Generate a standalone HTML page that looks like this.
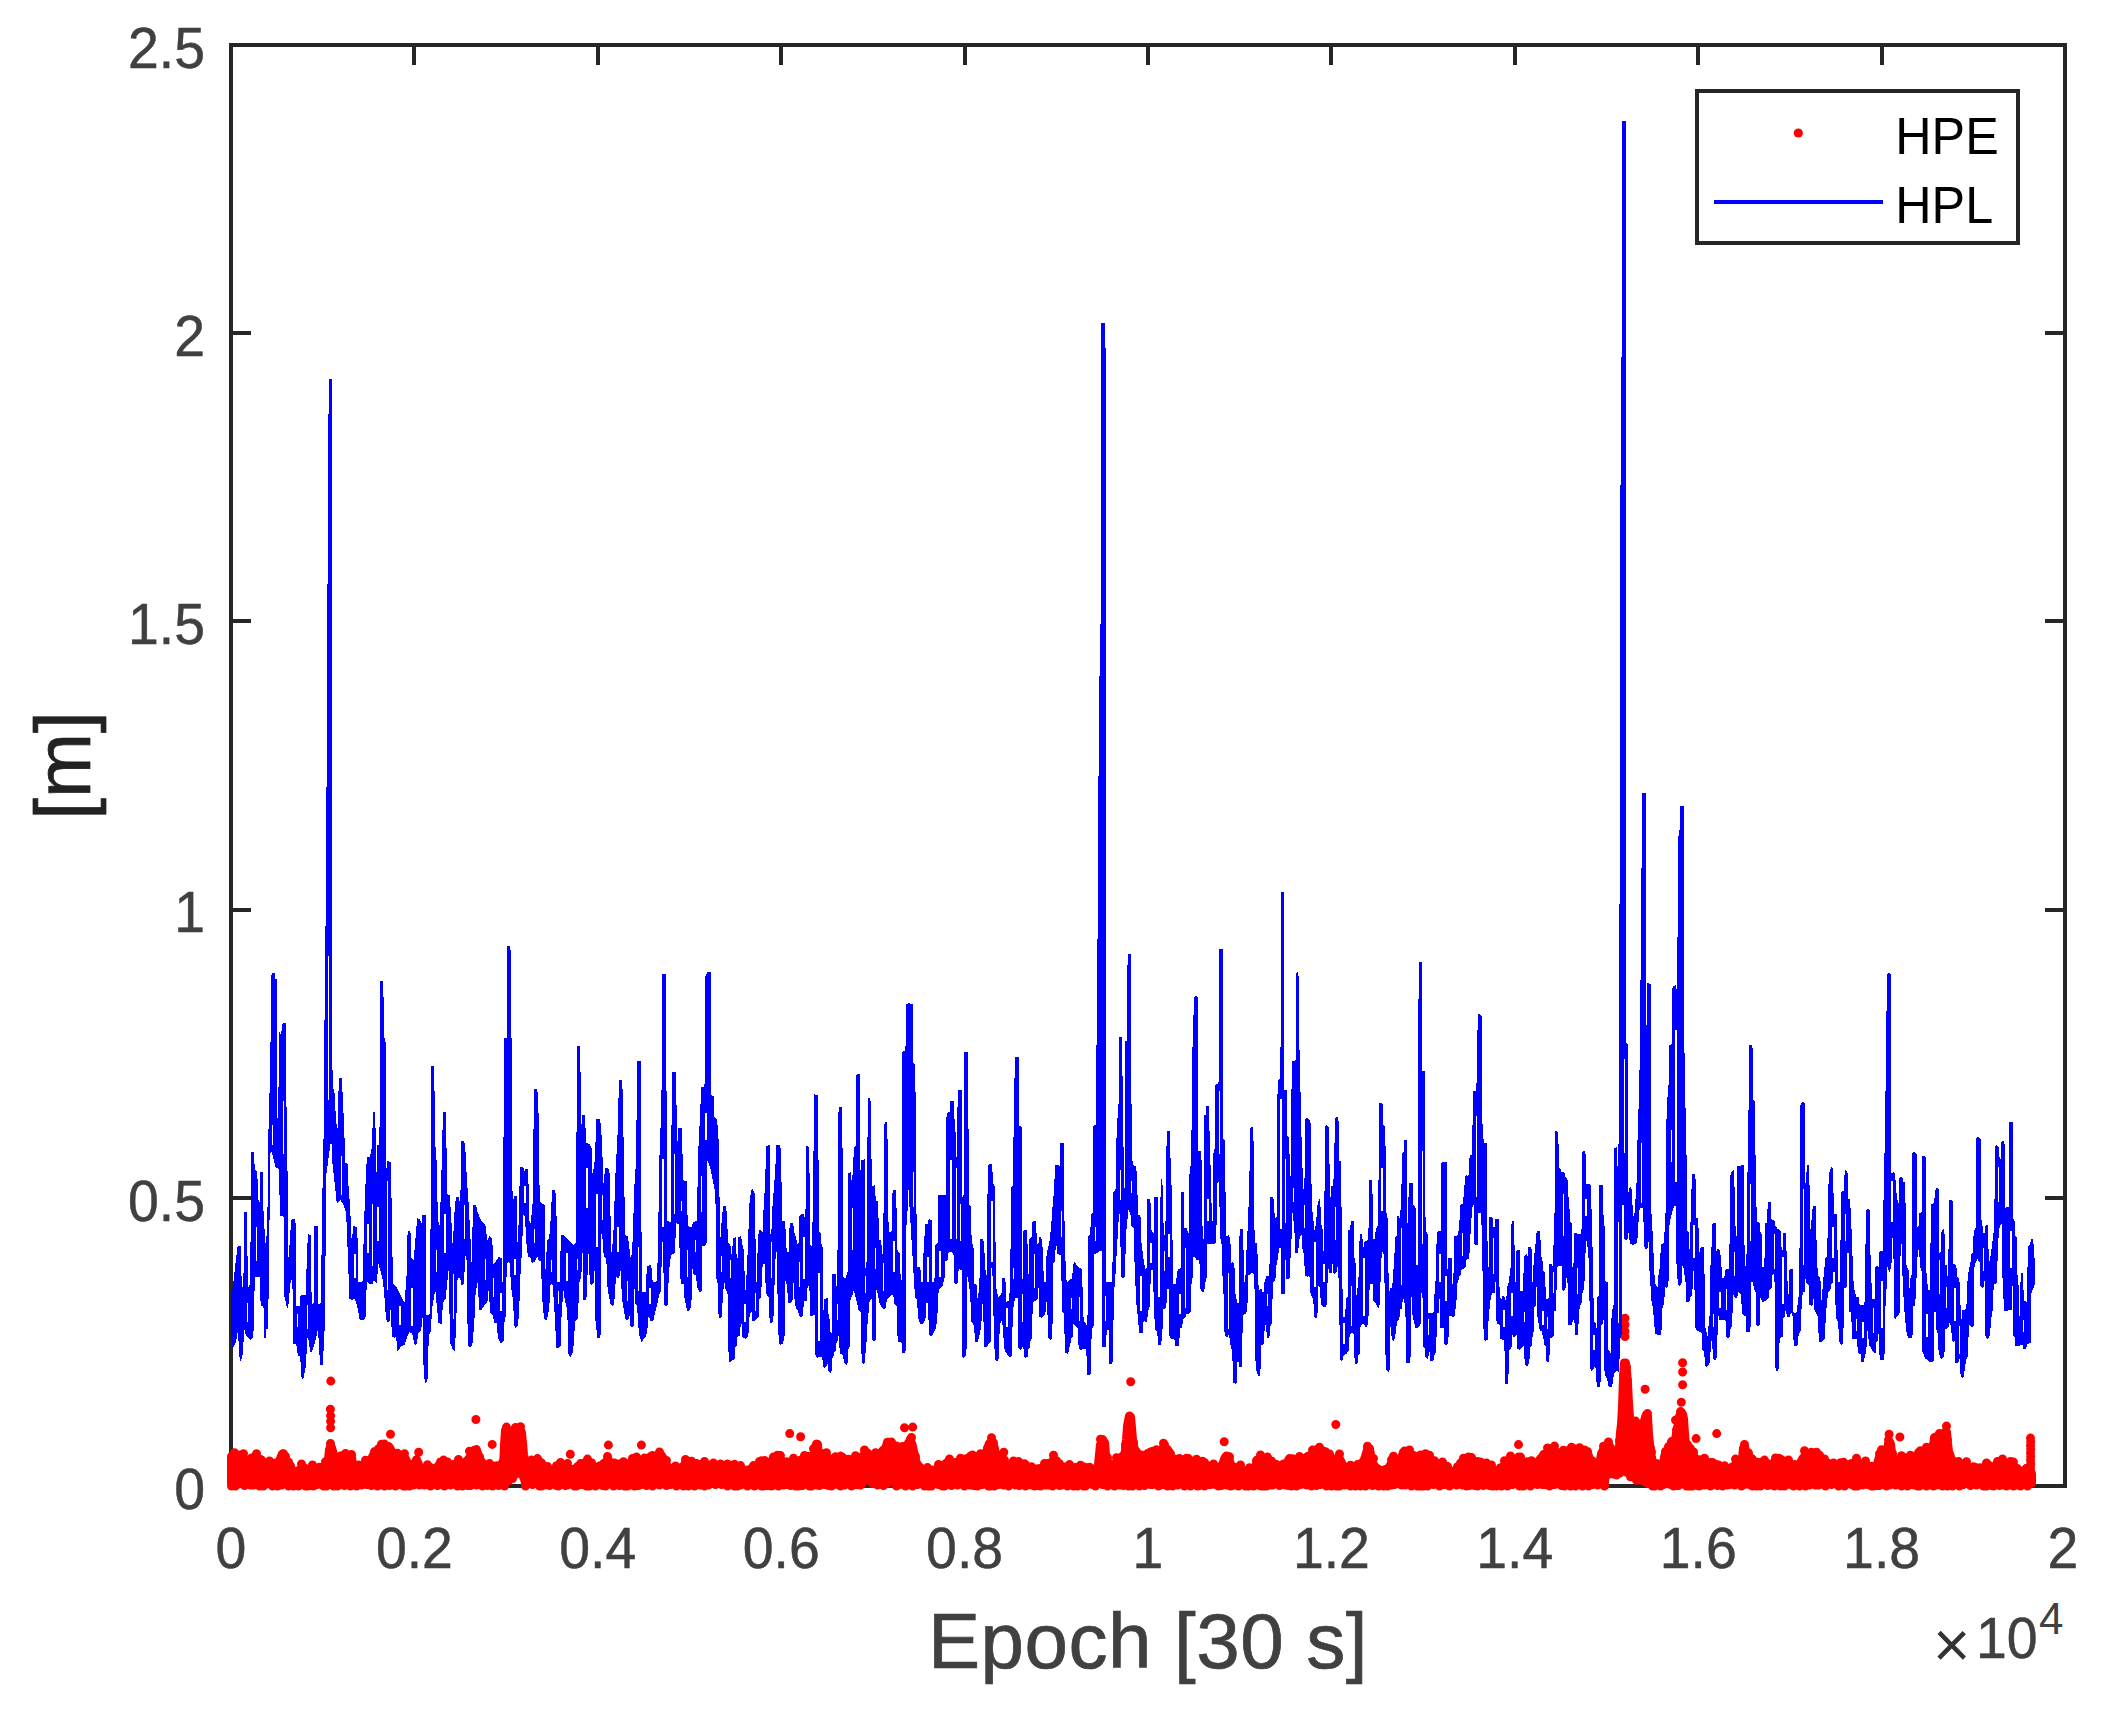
<!DOCTYPE html>
<html lang="en"><head><meta charset="utf-8"><title>HPE / HPL</title>
<style>html,body{margin:0;padding:0;background:#fff}body{width:2121px;height:1716px;overflow:hidden}svg{display:block}text{font-family:"Liberation Sans",sans-serif}.t{font-size:56.7px;fill:#404040;stroke:#404040;stroke-width:.5px}.l{font-size:78.2px;fill:#404040;stroke:#404040;stroke-width:.7px}</style></head><body>
<svg width="2121" height="1716" viewBox="0 0 2121 1716">
<rect width="2121" height="1716" fill="#fff"/>
<g stroke="#262626" stroke-width="4" fill="none" shape-rendering="crispEdges">
<path d="M231.0 1486.0v-20M231.0 45.0v20M414.4 1486.0v-20M414.4 45.0v20M597.8 1486.0v-20M597.8 45.0v20M781.2 1486.0v-20M781.2 45.0v20M964.6 1486.0v-20M964.6 45.0v20M1148.0 1486.0v-20M1148.0 45.0v20M1331.4 1486.0v-20M1331.4 45.0v20M1514.8 1486.0v-20M1514.8 45.0v20M1698.2 1486.0v-20M1698.2 45.0v20M1881.6 1486.0v-20M1881.6 45.0v20M2065.0 1486.0v-20M2065.0 45.0v20M231.0 1486.0h20M2065.0 1486.0h-20M231.0 1197.8h20M2065.0 1197.8h-20M231.0 909.6h20M2065.0 909.6h-20M231.0 621.4h20M2065.0 621.4h-20M231.0 333.2h20M2065.0 333.2h-20M231.0 45.0h20M2065.0 45.0h-20"/>
</g>
<rect x="231.0" y="45.0" width="1834.0" height="1441.0" fill="none" stroke="#262626" stroke-width="4" shape-rendering="crispEdges"/>
<g id="hpe"><polygon points="231.5,1458.9 232.5,1458.2 233.5,1457.5 234.5,1458.9 235.5,1458.2 236.5,1457.5 237.5,1456.4 238.5,1456.6 239.5,1456.9 240.5,1457.1 241.5,1457.4 242.5,1458.1 243.5,1458.9 244.5,1459.6 245.5,1460.4 246.5,1460.5 247.5,1460.5 248.5,1460.5 249.5,1460.5 250.5,1460.5 251.5,1460.5 252.5,1460.5 253.5,1460.2 254.5,1460.0 255.5,1459.7 256.5,1459.5 257.5,1459.2 258.5,1459.0 259.5,1458.9 260.5,1461.2 261.5,1463.5 262.5,1465.1 263.5,1465.3 264.5,1465.5 265.5,1465.7 266.5,1465.9 267.5,1466.1 268.5,1466.1 269.5,1466.1 270.5,1466.1 271.5,1466.1 272.5,1466.1 273.5,1466.1 274.5,1465.5 275.5,1464.9 276.5,1464.3 277.5,1463.7 278.5,1463.1 279.5,1461.4 280.5,1458.7 281.5,1456.1 282.5,1453.9 283.5,1457.3 284.5,1461.3 285.5,1463.3 286.5,1464.0 287.5,1464.8 288.5,1465.5 289.5,1466.4 290.5,1467.7 291.5,1468.9 292.5,1470.2 293.5,1471.4 294.5,1471.4 295.5,1471.4 296.5,1471.4 297.5,1471.4 298.5,1471.4 299.5,1471.4 300.5,1470.9 301.5,1470.2 302.5,1470.1 303.5,1470.8 304.5,1471.5 305.5,1471.5 306.5,1471.5 307.5,1471.5 308.5,1471.5 309.5,1471.5 310.5,1471.5 311.5,1471.0 312.5,1470.5 313.5,1470.0 314.5,1469.5 315.5,1469.3 316.5,1469.3 317.5,1469.3 318.5,1469.3 319.5,1469.3 320.5,1469.3 321.5,1469.3 322.5,1469.0 323.5,1468.8 324.5,1468.5 325.5,1468.3 326.5,1466.4 327.5,1464.3 328.5,1459.8 329.5,1449.8 330.5,1446.9 331.5,1447.6 332.5,1451.2 333.5,1454.9 334.5,1458.6 335.5,1459.4 336.5,1459.4 337.5,1459.4 338.5,1459.4 339.5,1459.4 340.5,1459.4 341.5,1459.4 342.5,1459.2 343.5,1459.0 344.5,1458.8 345.5,1458.6 346.5,1458.4 347.5,1458.2 348.5,1457.9 349.5,1457.7 350.5,1457.4 351.5,1457.4 352.5,1464.4 353.5,1469.3 354.5,1469.3 355.5,1469.3 356.5,1469.3 357.5,1469.3 358.5,1469.3 359.5,1469.3 360.5,1469.0 361.5,1468.8 362.5,1468.5 363.5,1468.3 364.5,1467.6 365.5,1466.9 366.5,1466.3 367.5,1465.4 368.5,1464.4 369.5,1463.4 370.5,1461.8 371.5,1459.4 372.5,1457.1 373.5,1455.1 374.5,1454.6 375.5,1454.1 376.5,1453.6 377.5,1453.1 378.5,1452.2 379.5,1451.2 380.5,1450.2 381.5,1449.2 382.5,1448.4 383.5,1447.7 384.5,1447.6 385.5,1447.6 386.5,1447.6 387.5,1447.6 388.5,1447.6 389.5,1447.6 390.5,1449.5 391.5,1454.0 392.5,1457.5 393.5,1457.8 394.5,1458.2 395.5,1458.5 396.5,1458.5 397.5,1458.5 398.5,1458.5 399.5,1458.5 400.5,1458.5 401.5,1458.5 402.5,1458.3 403.5,1458.2 404.5,1458.6 405.5,1459.1 406.5,1461.0 407.5,1469.2 408.5,1469.2 409.5,1469.2 410.5,1469.2 411.5,1469.2 412.5,1469.2 413.5,1469.2 414.5,1467.2 415.5,1465.2 416.5,1463.2 417.5,1462.1 418.5,1464.6 419.5,1469.4 420.5,1469.9 421.5,1470.4 422.5,1470.9 423.5,1471.4 424.5,1471.4 425.5,1471.4 426.5,1471.4 427.5,1471.4 428.5,1471.4 429.5,1471.4 430.5,1471.1 431.5,1470.6 432.5,1470.1 433.5,1469.6 434.5,1469.0 435.5,1468.4 436.5,1467.8 437.5,1467.2 438.5,1466.6 439.5,1466.0 440.5,1465.4 441.5,1464.8 442.5,1464.2 443.5,1463.6 444.5,1463.0 445.5,1462.0 446.5,1464.5 447.5,1467.0 448.5,1467.0 449.5,1467.0 450.5,1467.0 451.5,1467.0 452.5,1467.0 453.5,1467.0 454.5,1466.9 455.5,1466.7 456.5,1466.4 457.5,1466.2 458.5,1465.8 459.5,1465.3 460.5,1464.8 461.5,1464.3 462.5,1463.8 463.5,1463.3 464.5,1462.8 465.5,1462.3 466.5,1461.8 467.5,1460.5 468.5,1459.2 469.5,1457.8 470.5,1456.9 471.5,1456.1 472.5,1455.4 473.5,1454.6 474.5,1453.7 475.5,1452.7 476.5,1454.3 477.5,1456.0 478.5,1457.7 479.5,1459.2 480.5,1460.5 481.5,1461.8 482.5,1463.2 483.5,1464.9 484.5,1466.6 485.5,1468.2 486.5,1468.2 487.5,1468.2 488.5,1468.2 489.5,1468.2 490.5,1468.2 491.5,1468.6 492.5,1469.3 493.5,1469.3 494.5,1469.3 495.5,1469.3 496.5,1469.3 497.5,1469.3 498.5,1469.3 499.5,1469.3 500.5,1469.3 501.5,1469.3 502.5,1469.3 503.5,1467.7 504.5,1445.2 505.5,1430.1 506.5,1430.6 507.5,1431.3 508.5,1432.1 509.5,1432.8 510.5,1433.5 511.5,1433.5 512.5,1433.5 513.5,1433.5 514.5,1433.5 515.5,1433.5 516.5,1433.5 517.5,1432.5 518.5,1431.5 519.5,1430.5 520.5,1430.3 521.5,1432.8 522.5,1442.7 523.5,1454.4 524.5,1460.4 525.5,1466.4 526.5,1466.7 527.5,1466.7 528.5,1466.7 529.5,1466.7 530.5,1466.7 531.5,1466.7 532.5,1466.7 533.5,1466.2 534.5,1465.7 535.5,1465.2 536.5,1463.6 537.5,1461.1 538.5,1460.5 539.5,1462.4 540.5,1464.4 541.5,1466.4 542.5,1468.0 543.5,1469.3 544.5,1470.6 545.5,1471.3 546.5,1471.3 547.5,1471.3 548.5,1471.3 549.5,1471.3 550.5,1471.3 551.5,1471.3 552.5,1470.8 553.5,1470.3 554.5,1469.8 555.5,1469.3 556.5,1468.8 557.5,1468.3 558.5,1468.4 559.5,1468.8 560.5,1469.2 561.5,1469.6 562.5,1470.0 563.5,1470.4 564.5,1470.4 565.5,1470.4 566.5,1470.4 567.5,1470.4 568.5,1470.4 569.5,1470.4 570.5,1470.4 571.5,1470.4 572.5,1470.4 573.5,1470.4 574.5,1470.4 575.5,1470.4 576.5,1470.4 577.5,1470.1 578.5,1469.1 579.5,1468.1 580.5,1467.1 581.5,1466.1 582.5,1465.1 583.5,1465.2 584.5,1466.0 585.5,1466.0 586.5,1466.0 587.5,1466.0 588.5,1466.0 589.5,1466.0 590.5,1466.0 591.5,1465.7 592.5,1465.5 593.5,1466.8 594.5,1468.5 595.5,1468.9 596.5,1468.9 597.5,1468.9 598.5,1468.9 599.5,1468.9 600.5,1468.9 601.5,1468.9 602.5,1468.1 603.5,1467.3 604.5,1466.5 605.5,1465.7 606.5,1464.8 607.5,1461.5 608.5,1462.3 609.5,1463.2 610.5,1464.2 611.5,1465.2 612.5,1466.1 613.5,1466.3 614.5,1466.4 615.5,1466.6 616.5,1466.8 617.5,1466.9 618.5,1467.1 619.5,1467.1 620.5,1467.1 621.5,1467.1 622.5,1467.1 623.5,1467.1 624.5,1467.1 625.5,1466.8 626.5,1466.3 627.5,1465.8 628.5,1465.3 629.5,1464.8 630.5,1464.3 631.5,1463.8 632.5,1463.1 633.5,1462.3 634.5,1461.6 635.5,1460.8 636.5,1460.5 637.5,1460.2 638.5,1460.1 639.5,1460.3 640.5,1460.4 641.5,1460.5 642.5,1460.6 643.5,1460.6 644.5,1460.6 645.5,1460.6 646.5,1460.6 647.5,1460.6 648.5,1460.6 649.5,1460.2 650.5,1459.6 651.5,1459.9 652.5,1460.6 653.5,1460.6 654.5,1460.6 655.5,1460.6 656.5,1460.6 657.5,1460.6 658.5,1460.6 659.5,1458.6 660.5,1456.6 661.5,1455.5 662.5,1458.0 663.5,1460.5 664.5,1462.9 665.5,1464.4 666.5,1465.9 667.5,1467.4 668.5,1468.9 669.5,1469.5 670.5,1469.6 671.5,1469.8 672.5,1470.0 673.5,1470.1 674.5,1470.3 675.5,1470.3 676.5,1470.3 677.5,1470.3 678.5,1470.3 679.5,1470.3 680.5,1470.3 681.5,1470.0 682.5,1468.3 683.5,1466.5 684.5,1464.8 685.5,1463.0 686.5,1463.0 687.5,1464.0 688.5,1465.0 689.5,1466.0 690.5,1467.0 691.5,1467.0 692.5,1467.0 693.5,1467.0 694.5,1467.0 695.5,1467.0 696.5,1467.0 697.5,1466.7 698.5,1466.2 699.5,1465.7 700.5,1465.2 701.5,1464.7 702.5,1464.8 703.5,1465.0 704.5,1465.5 705.5,1466.2 706.5,1466.9 707.5,1467.5 708.5,1468.2 709.5,1468.9 710.5,1469.3 711.5,1469.3 712.5,1469.3 713.5,1469.3 714.5,1469.3 715.5,1469.3 716.5,1469.3 717.5,1469.1 718.5,1468.9 719.5,1468.8 720.5,1469.0 721.5,1469.2 722.5,1469.2 723.5,1469.2 724.5,1469.2 725.5,1469.2 726.5,1469.2 727.5,1469.2 728.5,1469.0 729.5,1468.2 730.5,1467.4 731.5,1466.6 732.5,1465.8 733.5,1465.0 734.5,1464.4 735.5,1465.4 736.5,1466.5 737.5,1467.9 738.5,1469.3 739.5,1470.7 740.5,1472.1 741.5,1473.5 742.5,1473.5 743.5,1473.5 744.5,1473.5 745.5,1473.5 746.5,1473.5 747.5,1473.5 748.5,1473.2 749.5,1472.6 750.5,1472.0 751.5,1471.4 752.5,1470.8 753.5,1470.0 754.5,1469.2 755.5,1468.4 756.5,1467.5 757.5,1466.7 758.5,1465.9 759.5,1465.0 760.5,1464.6 761.5,1464.2 762.5,1463.8 763.5,1463.4 764.5,1463.4 765.5,1463.7 766.5,1463.9 767.5,1463.9 768.5,1463.9 769.5,1463.9 770.5,1463.9 771.5,1463.9 772.5,1463.9 773.5,1462.8 774.5,1461.5 775.5,1460.3 776.5,1459.0 777.5,1457.7 778.5,1458.5 779.5,1459.5 780.5,1460.5 781.5,1461.5 782.5,1462.5 783.5,1462.7 784.5,1462.7 785.5,1462.7 786.5,1462.7 787.5,1462.7 788.5,1462.7 789.5,1462.7 790.5,1463.4 791.5,1464.2 792.5,1464.9 793.5,1464.9 794.5,1464.9 795.5,1464.9 796.5,1464.9 797.5,1464.9 798.5,1464.9 799.5,1464.1 800.5,1463.1 801.5,1462.1 802.5,1461.1 803.5,1460.6 804.5,1460.4 805.5,1460.2 806.5,1460.1 807.5,1459.9 808.5,1459.7 809.5,1459.5 810.5,1458.5 811.5,1457.5 812.5,1456.5 813.5,1455.5 814.5,1454.5 815.5,1449.2 816.5,1444.1 817.5,1445.4 818.5,1455.0 819.5,1456.5 820.5,1456.7 821.5,1456.9 822.5,1457.1 823.5,1457.3 824.5,1457.8 825.5,1458.6 826.5,1459.4 827.5,1460.2 828.5,1461.0 829.5,1461.7 830.5,1461.7 831.5,1461.7 832.5,1461.7 833.5,1461.7 834.5,1461.7 835.5,1461.7 836.5,1461.2 837.5,1460.7 838.5,1460.2 839.5,1459.7 840.5,1456.1 841.5,1456.8 842.5,1458.5 843.5,1459.5 844.5,1460.5 845.5,1461.5 846.5,1462.5 847.5,1462.7 848.5,1462.7 849.5,1462.7 850.5,1462.7 851.5,1462.7 852.5,1462.7 853.5,1462.7 854.5,1462.5 855.5,1462.4 856.5,1462.2 857.5,1462.0 858.5,1461.9 859.5,1461.5 860.5,1460.0 861.5,1458.5 862.5,1457.0 863.5,1455.5 864.5,1454.8 865.5,1454.3 866.5,1453.8 867.5,1453.3 868.5,1455.4 869.5,1458.2 870.5,1458.8 871.5,1459.1 872.5,1459.5 873.5,1459.5 874.5,1459.5 875.5,1459.5 876.5,1459.5 877.5,1459.5 878.5,1459.5 879.5,1458.9 880.5,1457.9 881.5,1456.9 882.5,1455.5 883.5,1453.5 884.5,1451.5 885.5,1449.3 886.5,1445.8 887.5,1442.3 888.5,1442.3 889.5,1443.1 890.5,1443.8 891.5,1444.6 892.5,1445.3 893.5,1446.1 894.5,1446.8 895.5,1447.6 896.5,1449.4 897.5,1451.4 898.5,1453.4 899.5,1453.4 900.5,1453.4 901.5,1453.4 902.5,1453.4 903.5,1453.4 904.5,1453.4 905.5,1453.1 906.5,1451.4 907.5,1449.6 908.5,1443.0 909.5,1441.9 910.5,1442.5 911.5,1443.1 912.5,1446.4 913.5,1451.4 914.5,1455.9 915.5,1459.9 916.5,1463.9 917.5,1467.9 918.5,1471.5 919.5,1471.9 920.5,1472.2 921.5,1472.5 922.5,1472.9 923.5,1473.2 924.5,1473.5 925.5,1473.5 926.5,1473.5 927.5,1473.5 928.5,1473.5 929.5,1473.5 930.5,1473.5 931.5,1473.5 932.5,1473.1 933.5,1472.8 934.5,1472.5 935.5,1472.1 936.5,1471.8 937.5,1471.4 938.5,1470.6 939.5,1469.8 940.5,1468.9 941.5,1468.1 942.5,1467.3 943.5,1466.4 944.5,1465.9 945.5,1465.7 946.5,1465.5 947.5,1465.3 948.5,1465.5 949.5,1465.7 950.5,1466.0 951.5,1466.0 952.5,1466.0 953.5,1466.0 954.5,1466.0 955.5,1466.0 956.5,1466.0 957.5,1465.9 958.5,1465.6 959.5,1465.2 960.5,1464.9 961.5,1464.6 962.5,1464.2 963.5,1463.9 964.5,1463.1 965.5,1462.4 966.5,1461.6 967.5,1460.9 968.5,1460.1 969.5,1459.4 970.5,1458.6 971.5,1457.9 972.5,1458.4 973.5,1459.4 974.5,1460.4 975.5,1460.4 976.5,1460.4 977.5,1460.4 978.5,1460.4 979.5,1460.4 980.5,1460.4 981.5,1459.8 982.5,1458.5 983.5,1457.3 984.5,1456.0 985.5,1454.3 986.5,1451.8 987.5,1449.2 988.5,1446.2 989.5,1443.3 990.5,1443.1 991.5,1443.8 992.5,1444.8 993.5,1445.8 994.5,1448.6 995.5,1457.4 996.5,1457.8 997.5,1458.1 998.5,1458.4 999.5,1459.5 1000.5,1460.7 1001.5,1461.8 1002.5,1463.0 1003.5,1464.2 1004.5,1465.3 1005.5,1466.0 1006.5,1466.0 1007.5,1466.0 1008.5,1466.0 1009.5,1466.0 1010.5,1466.0 1011.5,1466.0 1012.5,1465.8 1013.5,1465.7 1014.5,1465.5 1015.5,1465.3 1016.5,1465.2 1017.5,1465.0 1018.5,1464.5 1019.5,1464.8 1020.5,1466.0 1021.5,1467.2 1022.5,1467.5 1023.5,1467.8 1024.5,1468.0 1025.5,1468.3 1026.5,1468.6 1027.5,1468.9 1028.5,1469.2 1029.5,1469.3 1030.5,1469.3 1031.5,1469.3 1032.5,1469.3 1033.5,1469.3 1034.5,1469.3 1035.5,1469.3 1036.5,1469.1 1037.5,1469.0 1038.5,1468.9 1039.5,1468.8 1040.5,1468.6 1041.5,1468.5 1042.5,1468.4 1043.5,1468.3 1044.5,1468.0 1045.5,1467.6 1046.5,1467.3 1047.5,1467.0 1048.5,1466.6 1049.5,1466.3 1050.5,1465.5 1051.5,1463.9 1052.5,1462.2 1053.5,1461.5 1054.5,1462.4 1055.5,1463.3 1056.5,1464.3 1057.5,1465.3 1058.5,1466.3 1059.5,1467.3 1060.5,1468.3 1061.5,1469.3 1062.5,1469.5 1063.5,1469.7 1064.5,1469.8 1065.5,1470.0 1066.5,1470.2 1067.5,1470.3 1068.5,1470.4 1069.5,1470.4 1070.5,1470.4 1071.5,1470.4 1072.5,1470.4 1073.5,1470.4 1074.5,1470.4 1075.5,1470.4 1076.5,1470.4 1077.5,1470.4 1078.5,1470.4 1079.5,1470.4 1080.5,1470.4 1081.5,1470.4 1082.5,1470.4 1083.5,1470.3 1084.5,1470.2 1085.5,1470.1 1086.5,1469.9 1087.5,1469.8 1088.5,1470.0 1089.5,1470.2 1090.5,1470.4 1091.5,1470.4 1092.5,1470.4 1093.5,1470.4 1094.5,1470.4 1095.5,1470.4 1096.5,1470.4 1097.5,1468.0 1098.5,1464.5 1099.5,1454.4 1100.5,1444.7 1101.5,1443.1 1102.5,1441.4 1103.5,1441.2 1104.5,1442.7 1105.5,1454.1 1106.5,1463.1 1107.5,1463.6 1108.5,1464.1 1109.5,1464.6 1110.5,1464.7 1111.5,1464.7 1112.5,1464.7 1113.5,1464.7 1114.5,1464.7 1115.5,1464.7 1116.5,1464.7 1117.5,1463.0 1118.5,1461.4 1119.5,1459.7 1120.5,1459.3 1121.5,1459.1 1122.5,1458.8 1123.5,1458.6 1124.5,1455.6 1125.5,1450.6 1126.5,1440.1 1127.5,1426.3 1128.5,1420.8 1129.5,1416.0 1130.5,1416.9 1131.5,1427.6 1132.5,1439.7 1133.5,1445.7 1134.5,1450.7 1135.5,1453.3 1136.5,1456.0 1137.5,1458.4 1138.5,1458.4 1139.5,1458.4 1140.5,1458.4 1141.5,1458.4 1142.5,1458.4 1143.5,1458.4 1144.5,1457.5 1145.5,1456.5 1146.5,1455.6 1147.5,1454.6 1148.5,1453.6 1149.5,1453.0 1150.5,1454.0 1151.5,1454.0 1152.5,1454.0 1153.5,1454.0 1154.5,1454.0 1155.5,1454.0 1156.5,1454.0 1157.5,1453.3 1158.5,1452.3 1159.5,1451.3 1160.5,1450.3 1161.5,1449.6 1162.5,1449.1 1163.5,1448.6 1164.5,1448.1 1165.5,1448.5 1166.5,1449.0 1167.5,1449.5 1168.5,1451.2 1169.5,1454.2 1170.5,1457.2 1171.5,1459.7 1172.5,1460.3 1173.5,1460.9 1174.5,1461.5 1175.5,1462.1 1176.5,1462.7 1177.5,1462.7 1178.5,1462.7 1179.5,1462.7 1180.5,1462.7 1181.5,1462.7 1182.5,1462.7 1183.5,1462.7 1184.5,1462.6 1185.5,1462.5 1186.5,1462.3 1187.5,1462.2 1188.5,1462.1 1189.5,1462.0 1190.5,1461.8 1191.5,1461.7 1192.5,1461.6 1193.5,1461.5 1194.5,1461.3 1195.5,1461.9 1196.5,1462.7 1197.5,1463.5 1198.5,1464.4 1199.5,1465.2 1200.5,1466.0 1201.5,1466.0 1202.5,1466.0 1203.5,1466.0 1204.5,1466.0 1205.5,1466.0 1206.5,1466.0 1207.5,1466.3 1208.5,1468.1 1209.5,1469.3 1210.5,1469.3 1211.5,1469.3 1212.5,1469.3 1213.5,1469.3 1214.5,1469.3 1215.5,1469.3 1216.5,1469.1 1217.5,1469.0 1218.5,1468.8 1219.5,1468.6 1220.5,1468.5 1221.5,1468.3 1222.5,1465.7 1223.5,1462.4 1224.5,1459.0 1225.5,1457.1 1226.5,1457.1 1227.5,1457.7 1228.5,1458.3 1229.5,1461.0 1230.5,1464.3 1231.5,1467.7 1232.5,1469.5 1233.5,1469.9 1234.5,1470.3 1235.5,1470.7 1236.5,1471.1 1237.5,1471.5 1238.5,1471.7 1239.5,1471.8 1240.5,1472.0 1241.5,1472.2 1242.5,1472.3 1243.5,1472.5 1244.5,1472.5 1245.5,1472.5 1246.5,1472.5 1247.5,1472.5 1248.5,1472.5 1249.5,1472.5 1250.5,1472.2 1251.5,1471.6 1252.5,1471.0 1253.5,1470.4 1254.5,1469.8 1255.5,1468.7 1256.5,1464.2 1257.5,1459.7 1258.5,1459.5 1259.5,1460.3 1260.5,1461.1 1261.5,1461.7 1262.5,1461.7 1263.5,1461.7 1264.5,1461.7 1265.5,1461.7 1266.5,1461.7 1267.5,1461.7 1268.5,1462.1 1269.5,1462.9 1270.5,1463.7 1271.5,1464.5 1272.5,1465.7 1273.5,1467.7 1274.5,1469.7 1275.5,1471.4 1276.5,1471.4 1277.5,1471.4 1278.5,1471.4 1279.5,1471.4 1280.5,1471.4 1281.5,1471.4 1282.5,1470.6 1283.5,1469.8 1284.5,1469.0 1285.5,1468.2 1286.5,1467.4 1287.5,1464.4 1288.5,1460.4 1289.5,1458.5 1290.5,1459.3 1291.5,1460.0 1292.5,1460.8 1293.5,1461.5 1294.5,1461.5 1295.5,1461.5 1296.5,1461.5 1297.5,1461.5 1298.5,1461.5 1299.5,1461.5 1300.5,1461.3 1301.5,1460.6 1302.5,1459.9 1303.5,1459.3 1304.5,1458.6 1305.5,1457.9 1306.5,1457.3 1307.5,1456.8 1308.5,1456.3 1309.5,1455.8 1310.5,1455.3 1311.5,1454.8 1312.5,1454.3 1313.5,1454.0 1314.5,1453.7 1315.5,1453.4 1316.5,1453.2 1317.5,1452.9 1318.5,1452.8 1319.5,1452.9 1320.5,1453.0 1321.5,1453.0 1322.5,1453.2 1323.5,1453.6 1324.5,1453.9 1325.5,1454.2 1326.5,1454.6 1327.5,1454.9 1328.5,1455.2 1329.5,1457.5 1330.5,1459.9 1331.5,1462.2 1332.5,1462.2 1333.5,1462.2 1334.5,1462.2 1335.5,1462.2 1336.5,1462.2 1337.5,1462.2 1338.5,1461.9 1339.5,1460.7 1340.5,1460.8 1341.5,1462.8 1342.5,1464.8 1343.5,1466.8 1344.5,1468.8 1345.5,1469.6 1346.5,1470.0 1347.5,1470.4 1348.5,1470.8 1349.5,1471.2 1350.5,1471.2 1351.5,1471.2 1352.5,1471.2 1353.5,1471.2 1354.5,1471.2 1355.5,1471.2 1356.5,1471.2 1357.5,1470.2 1358.5,1469.2 1359.5,1468.2 1360.5,1467.2 1361.5,1466.2 1362.5,1464.0 1363.5,1461.7 1364.5,1459.4 1365.5,1456.4 1366.5,1453.1 1367.5,1449.7 1368.5,1448.2 1369.5,1449.5 1370.5,1454.5 1371.5,1460.5 1372.5,1463.6 1373.5,1464.8 1374.5,1466.1 1375.5,1467.3 1376.5,1468.4 1377.5,1468.9 1378.5,1469.4 1379.5,1469.9 1380.5,1470.4 1381.5,1470.4 1382.5,1470.4 1383.5,1470.4 1384.5,1470.4 1385.5,1470.4 1386.5,1470.4 1387.5,1469.2 1388.5,1468.0 1389.5,1466.7 1390.5,1465.5 1391.5,1463.2 1392.5,1461.0 1393.5,1462.4 1394.5,1463.7 1395.5,1463.7 1396.5,1463.7 1397.5,1463.7 1398.5,1463.7 1399.5,1463.7 1400.5,1463.7 1401.5,1460.1 1402.5,1455.6 1403.5,1452.1 1404.5,1451.1 1405.5,1454.1 1406.5,1454.6 1407.5,1455.1 1408.5,1455.6 1409.5,1456.1 1410.5,1456.1 1411.5,1456.1 1412.5,1456.1 1413.5,1456.1 1414.5,1456.1 1415.5,1456.1 1416.5,1456.5 1417.5,1457.5 1418.5,1458.5 1419.5,1458.5 1420.5,1458.5 1421.5,1458.5 1422.5,1458.5 1423.5,1458.5 1424.5,1458.5 1425.5,1458.3 1426.5,1458.1 1427.5,1458.0 1428.5,1458.2 1429.5,1458.3 1430.5,1458.6 1431.5,1460.6 1432.5,1462.6 1433.5,1464.6 1434.5,1465.0 1435.5,1465.0 1436.5,1465.0 1437.5,1465.0 1438.5,1465.0 1439.5,1465.0 1440.5,1465.0 1441.5,1465.0 1442.5,1465.0 1443.5,1465.1 1444.5,1466.6 1445.5,1468.1 1446.5,1469.6 1447.5,1471.1 1448.5,1471.3 1449.5,1471.3 1450.5,1471.3 1451.5,1471.3 1452.5,1471.3 1453.5,1471.3 1454.5,1471.3 1455.5,1470.9 1456.5,1470.6 1457.5,1470.3 1458.5,1469.9 1459.5,1469.6 1460.5,1468.7 1461.5,1465.7 1462.5,1462.8 1463.5,1461.8 1464.5,1460.8 1465.5,1459.8 1466.5,1458.8 1467.5,1458.7 1468.5,1460.0 1469.5,1461.2 1470.5,1462.5 1471.5,1463.7 1472.5,1463.9 1473.5,1463.9 1474.5,1463.9 1475.5,1463.9 1476.5,1463.9 1477.5,1463.9 1478.5,1463.9 1479.5,1463.9 1480.5,1463.9 1481.5,1464.1 1482.5,1464.3 1483.5,1464.4 1484.5,1464.6 1485.5,1464.8 1486.5,1464.9 1487.5,1465.7 1488.5,1466.7 1489.5,1467.7 1490.5,1468.7 1491.5,1469.7 1492.5,1470.7 1493.5,1471.3 1494.5,1471.3 1495.5,1471.3 1496.5,1471.3 1497.5,1471.3 1498.5,1471.3 1499.5,1471.3 1500.5,1470.3 1501.5,1469.3 1502.5,1468.3 1503.5,1467.3 1504.5,1466.3 1505.5,1465.3 1506.5,1464.0 1507.5,1462.5 1508.5,1461.0 1509.5,1459.5 1510.5,1459.5 1511.5,1459.5 1512.5,1459.5 1513.5,1459.5 1514.5,1459.5 1515.5,1459.5 1516.5,1459.5 1517.5,1459.4 1518.5,1460.6 1519.5,1461.7 1520.5,1462.8 1521.5,1463.1 1522.5,1463.4 1523.5,1463.7 1524.5,1464.0 1525.5,1464.3 1526.5,1464.6 1527.5,1464.8 1528.5,1464.8 1529.5,1464.8 1530.5,1464.8 1531.5,1464.8 1532.5,1464.8 1533.5,1464.8 1534.5,1464.6 1535.5,1463.8 1536.5,1462.9 1537.5,1462.1 1538.5,1461.3 1539.5,1460.4 1540.5,1459.6 1541.5,1458.6 1542.5,1457.6 1543.5,1456.6 1544.5,1455.6 1545.5,1455.1 1546.5,1455.0 1547.5,1454.8 1548.5,1454.6 1549.5,1454.5 1550.5,1454.3 1551.5,1454.1 1552.5,1453.3 1553.5,1452.6 1554.5,1451.8 1555.5,1451.6 1556.5,1452.9 1557.5,1454.1 1558.5,1455.2 1559.5,1455.2 1560.5,1455.2 1561.5,1455.2 1562.5,1455.2 1563.5,1455.2 1564.5,1455.2 1565.5,1454.5 1566.5,1453.8 1567.5,1453.2 1568.5,1452.5 1569.5,1451.8 1570.5,1451.2 1571.5,1450.3 1572.5,1449.3 1573.5,1448.6 1574.5,1449.6 1575.5,1450.1 1576.5,1450.5 1577.5,1450.9 1578.5,1451.3 1579.5,1451.7 1580.5,1451.9 1581.5,1451.9 1582.5,1451.9 1583.5,1451.9 1584.5,1451.9 1585.5,1451.9 1586.5,1451.9 1587.5,1453.4 1588.5,1456.1 1589.5,1458.9 1590.5,1461.6 1591.5,1464.5 1592.5,1467.5 1593.5,1467.5 1594.5,1467.5 1595.5,1467.5 1596.5,1467.5 1597.5,1467.5 1598.5,1467.5 1599.5,1466.5 1600.5,1459.5 1601.5,1453.7 1602.5,1451.7 1603.5,1449.8 1604.5,1449.3 1605.5,1448.8 1606.5,1448.4 1607.5,1447.9 1608.5,1447.3 1609.5,1446.8 1610.5,1447.5 1611.5,1453.4 1612.5,1460.4 1613.5,1460.4 1614.5,1460.4 1615.5,1460.4 1616.5,1460.4 1617.5,1460.4 1618.5,1460.4 1619.5,1447.1 1620.5,1432.2 1621.5,1424.2 1622.5,1406.6 1623.5,1378.4 1624.5,1363.1 1625.5,1363.1 1626.5,1371.1 1627.5,1383.6 1628.5,1402.9 1629.5,1417.1 1630.5,1422.1 1631.5,1426.0 1632.5,1426.2 1633.5,1426.4 1634.5,1426.6 1635.5,1426.8 1636.5,1427.0 1637.5,1427.0 1638.5,1427.0 1639.5,1427.0 1640.5,1427.0 1641.5,1427.0 1642.5,1427.0 1643.5,1424.2 1644.5,1420.7 1645.5,1417.1 1646.5,1414.5 1647.5,1416.1 1648.5,1434.4 1649.5,1443.8 1650.5,1451.8 1651.5,1457.7 1652.5,1462.7 1653.5,1465.3 1654.5,1465.8 1655.5,1466.3 1656.5,1466.8 1657.5,1466.8 1658.5,1466.8 1659.5,1466.8 1660.5,1466.8 1661.5,1466.8 1662.5,1466.8 1663.5,1465.5 1664.5,1456.9 1665.5,1453.4 1666.5,1452.3 1667.5,1451.2 1668.5,1450.1 1669.5,1449.1 1670.5,1447.8 1671.5,1446.4 1672.5,1445.0 1673.5,1443.6 1674.5,1442.2 1675.5,1439.5 1676.5,1433.5 1677.5,1427.7 1678.5,1423.7 1679.5,1419.7 1680.5,1415.7 1681.5,1412.6 1682.5,1414.3 1683.5,1418.8 1684.5,1433.5 1685.5,1445.5 1686.5,1446.8 1687.5,1448.1 1688.5,1449.5 1689.5,1450.8 1690.5,1452.1 1691.5,1453.5 1692.5,1454.8 1693.5,1456.1 1694.5,1457.5 1695.5,1458.7 1696.5,1459.7 1697.5,1460.7 1698.5,1461.7 1699.5,1462.7 1700.5,1463.7 1701.5,1464.1 1702.5,1464.3 1703.5,1464.5 1704.5,1464.7 1705.5,1464.9 1706.5,1464.9 1707.5,1464.9 1708.5,1464.9 1709.5,1464.9 1710.5,1464.9 1711.5,1464.9 1712.5,1464.9 1713.5,1464.5 1714.5,1464.2 1715.5,1464.3 1716.5,1464.8 1717.5,1465.7 1718.5,1466.9 1719.5,1468.1 1720.5,1469.3 1721.5,1470.5 1722.5,1471.4 1723.5,1471.4 1724.5,1471.4 1725.5,1471.4 1726.5,1471.4 1727.5,1471.4 1728.5,1471.4 1729.5,1470.4 1730.5,1469.4 1731.5,1468.4 1732.5,1467.4 1733.5,1466.4 1734.5,1465.8 1735.5,1465.4 1736.5,1465.0 1737.5,1464.6 1738.5,1464.2 1739.5,1463.4 1740.5,1461.8 1741.5,1460.1 1742.5,1458.1 1743.5,1448.1 1744.5,1447.0 1745.5,1450.6 1746.5,1456.4 1747.5,1456.8 1748.5,1457.2 1749.5,1457.6 1750.5,1458.0 1751.5,1458.4 1752.5,1461.5 1753.5,1465.0 1754.5,1465.8 1755.5,1465.8 1756.5,1465.8 1757.5,1465.8 1758.5,1465.8 1759.5,1465.8 1760.5,1465.8 1761.5,1465.5 1762.5,1465.2 1763.5,1464.8 1764.5,1464.6 1765.5,1464.8 1766.5,1464.9 1767.5,1464.9 1768.5,1464.9 1769.5,1464.9 1770.5,1464.9 1771.5,1464.9 1772.5,1464.9 1773.5,1464.4 1774.5,1463.6 1775.5,1462.8 1776.5,1461.9 1777.5,1461.1 1778.5,1460.3 1779.5,1459.4 1780.5,1459.0 1781.5,1460.1 1782.5,1461.1 1783.5,1462.1 1784.5,1463.1 1785.5,1464.1 1786.5,1465.1 1787.5,1465.6 1788.5,1466.1 1789.5,1466.6 1790.5,1467.1 1791.5,1467.6 1792.5,1468.1 1793.5,1468.1 1794.5,1468.1 1795.5,1468.1 1796.5,1468.1 1797.5,1468.1 1798.5,1468.1 1799.5,1466.5 1800.5,1463.8 1801.5,1461.2 1802.5,1459.0 1803.5,1457.7 1804.5,1457.2 1805.5,1457.2 1806.5,1457.2 1807.5,1457.2 1808.5,1457.2 1809.5,1457.2 1810.5,1457.2 1811.5,1457.1 1812.5,1456.7 1813.5,1456.3 1814.5,1455.9 1815.5,1455.5 1816.5,1455.2 1817.5,1455.5 1818.5,1457.1 1819.5,1458.8 1820.5,1460.1 1821.5,1461.1 1822.5,1462.1 1823.5,1463.1 1824.5,1464.1 1825.5,1465.1 1826.5,1465.7 1827.5,1466.4 1828.5,1467.1 1829.5,1467.7 1830.5,1468.4 1831.5,1469.1 1832.5,1469.1 1833.5,1469.1 1834.5,1469.1 1835.5,1469.1 1836.5,1469.1 1837.5,1469.1 1838.5,1468.8 1839.5,1468.0 1840.5,1467.2 1841.5,1466.3 1842.5,1465.5 1843.5,1464.7 1844.5,1463.9 1845.5,1464.2 1846.5,1464.7 1847.5,1465.2 1848.5,1465.7 1849.5,1465.9 1850.5,1465.9 1851.5,1465.9 1852.5,1465.9 1853.5,1465.9 1854.5,1465.9 1855.5,1465.9 1856.5,1465.1 1857.5,1464.4 1858.5,1463.6 1859.5,1463.8 1860.5,1465.8 1861.5,1467.2 1862.5,1467.2 1863.5,1467.2 1864.5,1467.2 1865.5,1467.2 1866.5,1467.2 1867.5,1467.2 1868.5,1467.2 1869.5,1467.2 1870.5,1467.2 1871.5,1467.2 1872.5,1467.2 1873.5,1467.2 1874.5,1467.2 1875.5,1467.2 1876.5,1467.2 1877.5,1464.6 1878.5,1460.1 1879.5,1457.2 1880.5,1456.6 1881.5,1456.0 1882.5,1455.4 1883.5,1454.8 1884.5,1454.2 1885.5,1452.8 1886.5,1451.5 1887.5,1450.2 1888.5,1443.9 1889.5,1442.3 1890.5,1443.9 1891.5,1453.9 1892.5,1456.7 1893.5,1459.4 1894.5,1462.1 1895.5,1462.5 1896.5,1462.5 1897.5,1462.5 1898.5,1462.5 1899.5,1462.5 1900.5,1462.5 1901.5,1462.5 1902.5,1462.0 1903.5,1461.5 1904.5,1461.0 1905.5,1460.5 1906.5,1460.0 1907.5,1459.6 1908.5,1459.6 1909.5,1459.6 1910.5,1459.6 1911.5,1459.6 1912.5,1459.6 1913.5,1459.6 1914.5,1458.9 1915.5,1457.9 1916.5,1456.9 1917.5,1455.9 1918.5,1455.1 1919.5,1454.7 1920.5,1454.3 1921.5,1454.0 1922.5,1453.6 1923.5,1453.2 1924.5,1452.8 1925.5,1452.5 1926.5,1452.1 1927.5,1451.5 1928.5,1450.8 1929.5,1450.2 1930.5,1449.5 1931.5,1448.8 1932.5,1448.2 1933.5,1445.7 1934.5,1437.5 1935.5,1438.9 1936.5,1440.3 1937.5,1440.3 1938.5,1440.3 1939.5,1440.3 1940.5,1440.3 1941.5,1440.3 1942.5,1440.3 1943.5,1439.4 1944.5,1435.4 1945.5,1432.1 1946.5,1432.2 1947.5,1443.2 1948.5,1451.4 1949.5,1454.0 1950.5,1456.7 1951.5,1459.5 1952.5,1462.5 1953.5,1465.0 1954.5,1465.0 1955.5,1465.0 1956.5,1465.0 1957.5,1465.0 1958.5,1465.0 1959.5,1465.0 1960.5,1465.0 1961.5,1465.0 1962.5,1465.3 1963.5,1466.0 1964.5,1466.7 1965.5,1467.3 1966.5,1468.0 1967.5,1468.7 1968.5,1469.3 1969.5,1469.5 1970.5,1469.7 1971.5,1469.8 1972.5,1470.0 1973.5,1470.2 1974.5,1470.3 1975.5,1470.3 1976.5,1470.3 1977.5,1470.3 1978.5,1470.3 1979.5,1470.3 1980.5,1470.3 1981.5,1470.3 1982.5,1469.9 1983.5,1469.6 1984.5,1469.3 1985.5,1468.9 1986.5,1468.9 1987.5,1469.0 1988.5,1469.1 1989.5,1469.2 1990.5,1469.2 1991.5,1469.2 1992.5,1469.2 1993.5,1469.2 1994.5,1469.2 1995.5,1469.2 1996.5,1468.6 1997.5,1466.3 1998.5,1464.0 1999.5,1461.7 2000.5,1461.7 2001.5,1462.1 2002.5,1462.5 2003.5,1462.9 2004.5,1463.0 2005.5,1463.2 2006.5,1463.4 2007.5,1463.5 2008.5,1463.7 2009.5,1463.9 2010.5,1464.9 2011.5,1466.1 2012.5,1467.4 2013.5,1468.6 2014.5,1469.6 2015.5,1470.3 2016.5,1471.0 2017.5,1471.6 2018.5,1472.3 2019.5,1473.0 2020.5,1473.6 2021.5,1473.7 2022.5,1473.7 2023.5,1473.7 2024.5,1473.7 2025.5,1473.7 2026.5,1473.7 2027.5,1473.7 2028.5,1473.7 2029.5,1473.7 2030.5,1473.7 2031.5,1473.7 2031.5,1483.0 2030.5,1483.0 2029.5,1483.0 2028.5,1483.0 2027.5,1483.0 2026.5,1483.0 2025.5,1483.0 2024.5,1483.0 2023.5,1483.0 2022.5,1483.0 2021.5,1483.0 2020.5,1483.0 2019.5,1483.0 2018.5,1483.0 2017.5,1483.0 2016.5,1483.0 2015.5,1483.0 2014.5,1483.0 2013.5,1483.0 2012.5,1483.0 2011.5,1483.0 2010.5,1483.0 2009.5,1483.0 2008.5,1483.0 2007.5,1483.0 2006.5,1483.0 2005.5,1483.0 2004.5,1483.0 2003.5,1483.0 2002.5,1483.0 2001.5,1483.0 2000.5,1483.0 1999.5,1483.0 1998.5,1483.0 1997.5,1483.0 1996.5,1483.0 1995.5,1483.0 1994.5,1483.0 1993.5,1483.0 1992.5,1483.0 1991.5,1483.0 1990.5,1483.0 1989.5,1483.0 1988.5,1483.0 1987.5,1483.0 1986.5,1483.0 1985.5,1483.0 1984.5,1483.0 1983.5,1483.0 1982.5,1483.0 1981.5,1483.0 1980.5,1483.0 1979.5,1483.0 1978.5,1483.0 1977.5,1483.0 1976.5,1483.0 1975.5,1483.0 1974.5,1483.0 1973.5,1483.0 1972.5,1483.0 1971.5,1483.0 1970.5,1483.0 1969.5,1483.0 1968.5,1483.0 1967.5,1483.0 1966.5,1483.0 1965.5,1483.0 1964.5,1483.0 1963.5,1483.0 1962.5,1483.0 1961.5,1483.0 1960.5,1483.0 1959.5,1483.0 1958.5,1483.0 1957.5,1483.0 1956.5,1483.0 1955.5,1483.0 1954.5,1483.0 1953.5,1483.0 1952.5,1483.0 1951.5,1483.0 1950.5,1483.0 1949.5,1483.0 1948.5,1483.0 1947.5,1483.0 1946.5,1483.0 1945.5,1483.0 1944.5,1483.0 1943.5,1483.0 1942.5,1483.0 1941.5,1483.0 1940.5,1483.0 1939.5,1483.0 1938.5,1483.0 1937.5,1483.0 1936.5,1483.0 1935.5,1483.0 1934.5,1483.0 1933.5,1483.0 1932.5,1483.0 1931.5,1483.0 1930.5,1483.0 1929.5,1483.0 1928.5,1483.0 1927.5,1483.0 1926.5,1483.0 1925.5,1483.0 1924.5,1483.0 1923.5,1483.0 1922.5,1483.0 1921.5,1483.0 1920.5,1483.0 1919.5,1483.0 1918.5,1483.0 1917.5,1483.0 1916.5,1483.0 1915.5,1483.0 1914.5,1483.0 1913.5,1483.0 1912.5,1483.0 1911.5,1483.0 1910.5,1483.0 1909.5,1483.0 1908.5,1483.0 1907.5,1483.0 1906.5,1483.0 1905.5,1483.0 1904.5,1483.0 1903.5,1483.0 1902.5,1483.0 1901.5,1483.0 1900.5,1483.0 1899.5,1483.0 1898.5,1483.0 1897.5,1483.0 1896.5,1483.0 1895.5,1483.0 1894.5,1483.0 1893.5,1483.0 1892.5,1483.0 1891.5,1483.0 1890.5,1483.0 1889.5,1483.0 1888.5,1483.0 1887.5,1483.0 1886.5,1483.0 1885.5,1483.0 1884.5,1483.0 1883.5,1483.0 1882.5,1483.0 1881.5,1483.0 1880.5,1483.0 1879.5,1483.0 1878.5,1483.0 1877.5,1483.0 1876.5,1483.0 1875.5,1483.0 1874.5,1483.0 1873.5,1483.0 1872.5,1483.0 1871.5,1483.0 1870.5,1483.0 1869.5,1483.0 1868.5,1483.0 1867.5,1483.0 1866.5,1483.0 1865.5,1483.0 1864.5,1483.0 1863.5,1483.0 1862.5,1483.0 1861.5,1483.0 1860.5,1483.0 1859.5,1483.0 1858.5,1483.0 1857.5,1483.0 1856.5,1483.0 1855.5,1483.0 1854.5,1483.0 1853.5,1483.0 1852.5,1483.0 1851.5,1483.0 1850.5,1483.0 1849.5,1483.0 1848.5,1483.0 1847.5,1483.0 1846.5,1483.0 1845.5,1483.0 1844.5,1483.0 1843.5,1483.0 1842.5,1483.0 1841.5,1483.0 1840.5,1483.0 1839.5,1483.0 1838.5,1483.0 1837.5,1483.0 1836.5,1483.0 1835.5,1483.0 1834.5,1483.0 1833.5,1483.0 1832.5,1483.0 1831.5,1483.0 1830.5,1483.0 1829.5,1483.0 1828.5,1483.0 1827.5,1483.0 1826.5,1483.0 1825.5,1483.0 1824.5,1483.0 1823.5,1483.0 1822.5,1483.0 1821.5,1483.0 1820.5,1483.0 1819.5,1483.0 1818.5,1483.0 1817.5,1483.0 1816.5,1483.0 1815.5,1483.0 1814.5,1483.0 1813.5,1483.0 1812.5,1483.0 1811.5,1483.0 1810.5,1483.0 1809.5,1483.0 1808.5,1483.0 1807.5,1483.0 1806.5,1483.0 1805.5,1483.0 1804.5,1483.0 1803.5,1483.0 1802.5,1483.0 1801.5,1483.0 1800.5,1483.0 1799.5,1483.0 1798.5,1483.0 1797.5,1483.0 1796.5,1483.0 1795.5,1483.0 1794.5,1483.0 1793.5,1483.0 1792.5,1483.0 1791.5,1483.0 1790.5,1483.0 1789.5,1483.0 1788.5,1483.0 1787.5,1483.0 1786.5,1483.0 1785.5,1483.0 1784.5,1483.0 1783.5,1483.0 1782.5,1483.0 1781.5,1483.0 1780.5,1483.0 1779.5,1483.0 1778.5,1483.0 1777.5,1483.0 1776.5,1483.0 1775.5,1483.0 1774.5,1483.0 1773.5,1483.0 1772.5,1483.0 1771.5,1483.0 1770.5,1483.0 1769.5,1483.0 1768.5,1483.0 1767.5,1483.0 1766.5,1483.0 1765.5,1483.0 1764.5,1483.0 1763.5,1483.0 1762.5,1483.0 1761.5,1483.0 1760.5,1483.0 1759.5,1483.0 1758.5,1483.0 1757.5,1483.0 1756.5,1483.0 1755.5,1483.0 1754.5,1483.0 1753.5,1483.0 1752.5,1483.0 1751.5,1483.0 1750.5,1483.0 1749.5,1483.0 1748.5,1483.0 1747.5,1483.0 1746.5,1483.0 1745.5,1483.0 1744.5,1483.0 1743.5,1483.0 1742.5,1483.0 1741.5,1483.0 1740.5,1483.0 1739.5,1483.0 1738.5,1483.0 1737.5,1483.0 1736.5,1483.0 1735.5,1483.0 1734.5,1483.0 1733.5,1483.0 1732.5,1483.0 1731.5,1483.0 1730.5,1483.0 1729.5,1483.0 1728.5,1483.0 1727.5,1483.0 1726.5,1483.0 1725.5,1483.0 1724.5,1483.0 1723.5,1483.0 1722.5,1483.0 1721.5,1483.0 1720.5,1483.0 1719.5,1483.0 1718.5,1483.0 1717.5,1483.0 1716.5,1483.0 1715.5,1483.0 1714.5,1483.0 1713.5,1483.0 1712.5,1483.0 1711.5,1483.0 1710.5,1483.0 1709.5,1483.0 1708.5,1483.0 1707.5,1483.0 1706.5,1483.0 1705.5,1483.0 1704.5,1483.0 1703.5,1483.0 1702.5,1483.0 1701.5,1483.0 1700.5,1483.0 1699.5,1483.0 1698.5,1483.0 1697.5,1483.0 1696.5,1483.0 1695.5,1483.0 1694.5,1483.0 1693.5,1483.0 1692.5,1483.0 1691.5,1483.0 1690.5,1483.0 1689.5,1483.0 1688.5,1483.0 1687.5,1483.0 1686.5,1483.0 1685.5,1483.0 1684.5,1483.0 1683.5,1483.0 1682.5,1483.0 1681.5,1483.0 1680.5,1483.0 1679.5,1483.0 1678.5,1483.0 1677.5,1483.0 1676.5,1483.0 1675.5,1483.0 1674.5,1483.0 1673.5,1483.0 1672.5,1483.0 1671.5,1483.0 1670.5,1483.0 1669.5,1483.0 1668.5,1483.0 1667.5,1483.0 1666.5,1483.0 1665.5,1483.0 1664.5,1483.0 1663.5,1483.0 1662.5,1483.0 1661.5,1483.0 1660.5,1483.0 1659.5,1483.0 1658.5,1483.0 1657.5,1483.0 1656.5,1483.0 1655.5,1483.0 1654.5,1483.0 1653.5,1483.0 1652.5,1483.0 1651.5,1483.0 1650.5,1483.0 1649.5,1483.0 1648.5,1483.0 1647.5,1480.9 1646.5,1480.6 1645.5,1480.3 1644.5,1480.0 1643.5,1479.8 1642.5,1479.5 1641.5,1479.2 1640.5,1478.9 1639.5,1478.6 1638.5,1478.3 1637.5,1478.0 1636.5,1477.8 1635.5,1477.5 1634.5,1477.2 1633.5,1476.9 1632.5,1476.0 1631.5,1474.9 1630.5,1473.8 1629.5,1472.6 1628.5,1471.5 1627.5,1470.4 1626.5,1469.3 1625.5,1468.5 1624.5,1467.7 1623.5,1466.9 1622.5,1467.7 1621.5,1468.5 1620.5,1469.4 1619.5,1470.3 1618.5,1471.2 1617.5,1471.8 1616.5,1472.1 1615.5,1472.5 1614.5,1472.8 1613.5,1473.1 1612.5,1473.5 1611.5,1473.8 1610.5,1473.1 1609.5,1472.4 1608.5,1471.8 1607.5,1471.1 1606.5,1470.4 1605.5,1469.8 1604.5,1483.0 1603.5,1483.0 1602.5,1483.0 1601.5,1483.0 1600.5,1483.0 1599.5,1483.0 1598.5,1483.0 1597.5,1483.0 1596.5,1483.0 1595.5,1483.0 1594.5,1483.0 1593.5,1483.0 1592.5,1483.0 1591.5,1483.0 1590.5,1483.0 1589.5,1483.0 1588.5,1483.0 1587.5,1483.0 1586.5,1483.0 1585.5,1483.0 1584.5,1483.0 1583.5,1483.0 1582.5,1483.0 1581.5,1483.0 1580.5,1483.0 1579.5,1483.0 1578.5,1483.0 1577.5,1483.0 1576.5,1483.0 1575.5,1483.0 1574.5,1483.0 1573.5,1483.0 1572.5,1483.0 1571.5,1483.0 1570.5,1483.0 1569.5,1483.0 1568.5,1483.0 1567.5,1483.0 1566.5,1483.0 1565.5,1483.0 1564.5,1483.0 1563.5,1483.0 1562.5,1483.0 1561.5,1483.0 1560.5,1483.0 1559.5,1483.0 1558.5,1483.0 1557.5,1483.0 1556.5,1483.0 1555.5,1483.0 1554.5,1483.0 1553.5,1483.0 1552.5,1483.0 1551.5,1483.0 1550.5,1483.0 1549.5,1483.0 1548.5,1483.0 1547.5,1483.0 1546.5,1483.0 1545.5,1483.0 1544.5,1483.0 1543.5,1483.0 1542.5,1483.0 1541.5,1483.0 1540.5,1483.0 1539.5,1483.0 1538.5,1483.0 1537.5,1483.0 1536.5,1483.0 1535.5,1483.0 1534.5,1483.0 1533.5,1483.0 1532.5,1483.0 1531.5,1483.0 1530.5,1483.0 1529.5,1483.0 1528.5,1483.0 1527.5,1483.0 1526.5,1483.0 1525.5,1483.0 1524.5,1483.0 1523.5,1483.0 1522.5,1483.0 1521.5,1483.0 1520.5,1483.0 1519.5,1483.0 1518.5,1483.0 1517.5,1483.0 1516.5,1483.0 1515.5,1483.0 1514.5,1483.0 1513.5,1483.0 1512.5,1483.0 1511.5,1483.0 1510.5,1483.0 1509.5,1483.0 1508.5,1483.0 1507.5,1483.0 1506.5,1483.0 1505.5,1483.0 1504.5,1483.0 1503.5,1483.0 1502.5,1483.0 1501.5,1483.0 1500.5,1483.0 1499.5,1483.0 1498.5,1483.0 1497.5,1483.0 1496.5,1483.0 1495.5,1483.0 1494.5,1483.0 1493.5,1483.0 1492.5,1483.0 1491.5,1483.0 1490.5,1483.0 1489.5,1483.0 1488.5,1483.0 1487.5,1483.0 1486.5,1483.0 1485.5,1483.0 1484.5,1483.0 1483.5,1483.0 1482.5,1483.0 1481.5,1483.0 1480.5,1483.0 1479.5,1483.0 1478.5,1483.0 1477.5,1483.0 1476.5,1483.0 1475.5,1483.0 1474.5,1483.0 1473.5,1483.0 1472.5,1483.0 1471.5,1483.0 1470.5,1483.0 1469.5,1483.0 1468.5,1483.0 1467.5,1483.0 1466.5,1483.0 1465.5,1483.0 1464.5,1483.0 1463.5,1483.0 1462.5,1483.0 1461.5,1483.0 1460.5,1483.0 1459.5,1483.0 1458.5,1483.0 1457.5,1483.0 1456.5,1483.0 1455.5,1483.0 1454.5,1483.0 1453.5,1483.0 1452.5,1483.0 1451.5,1483.0 1450.5,1483.0 1449.5,1483.0 1448.5,1483.0 1447.5,1483.0 1446.5,1483.0 1445.5,1483.0 1444.5,1483.0 1443.5,1483.0 1442.5,1483.0 1441.5,1483.0 1440.5,1483.0 1439.5,1483.0 1438.5,1483.0 1437.5,1483.0 1436.5,1483.0 1435.5,1483.0 1434.5,1483.0 1433.5,1483.0 1432.5,1483.0 1431.5,1483.0 1430.5,1483.0 1429.5,1483.0 1428.5,1483.0 1427.5,1483.0 1426.5,1483.0 1425.5,1483.0 1424.5,1483.0 1423.5,1483.0 1422.5,1483.0 1421.5,1483.0 1420.5,1483.0 1419.5,1483.0 1418.5,1483.0 1417.5,1483.0 1416.5,1483.0 1415.5,1483.0 1414.5,1483.0 1413.5,1483.0 1412.5,1483.0 1411.5,1483.0 1410.5,1483.0 1409.5,1483.0 1408.5,1483.0 1407.5,1483.0 1406.5,1483.0 1405.5,1483.0 1404.5,1483.0 1403.5,1483.0 1402.5,1483.0 1401.5,1483.0 1400.5,1483.0 1399.5,1483.0 1398.5,1483.0 1397.5,1483.0 1396.5,1483.0 1395.5,1483.0 1394.5,1483.0 1393.5,1483.0 1392.5,1483.0 1391.5,1483.0 1390.5,1483.0 1389.5,1483.0 1388.5,1483.0 1387.5,1483.0 1386.5,1483.0 1385.5,1483.0 1384.5,1483.0 1383.5,1483.0 1382.5,1483.0 1381.5,1483.0 1380.5,1483.0 1379.5,1483.0 1378.5,1483.0 1377.5,1483.0 1376.5,1483.0 1375.5,1483.0 1374.5,1483.0 1373.5,1483.0 1372.5,1483.0 1371.5,1483.0 1370.5,1483.0 1369.5,1483.0 1368.5,1483.0 1367.5,1483.0 1366.5,1483.0 1365.5,1483.0 1364.5,1483.0 1363.5,1483.0 1362.5,1483.0 1361.5,1483.0 1360.5,1483.0 1359.5,1483.0 1358.5,1483.0 1357.5,1483.0 1356.5,1483.0 1355.5,1483.0 1354.5,1483.0 1353.5,1483.0 1352.5,1483.0 1351.5,1483.0 1350.5,1483.0 1349.5,1483.0 1348.5,1483.0 1347.5,1483.0 1346.5,1483.0 1345.5,1483.0 1344.5,1483.0 1343.5,1483.0 1342.5,1483.0 1341.5,1483.0 1340.5,1483.0 1339.5,1483.0 1338.5,1483.0 1337.5,1483.0 1336.5,1483.0 1335.5,1483.0 1334.5,1483.0 1333.5,1483.0 1332.5,1483.0 1331.5,1483.0 1330.5,1483.0 1329.5,1483.0 1328.5,1483.0 1327.5,1483.0 1326.5,1483.0 1325.5,1483.0 1324.5,1483.0 1323.5,1483.0 1322.5,1483.0 1321.5,1483.0 1320.5,1483.0 1319.5,1483.0 1318.5,1483.0 1317.5,1483.0 1316.5,1483.0 1315.5,1483.0 1314.5,1483.0 1313.5,1483.0 1312.5,1483.0 1311.5,1483.0 1310.5,1483.0 1309.5,1483.0 1308.5,1483.0 1307.5,1483.0 1306.5,1483.0 1305.5,1483.0 1304.5,1483.0 1303.5,1483.0 1302.5,1483.0 1301.5,1483.0 1300.5,1483.0 1299.5,1483.0 1298.5,1483.0 1297.5,1483.0 1296.5,1483.0 1295.5,1483.0 1294.5,1483.0 1293.5,1483.0 1292.5,1483.0 1291.5,1483.0 1290.5,1483.0 1289.5,1483.0 1288.5,1483.0 1287.5,1483.0 1286.5,1483.0 1285.5,1483.0 1284.5,1483.0 1283.5,1483.0 1282.5,1483.0 1281.5,1483.0 1280.5,1483.0 1279.5,1483.0 1278.5,1483.0 1277.5,1483.0 1276.5,1483.0 1275.5,1483.0 1274.5,1483.0 1273.5,1483.0 1272.5,1483.0 1271.5,1483.0 1270.5,1483.0 1269.5,1483.0 1268.5,1483.0 1267.5,1483.0 1266.5,1483.0 1265.5,1483.0 1264.5,1483.0 1263.5,1483.0 1262.5,1483.0 1261.5,1483.0 1260.5,1483.0 1259.5,1483.0 1258.5,1483.0 1257.5,1483.0 1256.5,1483.0 1255.5,1483.0 1254.5,1483.0 1253.5,1483.0 1252.5,1483.0 1251.5,1483.0 1250.5,1483.0 1249.5,1483.0 1248.5,1483.0 1247.5,1483.0 1246.5,1483.0 1245.5,1483.0 1244.5,1483.0 1243.5,1483.0 1242.5,1483.0 1241.5,1483.0 1240.5,1483.0 1239.5,1483.0 1238.5,1483.0 1237.5,1483.0 1236.5,1483.0 1235.5,1483.0 1234.5,1483.0 1233.5,1483.0 1232.5,1483.0 1231.5,1483.0 1230.5,1483.0 1229.5,1483.0 1228.5,1483.0 1227.5,1483.0 1226.5,1483.0 1225.5,1483.0 1224.5,1483.0 1223.5,1483.0 1222.5,1483.0 1221.5,1483.0 1220.5,1483.0 1219.5,1483.0 1218.5,1483.0 1217.5,1483.0 1216.5,1483.0 1215.5,1483.0 1214.5,1483.0 1213.5,1483.0 1212.5,1483.0 1211.5,1483.0 1210.5,1483.0 1209.5,1483.0 1208.5,1483.0 1207.5,1483.0 1206.5,1483.0 1205.5,1483.0 1204.5,1483.0 1203.5,1483.0 1202.5,1483.0 1201.5,1483.0 1200.5,1483.0 1199.5,1483.0 1198.5,1483.0 1197.5,1483.0 1196.5,1483.0 1195.5,1483.0 1194.5,1483.0 1193.5,1483.0 1192.5,1483.0 1191.5,1483.0 1190.5,1483.0 1189.5,1483.0 1188.5,1483.0 1187.5,1483.0 1186.5,1483.0 1185.5,1483.0 1184.5,1483.0 1183.5,1483.0 1182.5,1483.0 1181.5,1483.0 1180.5,1483.0 1179.5,1483.0 1178.5,1483.0 1177.5,1483.0 1176.5,1483.0 1175.5,1483.0 1174.5,1483.0 1173.5,1483.0 1172.5,1483.0 1171.5,1483.0 1170.5,1483.0 1169.5,1483.0 1168.5,1483.0 1167.5,1483.0 1166.5,1483.0 1165.5,1483.0 1164.5,1483.0 1163.5,1483.0 1162.5,1483.0 1161.5,1483.0 1160.5,1483.0 1159.5,1483.0 1158.5,1483.0 1157.5,1483.0 1156.5,1483.0 1155.5,1483.0 1154.5,1483.0 1153.5,1483.0 1152.5,1483.0 1151.5,1483.0 1150.5,1483.0 1149.5,1483.0 1148.5,1483.0 1147.5,1483.0 1146.5,1483.0 1145.5,1483.0 1144.5,1483.0 1143.5,1483.0 1142.5,1483.0 1141.5,1483.0 1140.5,1483.0 1139.5,1483.0 1138.5,1483.0 1137.5,1483.0 1136.5,1483.0 1135.5,1483.0 1134.5,1483.0 1133.5,1483.0 1132.5,1483.0 1131.5,1483.0 1130.5,1483.0 1129.5,1483.0 1128.5,1483.0 1127.5,1483.0 1126.5,1483.0 1125.5,1483.0 1124.5,1483.0 1123.5,1483.0 1122.5,1483.0 1121.5,1483.0 1120.5,1483.0 1119.5,1483.0 1118.5,1483.0 1117.5,1483.0 1116.5,1483.0 1115.5,1483.0 1114.5,1483.0 1113.5,1483.0 1112.5,1483.0 1111.5,1483.0 1110.5,1483.0 1109.5,1483.0 1108.5,1483.0 1107.5,1483.0 1106.5,1483.0 1105.5,1483.0 1104.5,1483.0 1103.5,1483.0 1102.5,1483.0 1101.5,1483.0 1100.5,1483.0 1099.5,1483.0 1098.5,1483.0 1097.5,1483.0 1096.5,1483.0 1095.5,1483.0 1094.5,1483.0 1093.5,1483.0 1092.5,1483.0 1091.5,1483.0 1090.5,1483.0 1089.5,1483.0 1088.5,1483.0 1087.5,1483.0 1086.5,1483.0 1085.5,1483.0 1084.5,1483.0 1083.5,1483.0 1082.5,1483.0 1081.5,1483.0 1080.5,1483.0 1079.5,1483.0 1078.5,1483.0 1077.5,1483.0 1076.5,1483.0 1075.5,1483.0 1074.5,1483.0 1073.5,1483.0 1072.5,1483.0 1071.5,1483.0 1070.5,1483.0 1069.5,1483.0 1068.5,1483.0 1067.5,1483.0 1066.5,1483.0 1065.5,1483.0 1064.5,1483.0 1063.5,1483.0 1062.5,1483.0 1061.5,1483.0 1060.5,1483.0 1059.5,1483.0 1058.5,1483.0 1057.5,1483.0 1056.5,1483.0 1055.5,1483.0 1054.5,1483.0 1053.5,1483.0 1052.5,1483.0 1051.5,1483.0 1050.5,1483.0 1049.5,1483.0 1048.5,1483.0 1047.5,1483.0 1046.5,1483.0 1045.5,1483.0 1044.5,1483.0 1043.5,1483.0 1042.5,1483.0 1041.5,1483.0 1040.5,1483.0 1039.5,1483.0 1038.5,1483.0 1037.5,1483.0 1036.5,1483.0 1035.5,1483.0 1034.5,1483.0 1033.5,1483.0 1032.5,1483.0 1031.5,1483.0 1030.5,1483.0 1029.5,1483.0 1028.5,1483.0 1027.5,1483.0 1026.5,1483.0 1025.5,1483.0 1024.5,1483.0 1023.5,1483.0 1022.5,1483.0 1021.5,1483.0 1020.5,1483.0 1019.5,1483.0 1018.5,1483.0 1017.5,1483.0 1016.5,1483.0 1015.5,1483.0 1014.5,1483.0 1013.5,1483.0 1012.5,1483.0 1011.5,1483.0 1010.5,1483.0 1009.5,1483.0 1008.5,1483.0 1007.5,1483.0 1006.5,1483.0 1005.5,1483.0 1004.5,1483.0 1003.5,1483.0 1002.5,1483.0 1001.5,1483.0 1000.5,1483.0 999.5,1483.0 998.5,1483.0 997.5,1483.0 996.5,1483.0 995.5,1483.0 994.5,1483.0 993.5,1483.0 992.5,1483.0 991.5,1483.0 990.5,1483.0 989.5,1483.0 988.5,1483.0 987.5,1483.0 986.5,1483.0 985.5,1483.0 984.5,1483.0 983.5,1483.0 982.5,1483.0 981.5,1483.0 980.5,1483.0 979.5,1483.0 978.5,1483.0 977.5,1483.0 976.5,1483.0 975.5,1483.0 974.5,1483.0 973.5,1483.0 972.5,1483.0 971.5,1483.0 970.5,1483.0 969.5,1483.0 968.5,1483.0 967.5,1483.0 966.5,1483.0 965.5,1483.0 964.5,1483.0 963.5,1483.0 962.5,1483.0 961.5,1483.0 960.5,1483.0 959.5,1483.0 958.5,1483.0 957.5,1483.0 956.5,1483.0 955.5,1483.0 954.5,1483.0 953.5,1483.0 952.5,1483.0 951.5,1483.0 950.5,1483.0 949.5,1483.0 948.5,1483.0 947.5,1483.0 946.5,1483.0 945.5,1483.0 944.5,1483.0 943.5,1483.0 942.5,1483.0 941.5,1483.0 940.5,1483.0 939.5,1483.0 938.5,1483.0 937.5,1483.0 936.5,1483.0 935.5,1483.0 934.5,1483.0 933.5,1483.0 932.5,1483.0 931.5,1483.0 930.5,1483.0 929.5,1483.0 928.5,1483.0 927.5,1483.0 926.5,1483.0 925.5,1483.0 924.5,1483.0 923.5,1483.0 922.5,1483.0 921.5,1483.0 920.5,1483.0 919.5,1483.0 918.5,1483.0 917.5,1483.0 916.5,1483.0 915.5,1483.0 914.5,1483.0 913.5,1483.0 912.5,1483.0 911.5,1483.0 910.5,1483.0 909.5,1483.0 908.5,1483.0 907.5,1483.0 906.5,1483.0 905.5,1483.0 904.5,1483.0 903.5,1483.0 902.5,1483.0 901.5,1483.0 900.5,1483.0 899.5,1483.0 898.5,1483.0 897.5,1483.0 896.5,1483.0 895.5,1479.3 894.5,1477.3 893.5,1476.5 892.5,1476.1 891.5,1475.7 890.5,1476.4 889.5,1478.2 888.5,1479.9 887.5,1483.0 886.5,1483.0 885.5,1483.0 884.5,1483.0 883.5,1483.0 882.5,1483.0 881.5,1483.0 880.5,1483.0 879.5,1483.0 878.5,1483.0 877.5,1483.0 876.5,1483.0 875.5,1483.0 874.5,1483.0 873.5,1481.1 872.5,1480.5 871.5,1480.0 870.5,1479.4 869.5,1478.9 868.5,1478.3 867.5,1477.7 866.5,1477.1 865.5,1477.4 864.5,1478.4 863.5,1479.4 862.5,1480.4 861.5,1483.0 860.5,1483.0 859.5,1483.0 858.5,1483.0 857.5,1483.0 856.5,1483.0 855.5,1483.0 854.5,1483.0 853.5,1483.0 852.5,1483.0 851.5,1483.0 850.5,1483.0 849.5,1483.0 848.5,1483.0 847.5,1483.0 846.5,1483.0 845.5,1483.0 844.5,1483.0 843.5,1483.0 842.5,1483.0 841.5,1483.0 840.5,1483.0 839.5,1483.0 838.5,1483.0 837.5,1483.0 836.5,1483.0 835.5,1483.0 834.5,1483.0 833.5,1483.0 832.5,1483.0 831.5,1483.0 830.5,1483.0 829.5,1483.0 828.5,1483.0 827.5,1483.0 826.5,1483.0 825.5,1483.0 824.5,1483.0 823.5,1483.0 822.5,1483.0 821.5,1483.0 820.5,1483.0 819.5,1483.0 818.5,1483.0 817.5,1483.0 816.5,1483.0 815.5,1483.0 814.5,1483.0 813.5,1483.0 812.5,1483.0 811.5,1483.0 810.5,1483.0 809.5,1483.0 808.5,1483.0 807.5,1483.0 806.5,1483.0 805.5,1483.0 804.5,1483.0 803.5,1483.0 802.5,1483.0 801.5,1483.0 800.5,1483.0 799.5,1483.0 798.5,1483.0 797.5,1483.0 796.5,1483.0 795.5,1483.0 794.5,1483.0 793.5,1483.0 792.5,1483.0 791.5,1483.0 790.5,1483.0 789.5,1483.0 788.5,1483.0 787.5,1483.0 786.5,1483.0 785.5,1483.0 784.5,1483.0 783.5,1483.0 782.5,1483.0 781.5,1483.0 780.5,1483.0 779.5,1483.0 778.5,1483.0 777.5,1483.0 776.5,1483.0 775.5,1483.0 774.5,1483.0 773.5,1483.0 772.5,1483.0 771.5,1483.0 770.5,1483.0 769.5,1483.0 768.5,1483.0 767.5,1483.0 766.5,1483.0 765.5,1483.0 764.5,1483.0 763.5,1483.0 762.5,1483.0 761.5,1483.0 760.5,1483.0 759.5,1483.0 758.5,1483.0 757.5,1483.0 756.5,1483.0 755.5,1483.0 754.5,1483.0 753.5,1483.0 752.5,1483.0 751.5,1483.0 750.5,1483.0 749.5,1483.0 748.5,1483.0 747.5,1483.0 746.5,1483.0 745.5,1483.0 744.5,1483.0 743.5,1483.0 742.5,1483.0 741.5,1483.0 740.5,1483.0 739.5,1483.0 738.5,1483.0 737.5,1483.0 736.5,1483.0 735.5,1483.0 734.5,1483.0 733.5,1483.0 732.5,1483.0 731.5,1483.0 730.5,1483.0 729.5,1483.0 728.5,1483.0 727.5,1483.0 726.5,1483.0 725.5,1483.0 724.5,1483.0 723.5,1483.0 722.5,1483.0 721.5,1483.0 720.5,1483.0 719.5,1483.0 718.5,1483.0 717.5,1483.0 716.5,1483.0 715.5,1483.0 714.5,1483.0 713.5,1483.0 712.5,1483.0 711.5,1483.0 710.5,1483.0 709.5,1483.0 708.5,1483.0 707.5,1483.0 706.5,1483.0 705.5,1483.0 704.5,1483.0 703.5,1483.0 702.5,1483.0 701.5,1483.0 700.5,1483.0 699.5,1483.0 698.5,1483.0 697.5,1483.0 696.5,1483.0 695.5,1483.0 694.5,1483.0 693.5,1483.0 692.5,1483.0 691.5,1483.0 690.5,1483.0 689.5,1483.0 688.5,1483.0 687.5,1483.0 686.5,1483.0 685.5,1483.0 684.5,1483.0 683.5,1483.0 682.5,1483.0 681.5,1483.0 680.5,1483.0 679.5,1483.0 678.5,1483.0 677.5,1483.0 676.5,1483.0 675.5,1483.0 674.5,1483.0 673.5,1483.0 672.5,1483.0 671.5,1483.0 670.5,1483.0 669.5,1483.0 668.5,1483.0 667.5,1483.0 666.5,1483.0 665.5,1483.0 664.5,1483.0 663.5,1483.0 662.5,1483.0 661.5,1483.0 660.5,1483.0 659.5,1483.0 658.5,1483.0 657.5,1483.0 656.5,1483.0 655.5,1483.0 654.5,1483.0 653.5,1483.0 652.5,1483.0 651.5,1483.0 650.5,1483.0 649.5,1483.0 648.5,1483.0 647.5,1483.0 646.5,1483.0 645.5,1483.0 644.5,1483.0 643.5,1483.0 642.5,1483.0 641.5,1483.0 640.5,1483.0 639.5,1483.0 638.5,1483.0 637.5,1483.0 636.5,1483.0 635.5,1483.0 634.5,1483.0 633.5,1483.0 632.5,1483.0 631.5,1483.0 630.5,1483.0 629.5,1483.0 628.5,1483.0 627.5,1483.0 626.5,1483.0 625.5,1483.0 624.5,1483.0 623.5,1483.0 622.5,1483.0 621.5,1483.0 620.5,1483.0 619.5,1483.0 618.5,1483.0 617.5,1483.0 616.5,1483.0 615.5,1483.0 614.5,1483.0 613.5,1483.0 612.5,1483.0 611.5,1483.0 610.5,1483.0 609.5,1483.0 608.5,1483.0 607.5,1483.0 606.5,1483.0 605.5,1483.0 604.5,1483.0 603.5,1483.0 602.5,1483.0 601.5,1483.0 600.5,1483.0 599.5,1483.0 598.5,1483.0 597.5,1483.0 596.5,1483.0 595.5,1483.0 594.5,1483.0 593.5,1483.0 592.5,1483.0 591.5,1483.0 590.5,1483.0 589.5,1483.0 588.5,1483.0 587.5,1483.0 586.5,1483.0 585.5,1483.0 584.5,1483.0 583.5,1483.0 582.5,1483.0 581.5,1483.0 580.5,1483.0 579.5,1483.0 578.5,1483.0 577.5,1483.0 576.5,1483.0 575.5,1483.0 574.5,1483.0 573.5,1483.0 572.5,1483.0 571.5,1483.0 570.5,1483.0 569.5,1483.0 568.5,1483.0 567.5,1483.0 566.5,1483.0 565.5,1483.0 564.5,1483.0 563.5,1483.0 562.5,1483.0 561.5,1483.0 560.5,1483.0 559.5,1483.0 558.5,1483.0 557.5,1483.0 556.5,1483.0 555.5,1483.0 554.5,1483.0 553.5,1483.0 552.5,1483.0 551.5,1483.0 550.5,1483.0 549.5,1483.0 548.5,1483.0 547.5,1483.0 546.5,1483.0 545.5,1483.0 544.5,1483.0 543.5,1483.0 542.5,1483.0 541.5,1483.0 540.5,1483.0 539.5,1483.0 538.5,1483.0 537.5,1483.0 536.5,1483.0 535.5,1483.0 534.5,1483.0 533.5,1483.0 532.5,1483.0 531.5,1483.0 530.5,1483.0 529.5,1483.0 528.5,1483.0 527.5,1483.0 526.5,1483.0 525.5,1483.0 524.5,1479.2 523.5,1477.0 522.5,1474.8 521.5,1472.6 520.5,1469.6 519.5,1465.9 518.5,1465.2 517.5,1469.7 516.5,1473.5 515.5,1474.1 514.5,1474.8 513.5,1475.4 512.5,1476.0 511.5,1476.7 510.5,1477.3 509.5,1478.0 508.5,1478.7 507.5,1479.3 506.5,1480.0 505.5,1480.7 504.5,1483.0 503.5,1483.0 502.5,1483.0 501.5,1483.0 500.5,1483.0 499.5,1483.0 498.5,1483.0 497.5,1483.0 496.5,1483.0 495.5,1483.0 494.5,1483.0 493.5,1483.0 492.5,1483.0 491.5,1483.0 490.5,1483.0 489.5,1483.0 488.5,1483.0 487.5,1483.0 486.5,1483.0 485.5,1483.0 484.5,1483.0 483.5,1483.0 482.5,1483.0 481.5,1483.0 480.5,1483.0 479.5,1483.0 478.5,1483.0 477.5,1483.0 476.5,1483.0 475.5,1483.0 474.5,1483.0 473.5,1483.0 472.5,1483.0 471.5,1483.0 470.5,1483.0 469.5,1483.0 468.5,1483.0 467.5,1483.0 466.5,1483.0 465.5,1483.0 464.5,1483.0 463.5,1483.0 462.5,1483.0 461.5,1483.0 460.5,1483.0 459.5,1483.0 458.5,1483.0 457.5,1483.0 456.5,1483.0 455.5,1483.0 454.5,1483.0 453.5,1483.0 452.5,1483.0 451.5,1483.0 450.5,1483.0 449.5,1483.0 448.5,1483.0 447.5,1483.0 446.5,1483.0 445.5,1483.0 444.5,1483.0 443.5,1483.0 442.5,1483.0 441.5,1483.0 440.5,1483.0 439.5,1483.0 438.5,1483.0 437.5,1483.0 436.5,1483.0 435.5,1483.0 434.5,1483.0 433.5,1483.0 432.5,1483.0 431.5,1483.0 430.5,1483.0 429.5,1483.0 428.5,1483.0 427.5,1483.0 426.5,1483.0 425.5,1483.0 424.5,1483.0 423.5,1483.0 422.5,1483.0 421.5,1483.0 420.5,1483.0 419.5,1483.0 418.5,1483.0 417.5,1483.0 416.5,1483.0 415.5,1483.0 414.5,1483.0 413.5,1483.0 412.5,1483.0 411.5,1483.0 410.5,1483.0 409.5,1483.0 408.5,1483.0 407.5,1483.0 406.5,1483.0 405.5,1483.0 404.5,1483.0 403.5,1483.0 402.5,1483.0 401.5,1483.0 400.5,1483.0 399.5,1483.0 398.5,1483.0 397.5,1483.0 396.5,1483.0 395.5,1483.0 394.5,1483.0 393.5,1483.0 392.5,1483.0 391.5,1483.0 390.5,1483.0 389.5,1483.0 388.5,1483.0 387.5,1483.0 386.5,1483.0 385.5,1483.0 384.5,1483.0 383.5,1483.0 382.5,1483.0 381.5,1483.0 380.5,1483.0 379.5,1483.0 378.5,1483.0 377.5,1483.0 376.5,1483.0 375.5,1483.0 374.5,1483.0 373.5,1483.0 372.5,1483.0 371.5,1483.0 370.5,1483.0 369.5,1483.0 368.5,1483.0 367.5,1483.0 366.5,1483.0 365.5,1483.0 364.5,1483.0 363.5,1483.0 362.5,1483.0 361.5,1483.0 360.5,1483.0 359.5,1483.0 358.5,1483.0 357.5,1483.0 356.5,1483.0 355.5,1483.0 354.5,1483.0 353.5,1483.0 352.5,1483.0 351.5,1483.0 350.5,1483.0 349.5,1483.0 348.5,1483.0 347.5,1483.0 346.5,1483.0 345.5,1483.0 344.5,1483.0 343.5,1483.0 342.5,1483.0 341.5,1483.0 340.5,1483.0 339.5,1483.0 338.5,1483.0 337.5,1483.0 336.5,1483.0 335.5,1483.0 334.5,1483.0 333.5,1483.0 332.5,1483.0 331.5,1483.0 330.5,1483.0 329.5,1483.0 328.5,1483.0 327.5,1483.0 326.5,1483.0 325.5,1483.0 324.5,1483.0 323.5,1483.0 322.5,1483.0 321.5,1483.0 320.5,1483.0 319.5,1483.0 318.5,1483.0 317.5,1483.0 316.5,1483.0 315.5,1483.0 314.5,1483.0 313.5,1483.0 312.5,1483.0 311.5,1483.0 310.5,1483.0 309.5,1483.0 308.5,1483.0 307.5,1483.0 306.5,1483.0 305.5,1483.0 304.5,1483.0 303.5,1483.0 302.5,1483.0 301.5,1483.0 300.5,1483.0 299.5,1483.0 298.5,1483.0 297.5,1483.0 296.5,1483.0 295.5,1483.0 294.5,1483.0 293.5,1483.0 292.5,1483.0 291.5,1483.0 290.5,1483.0 289.5,1483.0 288.5,1483.0 287.5,1483.0 286.5,1483.0 285.5,1483.0 284.5,1483.0 283.5,1483.0 282.5,1483.0 281.5,1483.0 280.5,1483.0 279.5,1483.0 278.5,1483.0 277.5,1483.0 276.5,1483.0 275.5,1483.0 274.5,1483.0 273.5,1483.0 272.5,1483.0 271.5,1483.0 270.5,1483.0 269.5,1483.0 268.5,1483.0 267.5,1483.0 266.5,1483.0 265.5,1483.0 264.5,1483.0 263.5,1483.0 262.5,1483.0 261.5,1483.0 260.5,1483.0 259.5,1483.0 258.5,1483.0 257.5,1483.0 256.5,1483.0 255.5,1483.0 254.5,1483.0 253.5,1483.0 252.5,1483.0 251.5,1483.0 250.5,1483.0 249.5,1483.0 248.5,1483.0 247.5,1483.0 246.5,1483.0 245.5,1483.0 244.5,1483.0 243.5,1483.0 242.5,1483.0 241.5,1483.0 240.5,1483.0 239.5,1483.0 238.5,1483.0 237.5,1483.0 236.5,1483.0 235.5,1483.0 234.5,1483.0 233.5,1483.0 232.5,1483.0 231.5,1483.0" fill="#f00" stroke="#f00" stroke-width="9" stroke-linejoin="round"/><path d="M231.5 1456.4h0M239.5 1454.9h0M247.5 1460.5h0M251.5 1458.0h0M256.5 1459.5h0M261.5 1460.0h0M264.5 1465.5h0M269.5 1463.6h0M275.5 1462.9h0M283.5 1453.8h0M285.5 1460.8h0M288.5 1462.0h0M290.5 1465.7h0M298.5 1470.4h0M304.5 1468.0h0M309.5 1469.0h0M313.5 1469.0h0M319.5 1467.3h0M325.5 1464.8h0M330.5 1443.4h0M338.5 1457.4h0M340.5 1455.9h0M342.5 1455.7h0M345.5 1456.6h0M347.5 1458.2h0M351.5 1454.4h0M355.5 1467.3h0M363.5 1464.8h0M368.5 1460.9h0M374.5 1451.6h0M378.5 1448.7h0M384.5 1444.1h0M388.5 1446.6h0M391.5 1451.5h0M396.5 1458.5h0M398.5 1457.5h0M401.5 1455.5h0M409.5 1465.7h0M414.5 1464.2h0M416.5 1459.7h0M421.5 1470.4h0M423.5 1468.9h0M425.5 1471.4h0M428.5 1468.9h0M430.5 1467.6h0M438.5 1465.6h0M440.5 1461.9h0M443.5 1460.1h0M447.5 1464.5h0M453.5 1464.5h0M457.5 1462.7h0M462.5 1462.8h0M465.5 1462.3h0M471.5 1453.1h0M474.5 1450.2h0M477.5 1453.0h0M479.5 1456.7h0M487.5 1464.7h0M490.5 1464.7h0M496.5 1465.8h0M498.5 1465.8h0M502.5 1469.3h0M506.5 1427.1h0M512.5 1431.5h0M515.5 1431.0h0M520.5 1426.8h0M526.5 1466.7h0M529.5 1464.2h0M535.5 1462.7h0M537.5 1458.6h0M541.5 1462.9h0M543.5 1466.3h0M551.5 1471.3h0M556.5 1465.8h0M558.5 1464.9h0M561.5 1467.1h0M569.5 1468.4h0M575.5 1468.4h0M577.5 1466.6h0M580.5 1463.6h0M584.5 1463.0h0M586.5 1466.0h0M591.5 1462.7h0M599.5 1465.9h0M603.5 1463.8h0M605.5 1462.2h0M608.5 1460.3h0M614.5 1462.9h0M616.5 1464.8h0M619.5 1464.1h0M624.5 1464.6h0M627.5 1463.8h0M631.5 1463.8h0M636.5 1457.0h0M644.5 1458.1h0M647.5 1459.6h0M650.5 1456.6h0M653.5 1460.6h0M658.5 1457.1h0M664.5 1459.4h0M667.5 1466.4h0M673.5 1468.1h0M676.5 1469.3h0M680.5 1467.8h0M685.5 1459.5h0M689.5 1462.5h0M691.5 1463.5h0M693.5 1465.0h0M696.5 1463.5h0M702.5 1463.8h0M706.5 1463.9h0M710.5 1469.3h0M715.5 1466.8h0M718.5 1466.9h0M721.5 1468.2h0M723.5 1465.7h0M726.5 1466.7h0M731.5 1465.6h0M739.5 1468.7h0M744.5 1470.0h0M747.5 1470.0h0M750.5 1471.0h0M752.5 1467.3h0M755.5 1465.9h0M759.5 1461.5h0M761.5 1460.7h0M764.5 1460.4h0M767.5 1461.9h0M772.5 1460.4h0M774.5 1458.5h0M777.5 1455.2h0M780.5 1459.5h0M786.5 1461.7h0M791.5 1462.2h0M794.5 1462.9h0M796.5 1461.4h0M800.5 1460.1h0M806.5 1457.1h0M808.5 1456.2h0M813.5 1454.5h0M815.5 1446.7h0M817.5 1444.4h0M820.5 1453.7h0M823.5 1453.8h0M825.5 1456.1h0M830.5 1458.7h0M836.5 1457.7h0M842.5 1457.5h0M848.5 1459.2h0M856.5 1459.2h0M859.5 1458.0h0M865.5 1451.8h0M867.5 1453.3h0M875.5 1457.0h0M883.5 1450.0h0M891.5 1442.1h0M896.5 1445.9h0M901.5 1452.4h0M905.5 1450.6h0M910.5 1439.0h0M915.5 1456.4h0M917.5 1464.4h0M923.5 1469.7h0M926.5 1471.0h0M932.5 1470.1h0M936.5 1470.8h0M942.5 1465.3h0M946.5 1463.0h0M950.5 1466.0h0M955.5 1462.5h0M960.5 1464.9h0M965.5 1458.9h0M968.5 1458.1h0M970.5 1456.1h0M972.5 1454.9h0M978.5 1456.9h0M982.5 1458.5h0M987.5 1448.2h0M991.5 1440.8h0M993.5 1442.8h0M996.5 1454.3h0M1002.5 1461.0h0M1005.5 1464.0h0M1008.5 1466.0h0M1011.5 1465.0h0M1015.5 1462.8h0M1018.5 1461.5h0M1022.5 1466.5h0M1025.5 1464.8h0M1031.5 1466.8h0M1039.5 1468.8h0M1047.5 1463.5h0M1050.5 1463.0h0M1053.5 1459.5h0M1056.5 1460.8h0M1059.5 1463.8h0M1063.5 1466.7h0M1071.5 1470.4h0M1073.5 1469.4h0M1075.5 1467.4h0M1083.5 1466.8h0M1085.5 1467.6h0M1089.5 1467.2h0M1092.5 1470.4h0M1096.5 1467.9h0M1102.5 1439.4h0M1106.5 1462.1h0M1109.5 1463.6h0M1117.5 1463.0h0M1122.5 1456.3h0M1125.5 1447.1h0M1133.5 1442.2h0M1136.5 1456.0h0M1141.5 1454.9h0M1147.5 1453.6h0M1150.5 1452.0h0M1153.5 1451.0h0M1159.5 1451.3h0M1164.5 1444.6h0M1170.5 1453.7h0M1174.5 1459.0h0M1177.5 1459.2h0M1185.5 1462.5h0M1188.5 1458.6h0M1196.5 1459.2h0M1204.5 1462.5h0M1210.5 1465.8h0M1214.5 1465.8h0M1220.5 1466.5h0M1226.5 1456.1h0M1234.5 1467.3h0M1236.5 1470.1h0M1239.5 1468.3h0M1247.5 1470.0h0M1250.5 1468.7h0M1256.5 1460.7h0M1264.5 1459.2h0M1269.5 1461.9h0M1271.5 1461.0h0M1274.5 1466.7h0M1282.5 1467.6h0M1287.5 1463.4h0M1292.5 1458.8h0M1297.5 1461.5h0M1300.5 1458.8h0M1308.5 1456.3h0M1314.5 1450.2h0M1316.5 1450.7h0M1322.5 1450.7h0M1325.5 1451.7h0M1329.5 1454.0h0M1335.5 1458.7h0M1339.5 1458.7h0M1344.5 1467.8h0M1349.5 1471.2h0M1357.5 1467.2h0M1361.5 1463.2h0M1367.5 1446.2h0M1369.5 1448.5h0M1377.5 1468.9h0M1385.5 1469.4h0M1391.5 1459.7h0M1394.5 1460.2h0M1398.5 1460.2h0M1401.5 1458.1h0M1409.5 1453.1h0M1412.5 1455.1h0M1420.5 1455.0h0M1423.5 1456.5h0M1425.5 1454.8h0M1429.5 1455.3h0M1434.5 1462.5h0M1442.5 1462.0h0M1446.5 1466.1h0M1449.5 1471.3h0M1457.5 1466.8h0M1461.5 1465.7h0M1463.5 1458.3h0M1468.5 1457.0h0M1474.5 1463.9h0M1477.5 1461.4h0M1480.5 1461.9h0M1486.5 1462.9h0M1494.5 1470.3h0M1500.5 1467.8h0M1504.5 1464.3h0M1510.5 1456.0h0M1518.5 1457.1h0M1522.5 1461.4h0M1527.5 1461.8h0M1535.5 1462.8h0M1540.5 1458.6h0M1543.5 1454.6h0M1548.5 1454.6h0M1553.5 1449.6h0M1556.5 1451.9h0M1560.5 1455.2h0M1568.5 1450.5h0M1571.5 1447.3h0M1579.5 1448.2h0M1584.5 1449.9h0M1587.5 1451.4h0M1591.5 1461.0h0M1595.5 1465.5h0M1597.5 1465.5h0M1599.5 1464.5h0M1603.5 1446.3h0M1608.5 1443.8h0M1613.5 1457.9h0M1618.5 1460.4h0M1623.5 1374.9h0M1627.5 1380.1h0M1633.5 1422.9h0M1635.5 1424.8h0M1639.5 1424.5h0M1647.5 1413.6h0M1650.5 1448.3h0M1654.5 1463.3h0M1657.5 1463.8h0M1661.5 1466.8h0M1665.5 1451.4h0M1668.5 1446.6h0M1671.5 1443.9h0M1676.5 1430.0h0M1679.5 1416.2h0M1685.5 1445.5h0M1687.5 1444.6h0M1690.5 1448.6h0M1693.5 1452.6h0M1699.5 1459.7h0M1702.5 1463.3h0M1705.5 1461.4h0M1710.5 1462.4h0M1712.5 1462.4h0M1718.5 1464.9h0M1720.5 1469.3h0M1725.5 1469.4h0M1728.5 1470.4h0M1731.5 1467.4h0M1736.5 1462.5h0M1738.5 1461.7h0M1744.5 1444.5h0M1752.5 1459.5h0M1757.5 1462.3h0M1762.5 1461.7h0M1770.5 1463.9h0M1775.5 1461.8h0M1778.5 1458.3h0M1781.5 1460.1h0M1786.5 1463.1h0M1791.5 1467.6h0M1794.5 1464.6h0M1800.5 1462.8h0M1808.5 1454.2h0M1811.5 1454.1h0M1816.5 1452.2h0M1819.5 1455.3h0M1827.5 1462.9h0M1829.5 1464.2h0M1832.5 1465.6h0M1838.5 1465.3h0M1841.5 1463.8h0M1843.5 1462.2h0M1851.5 1463.4h0M1856.5 1465.1h0M1862.5 1463.7h0M1865.5 1464.7h0M1871.5 1466.2h0M1879.5 1453.7h0M1881.5 1452.5h0M1886.5 1450.5h0M1889.5 1442.3h0M1892.5 1453.2h0M1898.5 1460.5h0M1904.5 1461.0h0M1907.5 1457.6h0M1913.5 1459.6h0M1916.5 1456.9h0M1918.5 1452.6h0M1920.5 1450.8h0M1922.5 1453.6h0M1927.5 1449.5h0M1932.5 1446.2h0M1936.5 1436.8h0M1939.5 1436.8h0M1941.5 1436.8h0M1944.5 1435.4h0M1947.5 1440.2h0M1953.5 1461.5h0M1958.5 1461.5h0M1961.5 1464.0h0M1965.5 1463.8h0M1973.5 1466.7h0M1976.5 1467.8h0M1980.5 1467.8h0M1985.5 1465.9h0M1989.5 1465.7h0M1994.5 1466.2h0M1996.5 1467.6h0M2002.5 1459.0h0M2010.5 1461.4h0M2013.5 1466.1h0M2017.5 1468.6h0M2023.5 1470.7h0M2027.5 1470.2h0M231.5 1486.0h0M233.5 1485.0h0M235.5 1486.0h0M237.5 1484.5h0M244.5 1485.5h0M250.5 1485.0h0M253.5 1485.0h0M259.5 1486.0h0M263.5 1486.0h0M265.5 1484.5h0M272.5 1486.0h0M277.5 1486.0h0M281.5 1485.0h0M288.5 1486.0h0M293.5 1486.0h0M298.5 1486.0h0M305.5 1486.0h0M307.5 1486.0h0M311.5 1485.5h0M313.5 1486.0h0M317.5 1484.5h0M323.5 1486.0h0M326.5 1486.0h0M333.5 1486.0h0M337.5 1486.0h0M344.5 1485.5h0M350.5 1486.0h0M356.5 1486.0h0M361.5 1485.0h0M366.5 1484.5h0M369.5 1484.5h0M371.5 1485.5h0M377.5 1486.0h0M379.5 1485.0h0M381.5 1484.5h0M384.5 1486.0h0M389.5 1485.5h0M395.5 1486.0h0M398.5 1484.5h0M403.5 1486.0h0M405.5 1486.0h0M409.5 1486.0h0M413.5 1485.0h0M419.5 1485.0h0M424.5 1485.0h0M430.5 1486.0h0M437.5 1485.5h0M444.5 1486.0h0M450.5 1485.0h0M457.5 1486.0h0M462.5 1486.0h0M467.5 1485.5h0M470.5 1485.5h0M476.5 1485.0h0M482.5 1486.0h0M487.5 1485.5h0M492.5 1486.0h0M498.5 1485.5h0M504.5 1486.0h0M508.5 1480.7h0M512.5 1478.5h0M519.5 1468.9h0M525.5 1486.0h0M532.5 1484.5h0M539.5 1486.0h0M541.5 1486.0h0M544.5 1485.0h0M546.5 1484.5h0M549.5 1485.5h0M556.5 1485.5h0M558.5 1486.0h0M565.5 1485.5h0M567.5 1485.0h0M574.5 1486.0h0M576.5 1486.0h0M581.5 1484.5h0M586.5 1486.0h0M589.5 1486.0h0M595.5 1486.0h0M602.5 1485.5h0M605.5 1486.0h0M611.5 1484.5h0M613.5 1486.0h0M619.5 1485.5h0M624.5 1486.0h0M627.5 1486.0h0M631.5 1485.0h0M634.5 1486.0h0M638.5 1485.5h0M641.5 1484.5h0M646.5 1485.5h0M652.5 1486.0h0M659.5 1485.0h0M666.5 1485.5h0M670.5 1484.5h0M676.5 1486.0h0M680.5 1484.5h0M683.5 1486.0h0M688.5 1486.0h0M694.5 1486.0h0M700.5 1485.0h0M704.5 1486.0h0M708.5 1485.0h0M715.5 1484.5h0M721.5 1484.5h0M727.5 1486.0h0M734.5 1486.0h0M737.5 1486.0h0M740.5 1485.0h0M747.5 1486.0h0M754.5 1486.0h0M761.5 1486.0h0M763.5 1486.0h0M767.5 1485.5h0M769.5 1485.0h0M771.5 1486.0h0M774.5 1485.0h0M778.5 1486.0h0M780.5 1484.5h0M783.5 1485.0h0M786.5 1484.5h0M790.5 1485.5h0M795.5 1486.0h0M798.5 1486.0h0M802.5 1485.5h0M809.5 1486.0h0M811.5 1486.0h0M816.5 1485.0h0M819.5 1485.5h0M824.5 1484.5h0M828.5 1485.5h0M831.5 1486.0h0M834.5 1484.5h0M840.5 1486.0h0M844.5 1485.0h0M851.5 1486.0h0M856.5 1484.5h0M860.5 1485.0h0M862.5 1482.9h0M866.5 1480.1h0M872.5 1483.5h0M877.5 1485.0h0M883.5 1485.5h0M890.5 1478.9h0M894.5 1480.3h0M896.5 1486.0h0M899.5 1484.5h0M905.5 1486.0h0M912.5 1486.0h0M917.5 1484.5h0M924.5 1486.0h0M928.5 1486.0h0M931.5 1486.0h0M938.5 1484.5h0M942.5 1486.0h0M944.5 1486.0h0M951.5 1485.5h0M957.5 1485.0h0M964.5 1486.0h0M969.5 1485.0h0M973.5 1485.5h0M977.5 1486.0h0M982.5 1484.5h0M988.5 1486.0h0M990.5 1486.0h0M994.5 1486.0h0M998.5 1484.5h0M1003.5 1485.0h0M1008.5 1486.0h0M1015.5 1485.0h0M1019.5 1485.5h0M1025.5 1486.0h0M1031.5 1485.0h0M1034.5 1486.0h0M1036.5 1485.5h0M1040.5 1486.0h0M1043.5 1485.0h0M1045.5 1485.0h0M1048.5 1485.0h0M1052.5 1486.0h0M1059.5 1485.5h0M1061.5 1485.0h0M1067.5 1486.0h0M1073.5 1486.0h0M1077.5 1486.0h0M1081.5 1484.5h0M1083.5 1486.0h0M1085.5 1486.0h0M1092.5 1484.5h0M1095.5 1486.0h0M1102.5 1484.5h0M1107.5 1486.0h0M1114.5 1486.0h0M1119.5 1485.0h0M1123.5 1485.5h0M1128.5 1486.0h0M1132.5 1486.0h0M1139.5 1486.0h0M1144.5 1485.5h0M1150.5 1484.5h0M1152.5 1484.5h0M1158.5 1486.0h0M1163.5 1484.5h0M1167.5 1486.0h0M1172.5 1486.0h0M1177.5 1485.0h0M1184.5 1486.0h0M1190.5 1486.0h0M1197.5 1486.0h0M1199.5 1485.5h0M1204.5 1486.0h0M1207.5 1484.5h0M1210.5 1484.5h0M1215.5 1484.5h0M1218.5 1486.0h0M1221.5 1485.5h0M1226.5 1485.0h0M1230.5 1486.0h0M1232.5 1485.5h0M1236.5 1484.5h0M1238.5 1486.0h0M1245.5 1486.0h0M1248.5 1486.0h0M1253.5 1486.0h0M1259.5 1485.5h0M1261.5 1486.0h0M1263.5 1486.0h0M1266.5 1486.0h0M1269.5 1485.0h0M1272.5 1485.0h0M1279.5 1485.5h0M1285.5 1485.0h0M1288.5 1485.5h0M1291.5 1486.0h0M1296.5 1486.0h0M1300.5 1484.5h0M1306.5 1485.0h0M1311.5 1486.0h0M1316.5 1485.5h0M1320.5 1484.5h0M1326.5 1486.0h0M1331.5 1486.0h0M1336.5 1486.0h0M1339.5 1486.0h0M1344.5 1485.0h0M1350.5 1486.0h0M1352.5 1484.5h0M1355.5 1486.0h0M1360.5 1486.0h0M1365.5 1486.0h0M1372.5 1485.5h0M1378.5 1486.0h0M1383.5 1486.0h0M1387.5 1486.0h0M1391.5 1485.0h0M1394.5 1484.5h0M1401.5 1485.0h0M1405.5 1485.0h0M1411.5 1486.0h0M1414.5 1485.0h0M1417.5 1486.0h0M1420.5 1486.0h0M1423.5 1486.0h0M1427.5 1486.0h0M1433.5 1484.5h0M1439.5 1486.0h0M1444.5 1484.5h0M1449.5 1486.0h0M1456.5 1485.0h0M1462.5 1485.0h0M1466.5 1486.0h0M1469.5 1485.5h0M1472.5 1484.5h0M1474.5 1485.5h0M1477.5 1486.0h0M1483.5 1485.5h0M1489.5 1485.5h0M1492.5 1486.0h0M1496.5 1486.0h0M1501.5 1486.0h0M1507.5 1486.0h0M1512.5 1484.5h0M1519.5 1486.0h0M1523.5 1486.0h0M1530.5 1486.0h0M1532.5 1484.5h0M1537.5 1484.5h0M1542.5 1484.5h0M1544.5 1484.5h0M1549.5 1486.0h0M1554.5 1484.5h0M1561.5 1485.5h0M1564.5 1486.0h0M1570.5 1486.0h0M1575.5 1486.0h0M1582.5 1486.0h0M1588.5 1486.0h0M1592.5 1484.5h0M1597.5 1485.0h0M1604.5 1486.0h0M1608.5 1474.3h0M1614.5 1474.3h0M1616.5 1475.1h0M1619.5 1473.3h0M1624.5 1469.2h0M1626.5 1472.3h0M1630.5 1476.8h0M1636.5 1480.3h0M1643.5 1481.3h0M1647.5 1483.4h0M1652.5 1486.0h0M1654.5 1486.0h0M1660.5 1486.0h0M1663.5 1484.5h0M1670.5 1484.5h0M1673.5 1486.0h0M1676.5 1485.5h0M1678.5 1485.5h0M1684.5 1484.5h0M1686.5 1486.0h0M1689.5 1486.0h0M1692.5 1486.0h0M1697.5 1485.5h0M1699.5 1486.0h0M1704.5 1485.0h0M1707.5 1484.5h0M1710.5 1486.0h0M1717.5 1485.5h0M1722.5 1486.0h0M1727.5 1485.0h0M1729.5 1484.5h0M1734.5 1485.0h0M1741.5 1486.0h0M1744.5 1484.5h0M1750.5 1485.0h0M1752.5 1486.0h0M1756.5 1486.0h0M1760.5 1486.0h0M1767.5 1485.5h0M1769.5 1485.0h0M1774.5 1486.0h0M1780.5 1486.0h0M1784.5 1486.0h0M1790.5 1484.5h0M1793.5 1486.0h0M1799.5 1486.0h0M1805.5 1486.0h0M1809.5 1485.0h0M1815.5 1485.0h0M1818.5 1485.0h0M1825.5 1486.0h0M1831.5 1484.5h0M1838.5 1486.0h0M1844.5 1486.0h0M1851.5 1484.5h0M1854.5 1486.0h0M1857.5 1486.0h0M1862.5 1485.0h0M1867.5 1484.5h0M1871.5 1486.0h0M1873.5 1486.0h0M1877.5 1485.5h0M1879.5 1485.5h0M1886.5 1486.0h0M1889.5 1485.0h0M1895.5 1485.0h0M1901.5 1486.0h0M1907.5 1486.0h0M1910.5 1484.5h0M1914.5 1485.0h0M1917.5 1486.0h0M1919.5 1486.0h0M1926.5 1486.0h0M1929.5 1485.0h0M1933.5 1486.0h0M1936.5 1485.0h0M1942.5 1486.0h0M1947.5 1486.0h0M1952.5 1486.0h0M1959.5 1486.0h0M1963.5 1484.5h0M1970.5 1485.5h0M1976.5 1485.0h0M1983.5 1486.0h0M1986.5 1486.0h0M1991.5 1485.5h0M1993.5 1486.0h0M1999.5 1485.5h0M2001.5 1485.0h0M2006.5 1486.0h0M2010.5 1485.0h0M2013.5 1486.0h0M2016.5 1485.0h0M2020.5 1486.0h0M2027.5 1486.0h0M234.5 1452.8h0M243.5 1453.7h0M256.5 1453.7h0M269.5 1461.0h0M285.5 1456.5h0M301.5 1463.9h0M312.5 1465.0h0M325.5 1461.8h0M345.5 1453.4h0M358.5 1464.9h0M365.5 1460.2h0M381.5 1444.2h0M397.5 1453.2h0M404.5 1453.7h0M411.5 1464.3h0M427.5 1464.7h0M447.5 1461.9h0M458.5 1459.5h0M469.5 1451.2h0M476.5 1449.6h0M489.5 1463.5h0M502.5 1462.4h0M515.5 1427.4h0M531.5 1460.0h0M547.5 1466.4h0M560.5 1462.4h0M567.5 1463.4h0M587.5 1459.1h0M607.5 1456.4h0M623.5 1461.8h0M632.5 1458.4h0M652.5 1455.4h0M659.5 1451.9h0M666.5 1460.4h0M675.5 1465.9h0M691.5 1461.3h0M704.5 1461.5h0M713.5 1463.1h0M720.5 1464.0h0M727.5 1463.9h0M740.5 1465.6h0M753.5 1465.6h0M773.5 1457.0h0M780.5 1455.6h0M793.5 1458.2h0M804.5 1455.4h0M813.5 1448.7h0M826.5 1452.7h0M835.5 1456.8h0M855.5 1455.7h0M864.5 1449.9h0M875.5 1452.8h0M882.5 1451.0h0M902.5 1446.4h0M911.5 1437.5h0M920.5 1467.6h0M927.5 1467.6h0M938.5 1464.4h0M949.5 1458.9h0M960.5 1458.3h0M980.5 1453.7h0M991.5 1437.7h0M1004.5 1460.1h0M1013.5 1461.0h0M1024.5 1463.7h0M1044.5 1463.4h0M1053.5 1455.3h0M1069.5 1464.4h0M1080.5 1465.3h0M1100.5 1439.2h0M1107.5 1457.8h0M1116.5 1457.8h0M1125.5 1444.6h0M1136.5 1451.6h0M1156.5 1449.7h0M1163.5 1443.2h0M1179.5 1458.5h0M1186.5 1458.3h0M1202.5 1461.2h0M1213.5 1464.0h0M1229.5 1456.7h0M1240.5 1465.0h0M1249.5 1467.8h0M1260.5 1454.9h0M1267.5 1457.1h0M1276.5 1464.4h0M1283.5 1463.9h0M1299.5 1456.4h0M1312.5 1450.1h0M1319.5 1447.2h0M1339.5 1453.9h0M1350.5 1465.2h0M1357.5 1464.6h0M1373.5 1458.4h0M1393.5 1456.3h0M1409.5 1449.9h0M1425.5 1453.8h0M1434.5 1460.7h0M1447.5 1466.4h0M1460.5 1463.1h0M1471.5 1457.4h0M1491.5 1465.0h0M1504.5 1460.7h0M1520.5 1457.0h0M1531.5 1460.7h0M1547.5 1447.9h0M1554.5 1446.1h0M1563.5 1450.2h0M1579.5 1447.7h0M1592.5 1461.1h0M1608.5 1441.9h0M1619.5 1440.5h0M1626.5 1366.9h0M1635.5 1421.1h0M1651.5 1451.9h0M1671.5 1441.6h0M1680.5 1411.6h0M1693.5 1452.0h0M1704.5 1458.2h0M1724.5 1465.8h0M1735.5 1459.1h0M1748.5 1453.0h0M1764.5 1460.1h0M1775.5 1458.0h0M1788.5 1460.0h0M1804.5 1450.8h0M1811.5 1452.2h0M1824.5 1459.0h0M1833.5 1463.0h0M1840.5 1462.8h0M1856.5 1458.2h0M1865.5 1460.9h0M1881.5 1449.7h0M1888.5 1439.9h0M1901.5 1455.8h0M1910.5 1455.3h0M1926.5 1447.2h0M1939.5 1433.5h0M1946.5 1426.1h0M1966.5 1461.7h0M1986.5 1463.0h0M1997.5 1461.5h0M2013.5 1462.1h0M2026.5 1468.3h0M330.8 1381.1h0M330.4 1409.3h0M330.6 1415.8h0M330.6 1421.2h0M330.6 1427.7h0M475.9 1419.5h0M390.5 1434.2h0M492.2 1444.4h0M570.3 1454.2h0M608.4 1445.1h0M641.4 1445.1h0M418.7 1452.2h0M789.7 1433.6h0M800.6 1436.8h0M904.5 1427.7h0M912.7 1427.1h0M1130.7 1381.7h0M1003.8 1452.2h0M1224.2 1441.8h0M1335.8 1424.5h0M1518.5 1444.6h0M1625.0 1318.2h0M1625.0 1324.7h0M1625.0 1331.2h0M1625.0 1336.6h0M1645.1 1389.3h0M1682.6 1362.7h0M1682.6 1372.0h0M1682.6 1384.8h0M1681.3 1402.3h0M1675.5 1420.1h0M1716.7 1433.6h0M1696.1 1438.6h0M1899.9 1437.0h0M1889.1 1434.2h0M2030.5 1438.1h0M2030.7 1441.8h0M2030.5 1445.5h0M2030.7 1449.2h0M2030.5 1452.9h0M2030.7 1456.6h0M2030.5 1460.2h0M2030.7 1463.9h0M2030.5 1467.6h0M2030.7 1471.3h0M2030.5 1475.0h0M2030.7 1478.7h0" stroke="#f00" stroke-width="9" stroke-linecap="round" fill="none"/></g>
<g id="hpl" shape-rendering="crispEdges"><polygon fill="#00f" points="231.0,1289.9 231.5,1289.8 232.0,1289.6 232.5,1289.4 233.0,1285.7 233.5,1281.2 234.0,1276.7 234.5,1272.2 235.0,1267.7 235.5,1263.2 236.0,1258.9 236.5,1254.8 237.0,1250.7 237.5,1246.7 238.0,1246.0 238.5,1246.0 239.0,1246.0 239.5,1246.0 240.0,1246.0 240.5,1246.0 241.0,1259.2 241.5,1276.3 242.0,1290.0 242.5,1287.1 243.0,1284.3 243.5,1274.7 244.0,1221.1 244.5,1212.0 245.0,1212.0 245.5,1212.0 246.0,1212.0 246.5,1212.0 247.0,1228.8 247.5,1255.6 248.0,1281.9 248.5,1286.9 249.0,1291.9 249.5,1285.6 250.0,1263.7 250.5,1241.8 251.0,1219.9 251.5,1152.2 252.0,1152.2 252.5,1152.2 253.0,1152.2 253.5,1152.2 254.0,1152.2 254.5,1164.2 255.0,1170.1 255.5,1170.4 256.0,1170.6 256.5,1170.8 257.0,1171.0 257.5,1179.4 258.0,1189.8 258.5,1200.1 259.0,1202.5 259.5,1202.5 260.0,1181.5 260.5,1172.2 261.0,1172.2 261.5,1172.2 262.0,1172.2 262.5,1172.2 263.0,1185.7 263.5,1211.3 264.0,1222.2 264.5,1229.2 265.0,1236.2 265.5,1243.2 266.0,1243.7 266.5,1236.6 267.0,1229.5 267.5,1207.7 268.0,1165.7 268.5,1129.7 269.0,1111.6 269.5,1093.4 270.0,1075.3 270.5,1042.7 271.0,1006.0 271.5,975.5 272.0,973.0 272.5,972.7 273.0,972.7 273.5,972.7 274.0,972.7 274.5,972.7 275.0,974.4 275.5,979.2 276.0,979.2 276.5,979.2 277.0,1032.7 277.5,1118.0 278.0,1118.0 278.5,1088.0 279.0,1031.1 279.5,1032.0 280.0,1032.8 280.5,1033.7 281.0,1034.2 281.5,1030.9 282.0,1027.7 282.5,1024.4 283.0,1023.2 283.5,1023.2 284.0,1023.2 284.5,1023.2 285.0,1023.2 285.5,1023.2 286.0,1052.9 286.5,1106.9 287.0,1141.0 287.5,1170.6 288.0,1204.9 288.5,1256.6 289.0,1253.3 289.5,1244.7 290.0,1236.1 290.5,1230.4 291.0,1225.0 291.5,1219.7 292.0,1218.8 292.5,1218.8 293.0,1218.8 293.5,1218.8 294.0,1218.8 294.5,1219.0 295.0,1220.0 295.5,1222.7 296.0,1276.2 296.5,1306.4 297.0,1306.4 297.5,1306.4 298.0,1306.4 298.5,1306.4 299.0,1306.4 299.5,1306.4 300.0,1302.1 300.5,1296.5 301.0,1294.9 301.5,1294.9 302.0,1294.9 302.5,1294.9 303.0,1294.9 303.5,1294.9 304.0,1294.9 304.5,1294.9 305.0,1294.9 305.5,1294.9 306.0,1282.2 306.5,1269.1 307.0,1256.1 307.5,1243.0 308.0,1234.0 308.5,1234.2 309.0,1234.4 309.5,1234.6 310.0,1234.8 310.5,1235.0 311.0,1258.1 311.5,1292.4 312.0,1303.8 312.5,1303.8 313.0,1303.8 313.5,1303.8 314.0,1269.4 314.5,1226.4 315.0,1226.4 315.5,1226.4 316.0,1226.4 316.5,1226.4 317.0,1226.4 317.5,1226.4 318.0,1268.4 318.5,1303.8 319.0,1303.8 319.5,1303.8 320.0,1303.8 320.5,1303.8 321.0,1288.4 321.5,1255.0 322.0,1221.6 322.5,1188.1 323.0,1163.2 323.5,1140.2 324.0,1088.8 324.5,1021.8 325.0,967.7 325.5,927.7 326.0,874.1 326.5,790.0 327.0,688.0 327.5,586.0 328.0,493.5 328.5,414.4 329.0,379.0 329.5,379.0 330.0,379.0 330.5,379.0 331.0,379.0 331.5,379.0 332.0,379.0 332.5,1069.9 333.0,1087.3 333.5,1089.2 334.0,1091.1 334.5,1092.9 335.0,1101.6 335.5,1110.6 336.0,1117.5 336.5,1123.7 337.0,1130.0 337.5,1128.3 338.0,1109.7 338.5,1091.1 339.0,1077.8 339.5,1077.8 340.0,1077.8 340.5,1077.8 341.0,1077.8 341.5,1077.8 342.0,1083.5 342.5,1092.2 343.0,1102.5 343.5,1112.9 344.0,1124.4 344.5,1138.3 345.0,1152.3 345.5,1162.5 346.0,1162.7 346.5,1163.0 347.0,1163.2 347.5,1163.5 348.0,1174.2 348.5,1185.7 349.0,1193.0 349.5,1199.0 350.0,1206.8 350.5,1215.8 351.0,1226.1 351.5,1238.1 352.0,1244.4 352.5,1234.4 353.0,1225.3 353.5,1225.6 354.0,1225.8 354.5,1226.1 355.0,1226.3 355.5,1226.6 356.0,1226.8 356.5,1227.1 357.0,1227.3 357.5,1237.9 358.0,1262.9 358.5,1281.7 359.0,1281.7 359.5,1281.7 360.0,1281.7 360.5,1281.7 361.0,1281.7 361.5,1281.7 362.0,1281.7 362.5,1281.7 363.0,1268.0 363.5,1244.0 364.0,1224.2 364.5,1210.7 365.0,1197.2 365.5,1183.7 366.0,1170.7 366.5,1164.2 367.0,1157.7 367.5,1157.0 368.0,1157.0 368.5,1157.0 369.0,1157.0 369.5,1157.0 370.0,1156.3 370.5,1153.8 371.0,1151.3 371.5,1148.8 372.0,1142.4 372.5,1128.6 373.0,1114.9 373.5,1111.5 374.0,1111.5 374.5,1111.5 375.0,1111.5 375.5,1128.3 376.0,1168.9 376.5,1172.3 377.0,1158.1 377.5,1145.1 378.0,1145.1 378.5,1145.1 379.0,1145.1 379.5,1128.7 380.0,1033.9 380.5,980.7 381.0,980.7 381.5,980.7 382.0,980.7 382.5,980.7 383.0,980.7 383.5,996.5 384.0,1037.1 384.5,1037.7 385.0,1038.2 385.5,1041.6 386.0,1142.5 386.5,1167.7 387.0,1164.5 387.5,1161.2 388.0,1160.5 388.5,1160.8 389.0,1161.1 389.5,1161.5 390.0,1161.8 390.5,1162.1 391.0,1167.9 391.5,1197.5 392.0,1227.1 392.5,1256.7 393.0,1283.4 393.5,1284.0 394.0,1284.5 394.5,1285.1 395.0,1285.7 395.5,1286.2 396.0,1286.8 396.5,1287.4 397.0,1288.0 397.5,1288.6 398.0,1289.7 398.5,1290.7 399.0,1291.8 399.5,1292.8 400.0,1293.9 400.5,1295.0 401.0,1296.0 401.5,1297.1 402.0,1298.2 402.5,1299.2 403.0,1300.1 403.5,1300.9 404.0,1301.8 404.5,1302.4 405.0,1296.4 405.5,1290.4 406.0,1284.4 406.5,1275.8 407.0,1255.5 407.5,1235.1 408.0,1230.7 408.5,1230.7 409.0,1230.7 409.5,1230.7 410.0,1230.7 410.5,1232.6 411.0,1245.1 411.5,1257.6 412.0,1258.3 412.5,1258.8 413.0,1259.3 413.5,1259.8 414.0,1256.2 414.5,1250.2 415.0,1244.2 415.5,1238.2 416.0,1232.2 416.5,1226.2 417.0,1220.2 417.5,1218.4 418.0,1218.5 418.5,1218.6 419.0,1218.6 419.5,1218.7 420.0,1218.8 420.5,1221.3 421.0,1225.3 421.5,1222.9 422.0,1214.5 422.5,1214.5 423.0,1214.5 423.5,1214.5 424.0,1214.5 424.5,1214.5 425.0,1214.5 425.5,1214.5 426.0,1315.4 426.5,1315.4 427.0,1315.4 427.5,1315.4 428.0,1315.4 428.5,1315.4 429.0,1315.4 429.5,1314.4 430.0,1273.7 430.5,1233.1 431.0,1076.6 431.5,1065.9 432.0,1065.9 432.5,1065.9 433.0,1065.9 433.5,1065.9 434.0,1065.9 434.5,1090.6 435.0,1140.5 435.5,1146.5 436.0,1152.6 436.5,1160.1 437.0,1180.8 437.5,1201.5 438.0,1221.0 438.5,1222.3 439.0,1223.5 439.5,1224.8 440.0,1216.9 440.5,1202.6 441.0,1188.3 441.5,1170.6 442.0,1150.3 442.5,1130.0 443.0,1111.5 443.5,1111.5 444.0,1111.5 444.5,1111.5 445.0,1111.5 445.5,1111.5 446.0,1111.5 446.5,1148.1 447.0,1193.9 447.5,1194.1 448.0,1194.3 448.5,1194.5 449.0,1194.8 449.5,1195.4 450.0,1201.1 450.5,1206.8 451.0,1212.7 451.5,1222.7 452.0,1232.7 452.5,1242.7 453.0,1241.3 453.5,1231.3 454.0,1221.3 454.5,1211.8 455.0,1206.7 455.5,1201.5 456.0,1196.7 456.5,1196.8 457.0,1196.8 457.5,1196.9 458.0,1197.0 458.5,1197.0 459.0,1197.1 459.5,1201.0 460.0,1208.0 460.5,1191.3 461.0,1141.4 461.5,1141.4 462.0,1141.4 462.5,1141.4 463.0,1141.4 463.5,1141.4 464.0,1141.4 464.5,1143.2 465.0,1146.4 465.5,1152.4 466.0,1162.4 466.5,1172.4 467.0,1181.2 467.5,1188.0 468.0,1194.8 468.5,1202.2 469.0,1211.0 469.5,1219.7 470.0,1228.5 470.5,1239.4 471.0,1250.7 471.5,1261.9 472.0,1257.0 472.5,1227.5 473.0,1204.7 473.5,1204.7 474.0,1204.7 474.5,1204.7 475.0,1204.7 475.5,1204.7 476.0,1204.7 476.5,1206.5 477.0,1209.0 477.5,1211.5 478.0,1213.2 478.5,1214.4 479.0,1215.7 479.5,1216.9 480.0,1218.1 480.5,1219.1 481.0,1220.1 481.5,1221.1 482.0,1222.1 482.5,1222.4 483.0,1222.7 483.5,1223.1 484.0,1223.4 484.5,1223.7 485.0,1224.1 485.5,1226.1 486.0,1229.9 486.5,1233.6 487.0,1237.4 487.5,1240.3 488.0,1239.3 488.5,1238.3 489.0,1237.3 489.5,1236.3 490.0,1236.5 490.5,1236.9 491.0,1237.3 491.5,1237.7 492.0,1238.2 492.5,1244.6 493.0,1254.6 493.5,1264.3 494.0,1263.7 494.5,1263.1 495.0,1262.5 495.5,1261.8 496.0,1261.2 496.5,1260.4 497.0,1259.6 497.5,1258.7 498.0,1257.9 498.5,1257.1 499.0,1256.9 499.5,1257.1 500.0,1257.3 500.5,1257.5 501.0,1257.6 501.5,1257.8 502.0,1275.7 502.5,1281.7 503.0,1281.7 503.5,1140.2 504.0,1038.4 504.5,1038.4 505.0,1038.4 505.5,1038.4 506.0,1038.4 506.5,1038.4 507.0,1024.4 507.5,945.5 508.0,945.5 508.5,945.5 509.0,945.5 509.5,945.5 510.0,945.5 510.5,950.1 511.0,973.8 511.5,1038.0 512.0,1150.5 512.5,1190.9 513.0,1203.4 513.5,1198.9 514.0,1195.4 514.5,1195.5 515.0,1195.6 515.5,1195.8 516.0,1195.9 516.5,1196.0 517.0,1213.5 517.5,1242.0 518.0,1248.0 518.5,1225.9 519.0,1203.7 519.5,1186.1 520.0,1175.1 520.5,1166.8 521.0,1166.8 521.5,1166.8 522.0,1166.8 522.5,1166.8 523.0,1166.8 523.5,1168.0 524.0,1170.0 524.5,1170.7 525.0,1169.7 525.5,1168.9 526.0,1168.9 526.5,1168.9 527.0,1168.9 527.5,1168.9 528.0,1168.9 528.5,1183.9 529.0,1207.9 529.5,1221.3 530.0,1222.0 530.5,1222.7 531.0,1220.8 531.5,1215.2 532.0,1209.5 532.5,1203.9 533.0,1167.7 533.5,1129.9 534.0,1092.0 534.5,1088.7 535.0,1088.7 535.5,1088.7 536.0,1088.7 536.5,1088.7 537.0,1088.7 537.5,1091.5 538.0,1098.5 538.5,1112.6 539.0,1149.6 539.5,1184.7 540.0,1193.2 540.5,1201.7 541.0,1202.8 541.5,1203.0 542.0,1203.3 542.5,1203.5 543.0,1203.8 543.5,1204.0 544.0,1204.3 544.5,1204.5 545.0,1216.5 545.5,1269.0 546.0,1263.1 546.5,1252.4 547.0,1241.7 547.5,1240.0 548.0,1239.5 548.5,1239.0 549.0,1238.5 549.5,1234.5 550.0,1227.7 550.5,1220.8 551.0,1213.5 551.5,1202.0 552.0,1190.5 552.5,1189.5 553.0,1189.5 553.5,1189.5 554.0,1189.5 554.5,1189.5 555.0,1189.5 555.5,1192.6 556.0,1200.1 556.5,1216.1 557.0,1259.9 557.5,1281.7 558.0,1281.7 558.5,1281.7 559.0,1281.7 559.5,1281.7 560.0,1281.7 560.5,1250.8 561.0,1235.1 561.5,1235.1 562.0,1235.1 562.5,1235.1 563.0,1235.1 563.5,1235.2 564.0,1235.7 564.5,1236.2 565.0,1236.7 565.5,1237.2 566.0,1237.7 566.5,1238.2 567.0,1238.7 567.5,1239.2 568.0,1239.7 568.5,1240.2 569.0,1240.7 569.5,1241.2 570.0,1241.7 570.5,1242.2 571.0,1242.7 571.5,1243.2 572.0,1243.7 572.5,1244.2 573.0,1244.7 573.5,1244.5 574.0,1244.1 574.5,1243.7 575.0,1243.4 575.5,1243.0 576.0,1224.5 576.5,1133.7 577.0,1045.7 577.5,1045.7 578.0,1045.7 578.5,1045.7 579.0,1045.7 579.5,1045.7 580.0,1045.7 580.5,1071.8 581.0,1121.6 581.5,1124.5 582.0,1115.4 582.5,1115.4 583.0,1115.4 583.5,1115.4 584.0,1115.4 584.5,1115.4 585.0,1115.4 585.5,1127.8 586.0,1140.5 586.5,1143.0 587.0,1143.2 587.5,1143.4 588.0,1143.5 588.5,1143.7 589.0,1143.9 589.5,1144.3 590.0,1145.3 590.5,1146.3 591.0,1147.3 591.5,1148.3 592.0,1160.4 592.5,1172.9 593.0,1172.6 593.5,1169.1 594.0,1165.6 594.5,1162.1 595.0,1154.7 595.5,1142.7 596.0,1130.7 596.5,1118.7 597.0,1118.7 597.5,1118.7 598.0,1118.8 598.5,1118.8 599.0,1118.9 599.5,1119.0 600.0,1119.0 600.5,1122.7 601.0,1128.7 601.5,1134.6 602.0,1141.8 602.5,1156.5 603.0,1171.1 603.5,1183.6 604.0,1178.9 604.5,1174.2 605.0,1169.5 605.5,1167.9 606.0,1168.0 606.5,1168.1 607.0,1168.2 607.5,1168.3 608.0,1168.4 608.5,1168.8 609.0,1170.7 609.5,1172.6 610.0,1178.2 610.5,1215.7 611.0,1253.2 611.5,1251.9 612.0,1247.9 612.5,1243.9 613.0,1239.9 613.5,1229.7 614.0,1215.2 614.5,1200.7 615.0,1186.2 615.5,1173.0 616.0,1163.6 616.5,1154.3 617.0,1144.9 617.5,1135.5 618.0,1125.2 618.5,1098.1 619.0,1079.6 619.5,1079.6 620.0,1079.6 620.5,1079.6 621.0,1079.6 621.5,1079.6 622.0,1079.6 622.5,1088.8 623.0,1113.1 623.5,1137.4 624.0,1166.4 624.5,1196.8 625.0,1227.2 625.5,1235.2 626.0,1235.4 626.5,1235.6 627.0,1235.8 627.5,1236.0 628.0,1236.6 628.5,1240.9 629.0,1245.2 629.5,1249.4 630.0,1253.3 630.5,1257.3 631.0,1260.9 631.5,1254.7 632.0,1248.4 632.5,1242.2 633.0,1230.0 633.5,1213.3 634.0,1196.5 634.5,1184.5 635.0,1177.0 635.5,1169.5 636.0,1160.4 636.5,1121.2 637.0,1082.0 637.5,1060.5 638.0,1060.5 638.5,1060.5 639.0,1060.5 639.5,1060.5 640.0,1060.5 640.5,1060.5 641.0,1150.1 641.5,1231.7 642.0,1262.5 642.5,1292.1 643.0,1292.1 643.5,1292.1 644.0,1292.1 644.5,1292.1 645.0,1292.1 645.5,1292.1 646.0,1285.8 646.5,1274.0 647.0,1266.4 647.5,1266.2 648.0,1265.9 648.5,1265.7 649.0,1265.4 649.5,1265.2 650.0,1264.9 650.5,1264.7 651.0,1264.4 651.5,1268.3 652.0,1274.0 652.5,1279.7 653.0,1281.7 653.5,1281.7 654.0,1281.7 654.5,1281.7 655.0,1281.7 655.5,1281.7 656.0,1281.7 656.5,1281.7 657.0,1273.2 657.5,1263.2 658.0,1241.0 658.5,1213.0 659.0,1184.5 659.5,1155.5 660.0,1134.2 660.5,1127.8 661.0,1121.3 661.5,1091.8 662.0,1009.3 662.5,973.7 663.0,973.7 663.5,973.7 664.0,973.7 664.5,973.7 665.0,973.7 665.5,973.7 666.0,1019.3 666.5,1091.2 667.0,1161.7 667.5,1221.0 668.0,1221.2 668.5,1221.3 669.0,1221.5 669.5,1221.7 670.0,1221.8 670.5,1222.0 671.0,1184.5 671.5,1127.0 672.0,1072.4 672.5,1072.4 673.0,1072.4 673.5,1072.4 674.0,1072.4 674.5,1072.4 675.0,1072.4 675.5,1072.4 676.0,1085.5 676.5,1104.9 677.0,1123.0 677.5,1141.0 678.0,1135.0 678.5,1128.2 679.0,1128.2 679.5,1128.2 680.0,1128.2 680.5,1128.2 681.0,1128.2 681.5,1128.2 682.0,1130.5 682.5,1154.3 683.0,1178.1 683.5,1180.3 684.0,1180.8 684.5,1181.4 685.0,1180.9 685.5,1180.9 686.0,1180.9 686.5,1180.9 687.0,1180.9 687.5,1214.8 688.0,1225.6 688.5,1225.9 689.0,1226.2 689.5,1226.5 690.0,1226.7 690.5,1227.0 691.0,1227.2 691.5,1227.5 692.0,1225.9 692.5,1224.4 693.0,1222.8 693.5,1222.0 694.0,1221.8 694.5,1221.7 695.0,1221.5 695.5,1221.4 696.0,1221.2 696.5,1221.1 697.0,1216.7 697.5,1186.7 698.0,1156.7 698.5,1146.2 699.0,1136.2 699.5,1126.2 700.0,1115.4 700.5,1104.0 701.0,1092.6 701.5,1086.5 702.0,1086.5 702.5,1086.5 703.0,1086.5 703.5,1086.5 704.0,1086.5 704.5,1086.5 705.0,1005.5 705.5,976.2 706.0,974.9 706.5,973.7 707.0,972.4 707.5,971.6 708.0,971.6 708.5,971.6 709.0,971.6 709.5,971.6 710.0,971.6 710.5,971.6 711.0,1088.1 711.5,1095.4 712.0,1095.6 712.5,1095.8 713.0,1096.0 713.5,1096.2 714.0,1108.1 714.5,1117.0 715.0,1117.4 715.5,1117.8 716.0,1118.2 716.5,1118.6 717.0,1119.0 717.5,1125.1 718.0,1132.5 718.5,1139.2 719.0,1145.9 719.5,1197.3 720.0,1238.0 720.5,1237.5 721.0,1232.9 721.5,1222.9 722.0,1214.8 722.5,1212.0 723.0,1209.2 723.5,1206.4 724.0,1205.8 724.5,1205.8 725.0,1205.8 725.5,1205.8 726.0,1205.8 726.5,1211.1 727.0,1220.1 727.5,1228.7 728.0,1236.7 728.5,1242.8 729.0,1243.6 729.5,1244.3 730.0,1245.1 730.5,1245.8 731.0,1250.0 731.5,1254.5 732.0,1251.4 732.5,1245.7 733.0,1240.0 733.5,1238.2 734.0,1238.0 734.5,1237.8 735.0,1237.6 735.5,1237.4 736.0,1238.3 736.5,1254.3 737.0,1270.3 737.5,1257.5 738.0,1241.5 738.5,1237.1 739.0,1236.9 739.5,1236.7 740.0,1236.5 740.5,1236.3 741.0,1236.4 741.5,1239.3 742.0,1242.1 742.5,1244.9 743.0,1247.1 743.5,1249.2 744.0,1251.7 744.5,1270.7 745.0,1289.7 745.5,1289.7 746.0,1285.1 746.5,1275.0 747.0,1265.0 747.5,1254.9 748.0,1243.9 748.5,1229.7 749.0,1215.4 749.5,1203.0 750.0,1199.2 750.5,1195.5 751.0,1191.7 751.5,1190.2 752.0,1189.6 752.5,1189.1 753.0,1189.6 753.5,1190.8 754.0,1191.9 754.5,1193.1 755.0,1205.1 755.5,1238.9 756.0,1272.6 756.5,1281.7 757.0,1281.7 757.5,1253.5 758.0,1240.3 758.5,1233.8 759.0,1230.6 759.5,1230.3 760.0,1230.1 760.5,1229.8 761.0,1229.9 761.5,1231.3 762.0,1232.8 762.5,1232.3 763.0,1221.3 763.5,1210.3 764.0,1201.9 764.5,1193.6 765.0,1183.1 765.5,1169.2 766.0,1155.3 766.5,1146.1 767.0,1145.9 767.5,1145.8 768.0,1145.6 768.5,1145.4 769.0,1145.3 769.5,1145.1 770.0,1202.4 770.5,1234.0 771.0,1234.0 771.5,1228.9 772.0,1215.2 772.5,1206.2 773.0,1199.9 773.5,1193.7 774.0,1187.3 774.5,1180.3 775.0,1173.3 775.5,1164.0 776.0,1154.7 776.5,1145.4 777.0,1145.0 777.5,1144.9 778.0,1144.8 778.5,1144.8 779.0,1144.7 779.5,1145.1 780.0,1146.7 780.5,1148.3 781.0,1156.5 781.5,1181.5 782.0,1211.4 782.5,1221.0 783.0,1221.1 783.5,1221.2 784.0,1221.2 784.5,1221.3 785.0,1221.4 785.5,1228.6 786.0,1240.4 786.5,1248.1 787.0,1250.6 787.5,1252.4 788.0,1252.4 788.5,1252.4 789.0,1242.8 789.5,1228.4 790.0,1225.3 790.5,1223.0 791.0,1222.6 791.5,1222.7 792.0,1222.9 792.5,1223.0 793.0,1223.1 793.5,1226.3 794.0,1229.6 794.5,1232.8 795.0,1234.6 795.5,1236.4 796.0,1238.2 796.5,1240.2 797.0,1242.3 797.5,1243.7 798.0,1243.7 798.5,1243.7 799.0,1234.9 799.5,1216.4 800.0,1215.8 800.5,1215.2 801.0,1214.7 801.5,1214.1 802.0,1213.5 802.5,1213.6 803.0,1213.8 803.5,1214.1 804.0,1214.3 804.5,1217.1 805.0,1223.1 805.5,1210.6 806.0,1148.1 806.5,1146.2 807.0,1146.3 807.5,1146.4 808.0,1146.5 808.5,1146.6 809.0,1146.7 809.5,1173.0 810.0,1229.5 810.5,1245.1 811.0,1245.4 811.5,1245.7 812.0,1241.0 812.5,1221.8 813.0,1187.5 813.5,1151.8 814.0,1113.7 814.5,1094.2 815.0,1094.3 815.5,1094.5 816.0,1094.6 816.5,1094.8 817.0,1095.0 817.5,1095.1 818.0,1115.2 818.5,1159.7 819.0,1228.0 819.5,1232.2 820.0,1232.5 820.5,1232.9 821.0,1238.4 821.5,1244.4 822.0,1246.3 822.5,1246.8 823.0,1271.2 823.5,1309.8 824.0,1304.2 824.5,1298.7 825.0,1298.6 825.5,1298.5 826.0,1298.4 826.5,1298.3 827.0,1298.2 827.5,1298.1 828.0,1305.7 828.5,1314.4 829.0,1317.5 829.5,1319.2 830.0,1322.9 830.5,1332.3 831.0,1338.7 831.5,1333.7 832.0,1312.7 832.5,1274.1 833.0,1274.1 833.5,1274.1 834.0,1274.1 834.5,1274.1 835.0,1274.1 835.5,1274.1 836.0,1282.9 836.5,1286.3 837.0,1278.5 837.5,1251.6 838.0,1188.3 838.5,1111.7 839.0,1109.2 839.5,1107.1 840.0,1107.1 840.5,1107.1 841.0,1107.1 841.5,1107.1 842.0,1107.1 842.5,1148.3 843.0,1225.4 843.5,1277.0 844.0,1277.4 844.5,1277.7 845.0,1278.0 845.5,1277.6 846.0,1276.3 846.5,1275.0 847.0,1273.7 847.5,1272.4 848.0,1271.1 848.5,1173.2 849.0,1173.0 849.5,1172.8 850.0,1172.6 850.5,1172.4 851.0,1173.4 851.5,1179.9 852.0,1186.1 852.5,1175.6 853.0,1165.1 853.5,1157.2 854.0,1149.7 854.5,1147.0 855.0,1146.7 855.5,1146.4 856.0,1129.0 856.5,1074.5 857.0,1074.1 857.5,1073.7 858.0,1073.6 858.5,1073.9 859.0,1074.1 859.5,1074.4 860.0,1120.1 860.5,1170.1 861.0,1164.1 861.5,1160.2 862.0,1160.0 862.5,1159.9 863.0,1159.7 863.5,1159.5 864.0,1159.4 864.5,1159.2 865.0,1213.3 865.5,1268.3 866.0,1265.2 866.5,1262.0 867.0,1258.9 867.5,1137.8 868.0,1098.3 868.5,1098.1 869.0,1097.9 869.5,1097.7 870.0,1097.5 870.5,1101.3 871.0,1127.9 871.5,1158.5 872.0,1186.3 872.5,1186.1 873.0,1185.9 873.5,1185.7 874.0,1185.5 874.5,1185.3 875.0,1188.5 875.5,1195.5 876.0,1200.4 876.5,1200.6 877.0,1200.7 877.5,1200.9 878.0,1201.0 878.5,1218.1 879.0,1235.8 879.5,1239.6 880.0,1239.9 880.5,1240.1 881.0,1240.4 881.5,1244.6 882.0,1253.6 882.5,1254.5 883.0,1235.5 883.5,1213.4 884.0,1168.9 884.5,1124.4 885.0,1122.2 885.5,1122.1 886.0,1122.0 886.5,1121.8 887.0,1121.7 887.5,1139.3 888.0,1195.3 888.5,1222.3 889.0,1228.3 889.5,1231.9 890.0,1232.2 890.5,1232.4 891.0,1232.7 891.5,1231.5 892.0,1212.0 892.5,1192.5 893.0,1190.5 893.5,1190.3 894.0,1190.1 894.5,1190.0 895.0,1189.8 895.5,1189.6 896.0,1194.8 896.5,1207.9 897.0,1227.2 897.5,1249.7 898.0,1251.8 898.5,1252.3 899.0,1252.8 899.5,1253.3 900.0,1261.2 900.5,1274.2 901.0,1281.7 901.5,1281.7 902.0,1214.4 902.5,1051.7 903.0,1051.5 903.5,1051.2 904.0,1051.0 904.5,1050.6 905.0,1048.5 905.5,1046.5 906.0,1024.1 906.5,1004.0 907.0,1003.7 907.5,1003.5 908.0,1003.2 908.5,1003.0 909.0,1003.2 909.5,1003.3 910.0,1003.4 910.5,1003.5 911.0,1003.7 911.5,1003.8 912.0,1003.9 912.5,1004.0 913.0,1042.3 913.5,1062.9 914.0,1063.3 914.5,1063.7 915.0,1064.1 915.5,1091.9 916.0,1166.4 916.5,1213.9 917.0,1261.4 917.5,1266.7 918.0,1266.8 918.5,1267.0 919.0,1267.2 919.5,1267.3 920.0,1267.5 920.5,1270.1 921.0,1276.6 921.5,1281.7 922.0,1281.7 922.5,1281.7 923.0,1281.7 923.5,1253.7 924.0,1242.8 924.5,1235.7 925.0,1228.5 925.5,1224.2 926.0,1224.2 926.5,1224.2 927.0,1224.2 927.5,1224.2 928.0,1223.4 928.5,1219.6 929.0,1219.3 929.5,1219.4 930.0,1219.5 930.5,1219.6 931.0,1219.7 931.5,1219.8 932.0,1248.2 932.5,1281.7 933.0,1281.7 933.5,1281.7 934.0,1281.7 934.5,1278.4 935.0,1261.4 935.5,1244.8 936.0,1244.6 936.5,1244.3 937.0,1244.1 937.5,1243.8 938.0,1218.3 938.5,1195.4 939.0,1195.3 939.5,1195.3 940.0,1195.3 940.5,1195.2 941.0,1195.2 941.5,1195.2 942.0,1195.1 942.5,1195.1 943.0,1195.1 943.5,1195.0 944.0,1195.0 944.5,1195.0 945.0,1195.0 945.5,1195.2 946.0,1177.2 946.5,1117.2 947.0,1115.1 947.5,1113.0 948.0,1111.5 948.5,1111.5 949.0,1111.5 949.5,1111.5 950.0,1111.5 950.5,1100.6 951.0,1100.6 951.5,1100.6 952.0,1100.6 952.5,1100.6 953.0,1100.6 953.5,1100.8 954.0,1110.2 954.5,1118.8 955.0,1125.5 955.5,1132.1 956.0,1143.6 956.5,1157.4 957.0,1131.4 957.5,1106.9 958.0,1095.6 958.5,1089.8 959.0,1089.8 959.5,1089.8 960.0,1089.8 960.5,1089.8 961.0,1089.8 961.5,1089.8 962.0,1170.1 962.5,1197.4 963.0,1197.7 963.5,1198.1 964.0,1091.1 964.5,1052.2 965.0,1052.2 965.5,1052.2 966.0,1052.2 966.5,1052.2 967.0,1052.2 967.5,1052.2 968.0,1079.6 968.5,1128.5 969.0,1191.6 969.5,1205.1 970.0,1205.5 970.5,1205.9 971.0,1213.2 971.5,1234.8 972.0,1243.9 972.5,1244.2 973.0,1244.6 973.5,1247.7 974.0,1272.1 974.5,1283.5 975.0,1283.8 975.5,1284.0 976.0,1284.3 976.5,1284.6 977.0,1291.5 977.5,1297.8 978.0,1295.3 978.5,1292.8 979.0,1290.3 979.5,1278.6 980.0,1258.8 980.5,1239.4 981.0,1239.2 981.5,1239.0 982.0,1238.8 982.5,1238.6 983.0,1238.4 983.5,1241.3 984.0,1246.3 984.5,1253.0 985.0,1262.0 985.5,1270.3 986.0,1276.3 986.5,1276.7 987.0,1222.5 987.5,1194.6 988.0,1173.6 988.5,1165.2 989.0,1164.5 989.5,1164.2 990.0,1164.2 990.5,1164.2 991.0,1164.2 991.5,1164.2 992.0,1165.7 992.5,1171.9 993.0,1178.7 993.5,1184.2 994.0,1184.9 994.5,1185.6 995.0,1207.0 995.5,1241.6 996.0,1268.0 996.5,1288.9 997.0,1291.2 997.5,1293.5 998.0,1295.9 998.5,1297.2 999.0,1296.5 999.5,1295.9 1000.0,1295.2 1000.5,1294.5 1001.0,1293.9 1001.5,1293.2 1002.0,1292.5 1002.5,1278.2 1003.0,1278.2 1003.5,1278.1 1004.0,1278.1 1004.5,1278.0 1005.0,1278.0 1005.5,1282.4 1006.0,1301.6 1006.5,1302.2 1007.0,1301.8 1007.5,1301.4 1008.0,1301.0 1008.5,1300.6 1009.0,1300.2 1009.5,1293.1 1010.0,1280.2 1010.5,1249.0 1011.0,1214.5 1011.5,1187.2 1012.0,1186.5 1012.5,1185.8 1013.0,1178.0 1013.5,1137.2 1014.0,1107.1 1014.5,1078.6 1015.0,1063.2 1015.5,1057.2 1016.0,1057.2 1016.5,1057.2 1017.0,1057.2 1017.5,1057.2 1018.0,1057.2 1018.5,1057.2 1019.0,1059.7 1019.5,1126.0 1020.0,1126.1 1020.5,1126.3 1021.0,1126.4 1021.5,1126.5 1022.0,1173.4 1022.5,1279.0 1023.0,1249.6 1023.5,1230.7 1024.0,1230.5 1024.5,1230.3 1025.0,1230.2 1025.5,1230.0 1026.0,1229.8 1026.5,1229.7 1027.0,1236.4 1027.5,1244.4 1028.0,1257.9 1028.5,1273.9 1029.0,1265.0 1029.5,1239.3 1030.0,1238.8 1030.5,1238.3 1031.0,1237.8 1031.5,1237.3 1032.0,1229.6 1032.5,1222.0 1033.0,1221.4 1033.5,1220.8 1034.0,1220.6 1034.5,1220.7 1035.0,1220.8 1035.5,1220.9 1036.0,1223.0 1036.5,1233.0 1037.0,1240.3 1037.5,1244.4 1038.0,1248.6 1038.5,1243.2 1039.0,1237.2 1039.5,1237.1 1040.0,1236.9 1040.5,1236.8 1041.0,1236.6 1041.5,1239.1 1042.0,1242.3 1042.5,1247.1 1043.0,1259.2 1043.5,1271.4 1044.0,1281.7 1044.5,1281.7 1045.0,1281.7 1045.5,1281.7 1046.0,1281.7 1046.5,1256.3 1047.0,1252.6 1047.5,1250.5 1048.0,1248.4 1048.5,1246.2 1049.0,1244.1 1049.5,1241.2 1050.0,1236.5 1050.5,1231.8 1051.0,1227.2 1051.5,1220.7 1052.0,1213.9 1052.5,1207.1 1053.0,1201.4 1053.5,1195.9 1054.0,1188.2 1054.5,1179.2 1055.0,1171.0 1055.5,1165.0 1056.0,1165.0 1056.5,1165.0 1057.0,1165.0 1057.5,1165.0 1058.0,1165.0 1058.5,1165.4 1059.0,1169.5 1059.5,1166.3 1060.0,1149.7 1060.5,1143.3 1061.0,1143.3 1061.5,1143.3 1062.0,1143.3 1062.5,1143.3 1063.0,1143.3 1063.5,1143.3 1064.0,1188.0 1064.5,1221.2 1065.0,1244.9 1065.5,1261.1 1066.0,1277.4 1066.5,1280.2 1067.0,1282.0 1067.5,1281.6 1068.0,1281.2 1068.5,1280.9 1069.0,1280.5 1069.5,1280.1 1070.0,1279.7 1070.5,1279.4 1071.0,1279.0 1071.5,1278.6 1072.0,1278.2 1072.5,1272.8 1073.0,1266.8 1073.5,1263.8 1074.0,1262.1 1074.5,1261.5 1075.0,1262.5 1075.5,1263.5 1076.0,1264.5 1076.5,1265.5 1077.0,1265.8 1077.5,1266.1 1078.0,1266.5 1078.5,1266.8 1079.0,1267.1 1079.5,1267.5 1080.0,1267.9 1080.5,1268.4 1081.0,1268.9 1081.5,1269.4 1082.0,1271.6 1082.5,1287.2 1083.0,1313.2 1083.5,1316.7 1084.0,1320.2 1084.5,1322.1 1085.0,1322.7 1085.5,1323.3 1086.0,1323.9 1086.5,1324.5 1087.0,1325.1 1087.5,1316.7 1088.0,1246.7 1088.5,1236.0 1089.0,1235.4 1089.5,1234.8 1090.0,1234.1 1090.5,1227.1 1091.0,1218.1 1091.5,1214.4 1092.0,1214.2 1092.5,1214.1 1093.0,1176.1 1093.5,1125.5 1094.0,1125.3 1094.5,1125.1 1095.0,1124.9 1095.5,1124.7 1096.0,1120.7 1096.5,1047.2 1097.0,974.7 1097.5,939.2 1098.0,908.7 1098.5,777.9 1099.0,706.8 1099.5,676.5 1100.0,646.1 1100.5,624.0 1101.0,604.0 1101.5,323.0 1102.0,323.0 1102.5,323.0 1103.0,323.0 1103.5,323.0 1104.0,323.0 1104.5,323.0 1105.0,348.0 1105.5,348.0 1106.0,348.0 1106.5,1281.7 1107.0,1281.7 1107.5,1281.7 1108.0,1281.7 1108.5,1281.7 1109.0,1281.7 1109.5,1281.7 1110.0,1281.7 1110.5,1281.7 1111.0,1281.7 1111.5,1281.7 1112.0,1276.4 1112.5,1262.6 1113.0,1224.6 1113.5,1191.5 1114.0,1191.0 1114.5,1190.5 1115.0,1190.0 1115.5,1189.0 1116.0,1154.9 1116.5,1137.9 1117.0,1127.9 1117.5,1117.9 1118.0,1110.6 1118.5,1104.6 1119.0,1076.5 1119.5,1037.1 1120.0,1037.1 1120.5,1037.1 1121.0,1037.1 1121.5,1037.1 1122.0,1053.4 1122.5,1076.1 1123.0,1101.8 1123.5,1146.6 1124.0,1190.5 1124.5,1189.9 1125.0,1127.3 1125.5,1040.9 1126.0,1040.8 1126.5,1040.7 1127.0,1038.3 1127.5,964.7 1128.0,955.5 1128.5,954.2 1129.0,954.2 1129.5,954.2 1130.0,954.2 1130.5,954.2 1131.0,1004.8 1131.5,1103.8 1132.0,1159.0 1132.5,1161.0 1133.0,1163.0 1133.5,1165.0 1134.0,1165.3 1134.5,1165.6 1135.0,1165.9 1135.5,1166.2 1136.0,1168.3 1136.5,1171.3 1137.0,1174.3 1137.5,1194.6 1138.0,1214.5 1138.5,1214.7 1139.0,1215.0 1139.5,1215.2 1140.0,1215.4 1140.5,1217.3 1141.0,1230.3 1141.5,1243.3 1142.0,1247.5 1142.5,1251.5 1143.0,1255.4 1143.5,1258.8 1144.0,1262.1 1144.5,1265.4 1145.0,1268.7 1145.5,1268.7 1146.0,1268.7 1146.5,1268.7 1147.0,1226.4 1147.5,1199.3 1148.0,1199.3 1148.5,1199.3 1149.0,1199.3 1149.5,1199.3 1150.0,1199.3 1150.5,1202.8 1151.0,1225.3 1151.5,1229.5 1152.0,1230.5 1152.5,1231.6 1153.0,1232.6 1153.5,1233.6 1154.0,1215.6 1154.5,1197.1 1155.0,1197.1 1155.5,1197.1 1156.0,1197.1 1156.5,1197.1 1157.0,1197.1 1157.5,1197.1 1158.0,1264.5 1158.5,1297.4 1159.0,1297.4 1159.5,1297.4 1160.0,1277.2 1160.5,1197.7 1161.0,1179.3 1161.5,1179.3 1162.0,1179.3 1162.5,1185.4 1163.0,1205.7 1163.5,1223.3 1164.0,1236.0 1164.5,1235.5 1165.0,1234.0 1165.5,1222.3 1166.0,1178.3 1166.5,1145.7 1167.0,1133.9 1167.5,1131.0 1168.0,1131.0 1168.5,1131.0 1169.0,1131.0 1169.5,1131.0 1170.0,1144.1 1170.5,1157.7 1171.0,1171.5 1171.5,1185.0 1172.0,1198.5 1172.5,1239.8 1173.0,1284.0 1173.5,1284.0 1174.0,1284.0 1174.5,1284.0 1175.0,1284.0 1175.5,1284.0 1176.0,1282.2 1176.5,1278.3 1177.0,1274.5 1177.5,1270.6 1178.0,1268.7 1178.5,1268.7 1179.0,1268.7 1179.5,1268.7 1180.0,1268.7 1180.5,1268.7 1181.0,1230.8 1181.5,1192.3 1182.0,1192.3 1182.5,1192.3 1183.0,1192.3 1183.5,1192.3 1184.0,1224.4 1184.5,1227.5 1185.0,1227.5 1185.5,1227.5 1186.0,1227.5 1186.5,1228.3 1187.0,1229.7 1187.5,1231.2 1188.0,1232.4 1188.5,1233.4 1189.0,1216.5 1189.5,1174.0 1190.0,1170.1 1190.5,1166.2 1191.0,1161.1 1191.5,1131.1 1192.0,1085.0 1192.5,1047.3 1193.0,1027.3 1193.5,1014.8 1194.0,1005.5 1194.5,997.1 1195.0,996.7 1195.5,996.3 1196.0,995.9 1196.5,996.3 1197.0,996.6 1197.5,997.0 1198.0,1103.0 1198.5,1150.5 1199.0,1150.5 1199.5,1150.5 1200.0,1150.5 1200.5,1150.5 1201.0,1150.5 1201.5,1160.4 1202.0,1204.6 1202.5,1225.9 1203.0,1241.4 1203.5,1240.6 1204.0,1155.0 1204.5,1115.1 1205.0,1114.9 1205.5,1114.8 1206.0,1111.0 1206.5,1106.0 1207.0,1106.0 1207.5,1106.0 1208.0,1106.0 1208.5,1106.0 1209.0,1116.2 1209.5,1131.3 1210.0,1142.6 1210.5,1164.5 1211.0,1188.0 1211.5,1203.4 1212.0,1215.4 1212.5,1221.4 1213.0,1208.9 1213.5,1153.4 1214.0,1149.7 1214.5,1149.5 1215.0,1132.9 1215.5,1084.8 1216.0,1084.6 1216.5,1084.4 1217.0,1084.2 1217.5,1084.0 1218.0,1084.2 1218.5,1084.6 1219.0,1002.8 1219.5,949.4 1220.0,949.4 1220.5,949.4 1221.0,949.4 1221.5,949.4 1222.0,949.4 1222.5,949.4 1223.0,1105.9 1223.5,1139.0 1224.0,1139.6 1224.5,1140.2 1225.0,1154.8 1225.5,1192.1 1226.0,1236.1 1226.5,1235.9 1227.0,1235.7 1227.5,1235.5 1228.0,1235.3 1228.5,1235.1 1229.0,1236.1 1229.5,1237.1 1230.0,1240.2 1230.5,1243.7 1231.0,1254.3 1231.5,1263.1 1232.0,1262.8 1232.5,1262.4 1233.0,1262.3 1233.5,1262.7 1234.0,1263.0 1234.5,1267.5 1235.0,1281.9 1235.5,1293.5 1236.0,1296.0 1236.5,1298.5 1237.0,1301.0 1237.5,1302.7 1238.0,1303.1 1238.5,1303.5 1239.0,1300.6 1239.5,1236.5 1240.0,1229.2 1240.5,1229.2 1241.0,1229.2 1241.5,1229.2 1242.0,1229.2 1242.5,1229.2 1243.0,1233.6 1243.5,1249.6 1244.0,1275.8 1244.5,1281.7 1245.0,1281.7 1245.5,1275.6 1246.0,1251.0 1246.5,1250.0 1247.0,1247.0 1247.5,1231.1 1248.0,1218.9 1248.5,1207.4 1249.0,1190.7 1249.5,1171.3 1250.0,1139.7 1250.5,1127.5 1251.0,1127.1 1251.5,1126.8 1252.0,1126.8 1252.5,1127.1 1253.0,1127.4 1253.5,1140.9 1254.0,1221.1 1254.5,1230.1 1255.0,1239.1 1255.5,1242.5 1256.0,1242.8 1256.5,1243.2 1257.0,1243.5 1257.5,1254.0 1258.0,1276.7 1258.5,1285.2 1259.0,1290.8 1259.5,1290.3 1260.0,1289.7 1260.5,1289.1 1261.0,1288.5 1261.5,1288.9 1262.0,1289.4 1262.5,1292.4 1263.0,1298.1 1263.5,1292.1 1264.0,1286.1 1264.5,1282.3 1265.0,1280.5 1265.5,1278.7 1266.0,1276.8 1266.5,1276.3 1267.0,1276.3 1267.5,1276.3 1268.0,1276.3 1268.5,1276.3 1269.0,1270.9 1269.5,1264.2 1270.0,1233.6 1270.5,1197.1 1271.0,1197.1 1271.5,1197.1 1272.0,1197.1 1272.5,1197.1 1273.0,1197.1 1273.5,1199.1 1274.0,1208.3 1274.5,1212.7 1275.0,1216.7 1275.5,1217.9 1276.0,1218.0 1276.5,1218.2 1277.0,1179.0 1277.5,1093.7 1278.0,1085.9 1278.5,1079.9 1279.0,1079.6 1279.5,1079.2 1280.0,1073.8 1280.5,1049.3 1281.0,944.5 1281.5,892.0 1282.0,892.0 1282.5,892.0 1283.0,892.0 1283.5,892.0 1284.0,892.0 1284.5,1090.4 1285.0,1090.4 1285.5,1090.4 1286.0,1090.4 1286.5,1090.4 1287.0,1130.5 1287.5,1136.1 1288.0,1136.3 1288.5,1136.5 1289.0,1136.7 1289.5,1154.3 1290.0,1177.4 1290.5,1176.8 1291.0,1143.0 1291.5,1089.8 1292.0,1075.0 1292.5,1060.9 1293.0,1060.9 1293.5,1060.9 1294.0,1060.9 1294.5,1060.9 1295.0,1060.9 1295.5,1060.9 1296.0,1006.1 1296.5,973.3 1297.0,972.6 1297.5,972.2 1298.0,974.2 1298.5,976.2 1299.0,980.8 1299.5,1050.0 1300.0,1078.4 1300.5,1092.4 1301.0,1112.3 1301.5,1136.7 1302.0,1153.2 1302.5,1168.0 1303.0,1180.5 1303.5,1188.6 1304.0,1189.1 1304.5,1178.9 1305.0,1124.8 1305.5,1118.7 1306.0,1118.4 1306.5,1118.0 1307.0,1118.1 1307.5,1118.2 1308.0,1118.4 1308.5,1118.5 1309.0,1119.0 1309.5,1119.7 1310.0,1120.5 1310.5,1122.9 1311.0,1156.2 1311.5,1183.8 1312.0,1209.1 1312.5,1211.6 1313.0,1214.1 1313.5,1220.8 1314.0,1228.3 1314.5,1229.7 1315.0,1228.1 1315.5,1226.5 1316.0,1223.9 1316.5,1217.4 1317.0,1210.8 1317.5,1205.0 1318.0,1202.8 1318.5,1200.7 1319.0,1198.9 1319.5,1199.2 1320.0,1199.6 1320.5,1207.2 1321.0,1221.4 1321.5,1224.6 1322.0,1225.0 1322.5,1228.7 1323.0,1246.2 1323.5,1251.4 1324.0,1242.0 1324.5,1192.0 1325.0,1126.6 1325.5,1125.7 1326.0,1125.5 1326.5,1125.2 1327.0,1125.2 1327.5,1125.5 1328.0,1125.7 1328.5,1126.7 1329.0,1141.5 1329.5,1163.9 1330.0,1202.5 1330.5,1197.1 1331.0,1191.7 1331.5,1186.4 1332.0,1186.0 1332.5,1185.7 1333.0,1185.3 1333.5,1178.8 1334.0,1166.3 1334.5,1143.2 1335.0,1117.9 1335.5,1117.6 1336.0,1117.3 1336.5,1117.0 1337.0,1117.1 1337.5,1117.4 1338.0,1117.7 1338.5,1121.2 1339.0,1154.5 1339.5,1161.3 1340.0,1161.3 1340.5,1161.3 1341.0,1176.5 1341.5,1206.7 1342.0,1249.0 1342.5,1289.0 1343.0,1313.5 1343.5,1317.2 1344.0,1317.0 1344.5,1316.8 1345.0,1316.7 1345.5,1309.4 1346.0,1302.2 1346.5,1298.0 1347.0,1297.7 1347.5,1297.5 1348.0,1263.5 1348.5,1230.0 1349.0,1229.8 1349.5,1229.5 1350.0,1228.8 1350.5,1224.8 1351.0,1220.8 1351.5,1220.5 1352.0,1220.5 1352.5,1220.5 1353.0,1220.5 1353.5,1220.5 1354.0,1241.6 1354.5,1258.1 1355.0,1258.6 1355.5,1263.1 1356.0,1279.0 1356.5,1294.9 1357.0,1292.5 1357.5,1288.5 1358.0,1283.8 1358.5,1276.8 1359.0,1258.9 1359.5,1240.9 1360.0,1233.6 1360.5,1233.6 1361.0,1233.6 1361.5,1233.6 1362.0,1233.6 1362.5,1238.8 1363.0,1251.0 1363.5,1247.0 1364.0,1243.0 1364.5,1242.2 1365.0,1241.7 1365.5,1241.2 1366.0,1240.9 1366.5,1240.7 1367.0,1240.6 1367.5,1240.3 1368.0,1239.8 1368.5,1228.5 1369.0,1183.0 1369.5,1180.2 1370.0,1180.2 1370.5,1180.2 1371.0,1180.2 1371.5,1180.2 1372.0,1180.2 1372.5,1193.9 1373.0,1225.5 1373.5,1239.0 1374.0,1244.6 1374.5,1239.4 1375.0,1234.4 1375.5,1231.7 1376.0,1228.9 1376.5,1227.8 1377.0,1227.6 1377.5,1226.9 1378.0,1202.7 1378.5,1180.4 1379.0,1136.6 1379.5,1103.2 1380.0,1102.8 1380.5,1102.5 1381.0,1102.2 1381.5,1102.6 1382.0,1103.0 1382.5,1104.2 1383.0,1120.9 1383.5,1125.3 1384.0,1125.5 1384.5,1125.7 1385.0,1125.9 1385.5,1146.3 1386.0,1196.1 1386.5,1213.3 1387.0,1214.8 1387.5,1218.2 1388.0,1246.0 1388.5,1273.0 1389.0,1288.5 1389.5,1290.7 1390.0,1289.4 1390.5,1288.4 1391.0,1288.3 1391.5,1288.1 1392.0,1287.9 1392.5,1283.2 1393.0,1272.2 1393.5,1269.4 1394.0,1266.7 1394.5,1252.9 1395.0,1237.2 1395.5,1237.0 1396.0,1236.8 1396.5,1236.6 1397.0,1223.2 1397.5,1216.2 1398.0,1216.2 1398.5,1216.2 1399.0,1216.2 1399.5,1218.0 1400.0,1220.7 1400.5,1210.7 1401.0,1199.4 1401.5,1184.7 1402.0,1162.2 1402.5,1152.5 1403.0,1152.3 1403.5,1152.1 1404.0,1147.1 1404.5,1140.1 1405.0,1140.1 1405.5,1140.1 1406.0,1140.1 1406.5,1140.1 1407.0,1170.7 1407.5,1223.0 1408.0,1208.8 1408.5,1197.4 1409.0,1186.4 1409.5,1183.0 1410.0,1183.0 1410.5,1183.0 1411.0,1183.0 1411.5,1183.0 1412.0,1183.0 1412.5,1183.0 1413.0,1188.6 1413.5,1205.4 1414.0,1205.6 1414.5,1205.9 1415.0,1206.2 1415.5,1208.0 1416.0,1209.8 1416.5,1265.3 1417.0,1267.9 1417.5,1267.1 1418.0,1159.7 1418.5,999.1 1419.0,991.2 1419.5,962.2 1420.0,962.2 1420.5,962.2 1421.0,962.2 1421.5,962.2 1422.0,1030.1 1422.5,1071.3 1423.0,1071.3 1423.5,1071.3 1424.0,1071.3 1424.5,1071.3 1425.0,1123.1 1425.5,1216.8 1426.0,1224.3 1426.5,1231.8 1427.0,1232.8 1427.5,1233.8 1428.0,1286.6 1428.5,1312.8 1429.0,1312.8 1429.5,1312.8 1430.0,1312.8 1430.5,1312.8 1431.0,1312.8 1431.5,1312.8 1432.0,1312.8 1432.5,1312.8 1433.0,1312.5 1433.5,1312.0 1434.0,1310.7 1434.5,1293.7 1435.0,1286.1 1435.5,1281.3 1436.0,1269.3 1436.5,1244.5 1437.0,1237.0 1437.5,1231.8 1438.0,1231.5 1438.5,1231.3 1439.0,1231.1 1439.5,1230.9 1440.0,1230.7 1440.5,1230.7 1441.0,1230.7 1441.5,1162.8 1442.0,1162.6 1442.5,1162.3 1443.0,1162.1 1443.5,1162.0 1444.0,1162.0 1444.5,1162.0 1445.0,1162.0 1445.5,1162.0 1446.0,1162.0 1446.5,1162.0 1447.0,1239.6 1447.5,1268.6 1448.0,1260.8 1448.5,1257.8 1449.0,1257.8 1449.5,1257.8 1450.0,1257.8 1450.5,1257.8 1451.0,1257.8 1451.5,1257.8 1452.0,1265.5 1452.5,1283.7 1453.0,1281.2 1453.5,1273.2 1454.0,1254.3 1454.5,1236.2 1455.0,1236.2 1455.5,1236.2 1456.0,1236.2 1456.5,1236.2 1457.0,1236.2 1457.5,1235.3 1458.0,1233.3 1458.5,1230.6 1459.0,1225.6 1459.5,1220.6 1460.0,1214.7 1460.5,1205.0 1461.0,1204.0 1461.5,1203.9 1462.0,1203.8 1462.5,1203.7 1463.0,1201.4 1463.5,1197.4 1464.0,1192.0 1464.5,1184.8 1465.0,1180.3 1465.5,1175.8 1466.0,1174.9 1466.5,1174.5 1467.0,1175.0 1467.5,1175.6 1468.0,1175.6 1468.5,1175.1 1469.0,1164.7 1469.5,1158.2 1470.0,1156.5 1470.5,1155.4 1471.0,1155.2 1471.5,1155.0 1472.0,1154.8 1472.5,1125.7 1473.0,1105.1 1473.5,1090.8 1474.0,1090.8 1474.5,1090.7 1475.0,1090.6 1475.5,1090.5 1476.0,1090.5 1476.5,1083.1 1477.0,1051.8 1477.5,1029.9 1478.0,1017.4 1478.5,1014.4 1479.0,1014.2 1479.5,1014.0 1480.0,1014.0 1480.5,1014.7 1481.0,1015.3 1481.5,1015.9 1482.0,1104.8 1482.5,1124.3 1483.0,1136.9 1483.5,1139.0 1484.0,1141.2 1484.5,1142.9 1485.0,1143.0 1485.5,1143.1 1486.0,1143.2 1486.5,1143.3 1487.0,1184.7 1487.5,1241.3 1488.0,1262.5 1488.5,1267.5 1489.0,1264.0 1489.5,1217.1 1490.0,1217.1 1490.5,1217.1 1491.0,1217.1 1491.5,1217.1 1492.0,1217.1 1492.5,1217.8 1493.0,1223.2 1493.5,1226.5 1494.0,1226.7 1494.5,1227.0 1495.0,1223.4 1495.5,1219.2 1496.0,1219.2 1496.5,1219.2 1497.0,1219.2 1497.5,1219.2 1498.0,1219.2 1498.5,1219.2 1499.0,1242.0 1499.5,1287.4 1500.0,1297.4 1500.5,1298.4 1501.0,1299.4 1501.5,1299.1 1502.0,1296.9 1502.5,1296.2 1503.0,1296.3 1503.5,1296.4 1504.0,1296.5 1504.5,1296.7 1505.0,1296.8 1505.5,1299.7 1506.0,1303.6 1506.5,1296.2 1507.0,1288.0 1507.5,1286.0 1508.0,1284.7 1508.5,1283.3 1509.0,1281.8 1509.5,1276.3 1510.0,1270.8 1510.5,1268.2 1511.0,1268.6 1511.5,1223.7 1512.0,1221.6 1512.5,1221.1 1513.0,1220.6 1513.5,1221.1 1514.0,1221.7 1514.5,1244.7 1515.0,1281.7 1515.5,1281.7 1516.0,1281.7 1516.5,1250.8 1517.0,1250.2 1517.5,1250.2 1518.0,1250.2 1518.5,1250.2 1519.0,1250.2 1519.5,1250.2 1520.0,1269.5 1520.5,1290.5 1521.0,1291.2 1521.5,1291.4 1522.0,1291.5 1522.5,1290.6 1523.0,1282.0 1523.5,1273.4 1524.0,1264.8 1524.5,1256.2 1525.0,1255.2 1525.5,1254.7 1526.0,1254.2 1526.5,1254.4 1527.0,1255.3 1527.5,1256.2 1528.0,1253.6 1528.5,1247.4 1529.0,1247.4 1529.5,1247.4 1530.0,1247.4 1530.5,1247.4 1531.0,1247.4 1531.5,1249.1 1532.0,1275.4 1532.5,1281.7 1533.0,1281.7 1533.5,1265.4 1534.0,1256.0 1534.5,1253.5 1535.0,1250.5 1535.5,1243.6 1536.0,1237.6 1536.5,1233.0 1537.0,1231.4 1537.5,1231.4 1538.0,1231.4 1538.5,1231.4 1539.0,1231.4 1539.5,1231.4 1540.0,1233.3 1540.5,1240.0 1541.0,1255.4 1541.5,1256.5 1542.0,1257.3 1542.5,1260.7 1543.0,1268.2 1543.5,1271.1 1544.0,1271.5 1544.5,1272.2 1545.0,1279.7 1545.5,1287.1 1546.0,1294.5 1546.5,1298.7 1547.0,1298.7 1547.5,1298.7 1548.0,1298.7 1548.5,1298.7 1549.0,1280.6 1549.5,1264.3 1550.0,1264.3 1550.5,1264.3 1551.0,1264.3 1551.5,1264.3 1552.0,1265.1 1552.5,1266.1 1553.0,1258.9 1553.5,1245.1 1554.0,1233.9 1554.5,1214.9 1555.0,1131.6 1555.5,1131.4 1556.0,1131.3 1556.5,1131.1 1557.0,1131.0 1557.5,1131.7 1558.0,1132.5 1558.5,1144.0 1559.0,1167.0 1559.5,1167.8 1560.0,1168.5 1560.5,1169.5 1561.0,1171.0 1561.5,1172.1 1562.0,1171.8 1562.5,1171.5 1563.0,1171.2 1563.5,1171.7 1564.0,1172.6 1564.5,1173.4 1565.0,1175.0 1565.5,1176.8 1566.0,1177.8 1566.5,1178.1 1567.0,1178.4 1567.5,1179.9 1568.0,1196.1 1568.5,1196.6 1569.0,1197.4 1569.5,1208.9 1570.0,1220.4 1570.5,1222.3 1571.0,1222.6 1571.5,1222.9 1572.0,1242.5 1572.5,1266.5 1573.0,1266.5 1573.5,1263.6 1574.0,1254.4 1574.5,1233.3 1575.0,1233.3 1575.5,1233.3 1576.0,1233.3 1576.5,1233.3 1577.0,1233.3 1577.5,1233.6 1578.0,1233.8 1578.5,1234.0 1579.0,1234.0 1579.5,1234.0 1580.0,1234.0 1580.5,1234.0 1581.0,1233.4 1581.5,1230.1 1582.0,1177.8 1582.5,1151.8 1583.0,1151.5 1583.5,1151.2 1584.0,1151.1 1584.5,1151.1 1585.0,1151.1 1585.5,1153.5 1586.0,1184.1 1586.5,1184.2 1587.0,1184.2 1587.5,1184.2 1588.0,1184.3 1588.5,1184.3 1589.0,1184.4 1589.5,1184.4 1590.0,1184.4 1590.5,1184.5 1591.0,1184.5 1591.5,1209.3 1592.0,1246.2 1592.5,1246.8 1593.0,1273.7 1593.5,1298.0 1594.0,1314.3 1594.5,1322.1 1595.0,1322.6 1595.5,1323.1 1596.0,1325.5 1596.5,1328.0 1597.0,1312.4 1597.5,1297.4 1598.0,1297.0 1598.5,1296.5 1599.0,1288.8 1599.5,1185.1 1600.0,1184.8 1600.5,1184.5 1601.0,1184.5 1601.5,1184.5 1602.0,1184.5 1602.5,1184.5 1603.0,1212.0 1603.5,1214.9 1604.0,1215.3 1604.5,1226.1 1605.0,1279.3 1605.5,1281.2 1606.0,1281.4 1606.5,1281.6 1607.0,1281.8 1607.5,1281.9 1608.0,1305.5 1608.5,1349.6 1609.0,1350.4 1609.5,1351.2 1610.0,1352.0 1610.5,1352.8 1611.0,1341.0 1611.5,1317.8 1612.0,1309.8 1612.5,1308.8 1613.0,1308.6 1613.5,1308.4 1614.0,1193.2 1614.5,1148.2 1615.0,1148.0 1615.5,1147.8 1616.0,1147.6 1616.5,1147.4 1617.0,1149.6 1617.5,1166.3 1618.0,1168.9 1618.5,1148.7 1619.0,957.9 1619.5,907.9 1620.0,755.6 1620.5,488.4 1621.0,372.2 1621.5,357.6 1622.0,343.0 1622.5,121.0 1623.0,121.0 1623.5,121.0 1624.0,121.0 1624.5,121.0 1625.0,121.0 1625.5,121.0 1626.0,121.0 1626.5,1043.3 1627.0,1043.7 1627.5,1044.0 1628.0,1122.7 1628.5,1192.4 1629.0,1189.9 1629.5,1188.3 1630.0,1187.8 1630.5,1187.4 1631.0,1187.9 1631.5,1188.7 1632.0,1189.4 1632.5,1205.1 1633.0,1215.5 1633.5,1215.5 1634.0,1215.5 1634.5,1212.7 1635.0,1206.2 1635.5,1199.5 1636.0,1192.5 1636.5,1183.4 1637.0,1155.9 1637.5,1140.4 1638.0,1127.5 1638.5,1109.2 1639.0,1090.9 1639.5,1070.6 1640.0,1048.1 1640.5,982.2 1641.0,900.3 1641.5,869.4 1642.0,792.5 1642.5,792.5 1643.0,792.5 1643.5,792.5 1644.0,792.5 1644.5,792.5 1645.0,792.5 1645.5,792.5 1646.0,972.1 1646.5,1025.6 1647.0,988.9 1647.5,983.3 1648.0,983.0 1648.5,982.9 1649.0,983.2 1649.5,983.5 1650.0,983.8 1650.5,984.1 1651.0,1204.1 1651.5,1214.1 1652.0,1224.1 1652.5,1231.4 1653.0,1238.4 1653.5,1252.7 1654.0,1269.5 1654.5,1275.3 1655.0,1281.0 1655.5,1284.3 1656.0,1284.9 1656.5,1285.5 1657.0,1286.2 1657.5,1286.8 1658.0,1284.1 1658.5,1275.3 1659.0,1269.1 1659.5,1268.8 1660.0,1262.3 1660.5,1253.2 1661.0,1244.8 1661.5,1244.4 1662.0,1244.1 1662.5,1243.7 1663.0,1243.4 1663.5,1243.0 1664.0,1242.5 1664.5,1232.5 1665.0,1222.5 1665.5,1213.2 1666.0,1205.1 1666.5,1119.5 1667.0,1096.8 1667.5,1096.6 1668.0,1096.4 1668.5,1086.1 1669.0,1056.4 1669.5,1044.9 1670.0,1044.9 1670.5,1044.9 1671.0,1044.9 1671.5,1044.9 1672.0,1018.3 1672.5,987.5 1673.0,986.9 1673.5,986.2 1674.0,985.7 1674.5,985.5 1675.0,985.4 1675.5,985.2 1676.0,985.1 1676.5,988.5 1677.0,993.2 1677.5,939.8 1678.0,838.1 1678.5,835.7 1679.0,833.3 1679.5,831.0 1680.0,805.7 1680.5,805.7 1681.0,805.7 1681.5,805.7 1682.0,805.7 1682.5,805.7 1683.0,805.7 1683.5,805.7 1684.0,1052.1 1684.5,1052.6 1685.0,1074.1 1685.5,1107.5 1686.0,1119.7 1686.5,1154.9 1687.0,1230.7 1687.5,1231.1 1688.0,1231.5 1688.5,1231.9 1689.0,1248.6 1689.5,1248.7 1690.0,1241.8 1690.5,1222.2 1691.0,1202.2 1691.5,1189.4 1692.0,1178.4 1692.5,1174.1 1693.0,1173.8 1693.5,1173.5 1694.0,1173.3 1694.5,1173.7 1695.0,1174.0 1695.5,1178.5 1696.0,1211.9 1696.5,1217.8 1697.0,1218.0 1697.5,1218.1 1698.0,1218.3 1698.5,1228.2 1699.0,1248.5 1699.5,1251.9 1700.0,1249.9 1700.5,1248.0 1701.0,1247.7 1701.5,1247.4 1702.0,1247.1 1702.5,1247.1 1703.0,1247.2 1703.5,1247.4 1704.0,1253.7 1704.5,1274.3 1705.0,1316.1 1705.5,1328.3 1706.0,1330.1 1706.5,1332.0 1707.0,1333.8 1707.5,1335.7 1708.0,1331.4 1708.5,1326.3 1709.0,1321.2 1709.5,1316.0 1710.0,1302.5 1710.5,1264.6 1711.0,1252.2 1711.5,1247.7 1712.0,1235.7 1712.5,1223.6 1713.0,1223.5 1713.5,1223.4 1714.0,1223.4 1714.5,1223.3 1715.0,1223.2 1715.5,1223.2 1716.0,1240.2 1716.5,1250.8 1717.0,1249.8 1717.5,1249.2 1718.0,1249.3 1718.5,1249.4 1719.0,1249.4 1719.5,1249.5 1720.0,1250.1 1720.5,1254.9 1721.0,1259.7 1721.5,1266.5 1722.0,1273.3 1722.5,1277.6 1723.0,1277.8 1723.5,1278.0 1724.0,1278.1 1724.5,1276.5 1725.0,1273.2 1725.5,1270.0 1726.0,1269.3 1726.5,1268.7 1727.0,1268.7 1727.5,1268.7 1728.0,1268.7 1728.5,1268.7 1729.0,1258.7 1729.5,1244.8 1730.0,1204.1 1730.5,1175.0 1731.0,1173.4 1731.5,1171.8 1732.0,1170.6 1732.5,1170.5 1733.0,1170.4 1733.5,1170.3 1734.0,1177.6 1734.5,1187.0 1735.0,1204.2 1735.5,1226.2 1736.0,1238.0 1736.5,1237.4 1737.0,1198.3 1737.5,1166.3 1738.0,1166.3 1738.5,1166.3 1739.0,1166.3 1739.5,1166.3 1740.0,1166.3 1740.5,1166.3 1741.0,1165.8 1741.5,1165.2 1742.0,1165.0 1742.5,1165.0 1743.0,1165.0 1743.5,1165.0 1744.0,1189.3 1744.5,1244.8 1745.0,1255.3 1745.5,1265.8 1746.0,1267.7 1746.5,1255.6 1747.0,1189.0 1747.5,1172.5 1748.0,1162.0 1748.5,1111.5 1749.0,1045.9 1749.5,1045.2 1750.0,1045.1 1750.5,1044.9 1751.0,1045.0 1751.5,1045.3 1752.0,1045.5 1752.5,1047.8 1753.0,1089.2 1753.5,1099.8 1754.0,1100.1 1754.5,1100.5 1755.0,1123.4 1755.5,1155.4 1756.0,1183.1 1756.5,1207.1 1757.0,1222.1 1757.5,1222.1 1758.0,1222.1 1758.5,1222.1 1759.0,1222.1 1759.5,1223.0 1760.0,1228.6 1760.5,1232.2 1761.0,1233.0 1761.5,1233.8 1762.0,1254.8 1762.5,1266.7 1763.0,1267.1 1763.5,1267.4 1764.0,1264.4 1764.5,1257.9 1765.0,1245.9 1765.5,1223.1 1766.0,1222.8 1766.5,1222.5 1767.0,1222.2 1767.5,1208.8 1768.0,1201.5 1768.5,1201.5 1769.0,1201.5 1769.5,1201.5 1770.0,1201.5 1770.5,1202.1 1771.0,1215.8 1771.5,1219.4 1772.0,1219.5 1772.5,1219.7 1773.0,1219.9 1773.5,1220.2 1774.0,1220.5 1774.5,1220.9 1775.0,1223.0 1775.5,1225.5 1776.0,1226.8 1776.5,1227.4 1777.0,1228.0 1777.5,1228.6 1778.0,1228.9 1778.5,1229.1 1779.0,1229.4 1779.5,1229.6 1780.0,1230.1 1780.5,1230.6 1781.0,1237.0 1781.5,1246.5 1782.0,1251.1 1782.5,1250.6 1783.0,1245.9 1783.5,1232.9 1784.0,1232.9 1784.5,1232.9 1785.0,1232.9 1785.5,1232.9 1786.0,1232.9 1786.5,1251.1 1787.0,1273.3 1787.5,1281.4 1788.0,1287.9 1788.5,1294.3 1789.0,1281.5 1789.5,1269.7 1790.0,1269.5 1790.5,1269.4 1791.0,1269.2 1791.5,1269.0 1792.0,1268.9 1792.5,1268.7 1793.0,1288.7 1793.5,1311.6 1794.0,1312.1 1794.5,1312.6 1795.0,1312.7 1795.5,1312.6 1796.0,1312.4 1796.5,1312.2 1797.0,1309.4 1797.5,1305.1 1798.0,1300.9 1798.5,1297.4 1799.0,1293.9 1799.5,1249.4 1800.0,1169.5 1800.5,1104.7 1801.0,1103.7 1801.5,1102.6 1802.0,1101.9 1802.5,1101.5 1803.0,1101.4 1803.5,1101.9 1804.0,1102.3 1804.5,1102.8 1805.0,1183.0 1805.5,1182.6 1806.0,1182.2 1806.5,1172.3 1807.0,1164.6 1807.5,1164.6 1808.0,1164.6 1808.5,1164.6 1809.0,1164.6 1809.5,1185.1 1810.0,1229.6 1810.5,1229.1 1811.0,1228.6 1811.5,1220.6 1812.0,1212.1 1812.5,1209.0 1813.0,1207.6 1813.5,1206.2 1814.0,1205.8 1814.5,1205.8 1815.0,1205.8 1815.5,1205.8 1816.0,1215.5 1816.5,1239.8 1817.0,1255.9 1817.5,1267.8 1818.0,1275.8 1818.5,1276.1 1819.0,1276.3 1819.5,1276.5 1820.0,1276.7 1820.5,1281.3 1821.0,1300.3 1821.5,1300.3 1822.0,1295.8 1822.5,1289.5 1823.0,1283.1 1823.5,1276.8 1824.0,1271.9 1824.5,1267.4 1825.0,1262.9 1825.5,1258.4 1826.0,1257.6 1826.5,1257.3 1827.0,1256.9 1827.5,1239.0 1828.0,1198.8 1828.5,1183.8 1829.0,1173.8 1829.5,1172.2 1830.0,1170.6 1830.5,1169.1 1831.0,1168.2 1831.5,1167.4 1832.0,1167.6 1832.5,1168.2 1833.0,1168.7 1833.5,1192.8 1834.0,1213.4 1834.5,1213.5 1835.0,1213.7 1835.5,1213.8 1836.0,1213.9 1836.5,1214.0 1837.0,1229.4 1837.5,1249.7 1838.0,1274.7 1838.5,1281.7 1839.0,1281.7 1839.5,1281.7 1840.0,1275.4 1840.5,1240.2 1841.0,1192.7 1841.5,1192.2 1842.0,1191.6 1842.5,1191.0 1843.0,1190.9 1843.5,1190.8 1844.0,1190.5 1844.5,1175.5 1845.0,1170.7 1845.5,1170.2 1846.0,1170.2 1846.5,1170.5 1847.0,1170.8 1847.5,1172.6 1848.0,1194.3 1848.5,1199.2 1849.0,1199.1 1849.5,1199.0 1850.0,1198.9 1850.5,1208.1 1851.0,1218.8 1851.5,1229.4 1852.0,1239.9 1852.5,1256.0 1853.0,1275.5 1853.5,1280.8 1854.0,1286.0 1854.5,1289.6 1855.0,1291.8 1855.5,1294.0 1856.0,1296.1 1856.5,1296.9 1857.0,1297.0 1857.5,1297.1 1858.0,1297.3 1858.5,1297.4 1859.0,1300.5 1859.5,1304.5 1860.0,1304.6 1860.5,1304.7 1861.0,1304.8 1861.5,1304.9 1862.0,1305.0 1862.5,1305.1 1863.0,1305.0 1863.5,1304.8 1864.0,1304.6 1864.5,1303.4 1865.0,1256.4 1865.5,1243.9 1866.0,1227.3 1866.5,1210.0 1867.0,1209.7 1867.5,1209.3 1868.0,1209.1 1868.5,1209.4 1869.0,1209.8 1869.5,1210.1 1870.0,1253.6 1870.5,1255.3 1871.0,1266.9 1871.5,1283.3 1872.0,1295.2 1872.5,1299.3 1873.0,1299.2 1873.5,1299.0 1874.0,1298.9 1874.5,1298.8 1875.0,1286.2 1875.5,1266.9 1876.0,1266.7 1876.5,1266.4 1877.0,1266.2 1877.5,1266.4 1878.0,1266.9 1878.5,1267.4 1879.0,1260.5 1879.5,1252.3 1880.0,1251.8 1880.5,1251.3 1881.0,1251.0 1881.5,1251.2 1882.0,1251.5 1882.5,1251.7 1883.0,1227.4 1883.5,1200.4 1884.0,1176.6 1884.5,1153.8 1885.0,1126.0 1885.5,1092.0 1886.0,1055.1 1886.5,1011.6 1887.0,973.7 1887.5,973.5 1888.0,973.2 1888.5,973.0 1889.0,973.1 1889.5,973.4 1890.0,973.8 1890.5,974.1 1891.0,1089.7 1891.5,1173.1 1892.0,1172.9 1892.5,1172.6 1893.0,1172.4 1893.5,1172.2 1894.0,1172.4 1894.5,1172.6 1895.0,1172.8 1895.5,1179.9 1896.0,1190.7 1896.5,1193.2 1897.0,1194.9 1897.5,1199.5 1898.0,1210.8 1898.5,1203.4 1899.0,1182.1 1899.5,1178.2 1900.0,1177.6 1900.5,1177.2 1901.0,1177.3 1901.5,1177.4 1902.0,1177.5 1902.5,1177.6 1903.0,1179.6 1903.5,1181.5 1904.0,1181.7 1904.5,1181.9 1905.0,1187.5 1905.5,1203.3 1906.0,1235.3 1906.5,1264.5 1907.0,1266.5 1907.5,1268.5 1908.0,1269.1 1908.5,1269.6 1909.0,1280.0 1909.5,1288.3 1910.0,1283.3 1910.5,1278.3 1911.0,1276.2 1911.5,1275.2 1912.0,1250.5 1912.5,1152.5 1913.0,1152.1 1913.5,1151.6 1914.0,1151.2 1914.5,1151.6 1915.0,1152.1 1915.5,1152.6 1916.0,1153.4 1916.5,1154.2 1917.0,1177.6 1917.5,1227.3 1918.0,1226.9 1918.5,1226.5 1919.0,1220.1 1919.5,1212.7 1920.0,1212.6 1920.5,1212.5 1921.0,1212.4 1921.5,1212.3 1922.0,1180.9 1922.5,1156.3 1923.0,1156.1 1923.5,1156.0 1924.0,1156.0 1924.5,1156.3 1925.0,1156.5 1925.5,1156.8 1926.0,1163.3 1926.5,1273.3 1927.0,1277.9 1927.5,1284.1 1928.0,1289.7 1928.5,1289.7 1929.0,1289.7 1929.5,1289.7 1930.0,1289.7 1930.5,1244.0 1931.0,1221.7 1931.5,1204.0 1932.0,1203.8 1932.5,1203.6 1933.0,1203.4 1933.5,1203.2 1934.0,1200.7 1934.5,1197.9 1935.0,1194.3 1935.5,1190.3 1936.0,1188.4 1936.5,1188.2 1937.0,1188.1 1937.5,1188.2 1938.0,1188.7 1938.5,1189.1 1939.0,1191.7 1939.5,1253.0 1940.0,1252.3 1940.5,1251.6 1941.0,1244.3 1941.5,1231.8 1942.0,1229.6 1942.5,1229.5 1943.0,1229.4 1943.5,1229.4 1944.0,1229.3 1944.5,1234.2 1945.0,1261.2 1945.5,1264.7 1946.0,1265.0 1946.5,1265.4 1947.0,1276.0 1947.5,1276.2 1948.0,1266.2 1948.5,1249.6 1949.0,1222.1 1949.5,1200.3 1950.0,1200.1 1950.5,1199.9 1951.0,1199.8 1951.5,1200.2 1952.0,1200.5 1952.5,1200.9 1953.0,1235.3 1953.5,1264.3 1954.0,1264.3 1954.5,1264.3 1955.0,1264.3 1955.5,1264.8 1956.0,1265.8 1956.5,1268.1 1957.0,1272.8 1957.5,1277.0 1958.0,1277.5 1958.5,1278.0 1959.0,1278.5 1959.5,1282.1 1960.0,1293.6 1960.5,1305.3 1961.0,1317.5 1961.5,1319.6 1962.0,1310.2 1962.5,1310.1 1963.0,1310.0 1963.5,1309.9 1964.0,1309.8 1964.5,1309.7 1965.0,1309.6 1965.5,1308.7 1966.0,1307.4 1966.5,1304.3 1967.0,1292.6 1967.5,1280.8 1968.0,1274.6 1968.5,1271.9 1969.0,1269.2 1969.5,1267.1 1970.0,1266.5 1970.5,1262.2 1971.0,1257.9 1971.5,1253.6 1972.0,1253.2 1972.5,1252.8 1973.0,1252.4 1973.5,1236.1 1974.0,1229.6 1974.5,1229.5 1975.0,1229.4 1975.5,1229.3 1976.0,1198.5 1976.5,1138.0 1977.0,1137.6 1977.5,1137.2 1978.0,1136.8 1978.5,1137.1 1979.0,1137.5 1979.5,1137.8 1980.0,1138.1 1980.5,1138.5 1981.0,1184.8 1981.5,1220.2 1982.0,1223.2 1982.5,1226.2 1983.0,1229.6 1983.5,1232.9 1984.0,1233.6 1984.5,1232.9 1985.0,1229.6 1985.5,1226.1 1986.0,1225.2 1986.5,1225.1 1987.0,1225.0 1987.5,1224.9 1988.0,1232.2 1988.5,1248.9 1989.0,1261.0 1989.5,1260.5 1990.0,1259.7 1990.5,1256.2 1991.0,1252.7 1991.5,1248.7 1992.0,1244.7 1992.5,1240.7 1993.0,1236.7 1993.5,1232.7 1994.0,1228.7 1994.5,1200.2 1995.0,1146.1 1995.5,1145.7 1996.0,1145.4 1996.5,1145.1 1997.0,1145.6 1997.5,1146.1 1998.0,1146.6 1998.5,1147.1 1999.0,1151.4 1999.5,1156.9 2000.0,1159.2 2000.5,1159.2 2001.0,1153.7 2001.5,1141.8 2002.0,1141.4 2002.5,1141.1 2003.0,1140.8 2003.5,1141.3 2004.0,1141.9 2004.5,1144.4 2005.0,1194.7 2005.5,1207.8 2006.0,1207.5 2006.5,1207.3 2007.0,1207.0 2007.5,1207.0 2008.0,1207.4 2008.5,1207.7 2009.0,1172.1 2009.5,1122.3 2010.0,1122.3 2010.5,1122.3 2011.0,1122.3 2011.5,1122.3 2012.0,1122.3 2012.5,1122.3 2013.0,1184.2 2013.5,1219.1 2014.0,1219.5 2014.5,1220.7 2015.0,1230.1 2015.5,1236.3 2016.0,1236.7 2016.5,1237.1 2017.0,1258.3 2017.5,1275.5 2018.0,1275.2 2018.5,1285.4 2019.0,1315.4 2019.5,1315.8 2020.0,1309.2 2020.5,1282.1 2021.0,1273.8 2021.5,1273.1 2022.0,1273.3 2022.5,1273.4 2023.0,1273.6 2023.5,1289.5 2024.0,1301.3 2024.5,1301.3 2025.0,1301.3 2025.5,1301.4 2026.0,1301.9 2026.5,1302.4 2027.0,1288.6 2027.5,1266.9 2028.0,1246.1 2028.5,1245.8 2029.0,1245.5 2029.5,1245.2 2030.0,1244.9 2030.5,1242.4 2031.0,1239.6 2031.5,1238.7 2032.0,1238.6 2032.5,1238.5 2033.0,1238.4 2033.5,1243.6 2034.0,1257.9 2034.5,1258.4 2035.0,1258.9 2035.0,1283.3 2034.5,1284.8 2034.0,1286.3 2033.5,1287.6 2033.0,1288.6 2032.5,1289.6 2032.0,1291.1 2031.5,1292.6 2031.0,1305.5 2030.5,1343.0 2030.0,1343.1 2029.5,1343.3 2029.0,1343.5 2028.5,1343.7 2028.0,1343.9 2027.5,1344.1 2027.0,1344.5 2026.5,1347.0 2026.0,1349.4 2025.5,1349.4 2025.0,1349.4 2024.5,1349.4 2024.0,1349.4 2023.5,1349.4 2023.0,1347.0 2022.5,1344.9 2022.0,1344.9 2021.5,1344.9 2021.0,1345.1 2020.5,1345.2 2020.0,1345.4 2019.5,1345.6 2019.0,1345.7 2018.5,1345.9 2018.0,1346.1 2017.5,1346.3 2017.0,1346.4 2016.5,1346.3 2016.0,1346.2 2015.5,1346.0 2015.0,1341.7 2014.5,1337.3 2014.0,1336.4 2013.5,1335.7 2013.0,1318.5 2012.5,1286.0 2012.0,1306.5 2011.5,1309.8 2011.0,1310.0 2010.5,1310.3 2010.0,1310.5 2009.5,1310.4 2009.0,1310.4 2008.5,1310.3 2008.0,1310.3 2007.5,1310.6 2007.0,1311.0 2006.5,1311.3 2006.0,1311.5 2005.5,1311.3 2005.0,1311.1 2004.5,1310.9 2004.0,1305.7 2003.5,1299.4 2003.0,1288.9 2002.5,1278.4 2002.0,1250.0 2001.5,1223.9 2001.0,1224.4 2000.5,1224.9 2000.0,1225.4 1999.5,1228.1 1999.0,1233.1 1998.5,1238.1 1998.0,1249.4 1997.5,1261.6 1997.0,1277.0 1996.5,1283.6 1996.0,1284.0 1995.5,1284.4 1995.0,1284.4 1994.5,1284.0 1994.0,1283.6 1993.5,1290.6 1993.0,1307.3 1992.5,1311.2 1992.0,1313.7 1991.5,1317.2 1991.0,1322.7 1990.5,1328.2 1990.0,1332.5 1989.5,1336.4 1989.0,1337.0 1988.5,1337.5 1988.0,1338.0 1987.5,1338.5 1987.0,1338.3 1986.5,1337.6 1986.0,1336.9 1985.5,1336.2 1985.0,1307.2 1984.5,1281.3 1984.0,1286.3 1983.5,1287.1 1983.0,1287.8 1982.5,1288.4 1982.0,1288.0 1981.5,1287.5 1981.0,1287.0 1980.5,1286.0 1980.0,1267.5 1979.5,1262.4 1979.0,1261.7 1978.5,1261.1 1978.0,1260.3 1977.5,1259.3 1977.0,1259.6 1976.5,1260.6 1976.0,1261.6 1975.5,1262.6 1975.0,1264.5 1974.5,1266.6 1974.0,1325.7 1973.5,1326.2 1973.0,1326.7 1972.5,1326.8 1972.0,1326.7 1971.5,1326.5 1971.0,1326.4 1970.5,1325.9 1970.0,1324.7 1969.5,1324.8 1969.0,1329.5 1968.5,1337.4 1968.0,1356.4 1967.5,1356.7 1967.0,1356.9 1966.5,1358.7 1966.0,1361.5 1965.5,1364.5 1965.0,1367.6 1964.5,1371.2 1964.0,1375.1 1963.5,1376.7 1963.0,1377.4 1962.5,1377.9 1962.0,1377.5 1961.5,1377.1 1961.0,1375.8 1960.5,1373.8 1960.0,1371.8 1959.5,1359.3 1959.0,1360.5 1958.5,1361.8 1958.0,1362.8 1957.5,1362.8 1957.0,1362.8 1956.5,1362.8 1956.0,1362.8 1955.5,1362.8 1955.0,1348.2 1954.5,1341.2 1954.0,1341.5 1953.5,1341.6 1953.0,1341.1 1952.5,1340.6 1952.0,1337.5 1951.5,1332.7 1951.0,1328.1 1950.5,1325.3 1950.0,1322.6 1949.5,1323.1 1949.0,1326.4 1948.5,1327.0 1948.0,1327.7 1947.5,1328.2 1947.0,1328.4 1946.5,1328.5 1946.0,1328.6 1945.5,1328.8 1945.0,1337.9 1944.5,1352.0 1944.0,1355.2 1943.5,1357.3 1943.0,1357.8 1942.5,1358.3 1942.0,1358.7 1941.5,1358.6 1941.0,1358.5 1940.5,1358.4 1940.0,1357.7 1939.5,1355.4 1939.0,1353.2 1938.5,1349.7 1938.0,1340.9 1937.5,1333.2 1937.0,1332.3 1936.5,1329.9 1936.0,1312.2 1935.5,1312.2 1935.0,1312.2 1934.5,1312.2 1934.0,1357.2 1933.5,1360.7 1933.0,1361.2 1932.5,1361.6 1932.0,1361.6 1931.5,1361.6 1931.0,1361.7 1930.5,1361.7 1930.0,1361.8 1929.5,1361.5 1929.0,1361.1 1928.5,1360.7 1928.0,1360.3 1927.5,1359.8 1927.0,1359.3 1926.5,1358.9 1926.0,1358.8 1925.5,1358.6 1925.0,1358.4 1924.5,1357.3 1924.0,1355.1 1923.5,1353.5 1923.0,1352.6 1922.5,1351.8 1922.0,1328.5 1921.5,1270.5 1921.0,1269.7 1920.5,1267.6 1920.0,1262.1 1919.5,1256.5 1919.0,1250.9 1918.5,1249.6 1918.0,1249.9 1917.5,1257.4 1917.0,1265.4 1916.5,1277.9 1916.0,1290.2 1915.5,1299.2 1915.0,1305.8 1914.5,1306.0 1914.0,1306.2 1913.5,1306.4 1913.0,1331.3 1912.5,1335.4 1912.0,1336.9 1911.5,1337.5 1911.0,1337.9 1910.5,1338.3 1910.0,1338.7 1909.5,1338.4 1909.0,1338.2 1908.5,1337.9 1908.0,1337.1 1907.5,1336.1 1907.0,1335.0 1906.5,1331.9 1906.0,1327.3 1905.5,1322.7 1905.0,1317.7 1904.5,1312.2 1904.0,1306.7 1903.5,1296.5 1903.0,1286.1 1902.5,1275.8 1902.0,1261.2 1901.5,1244.1 1901.0,1247.7 1900.5,1255.8 1900.0,1290.9 1899.5,1313.1 1899.0,1313.8 1898.5,1314.5 1898.0,1315.1 1897.5,1315.8 1897.0,1316.5 1896.5,1317.2 1896.0,1317.9 1895.5,1318.6 1895.0,1318.2 1894.5,1317.7 1894.0,1317.3 1893.5,1258.8 1893.0,1238.2 1892.5,1237.9 1892.0,1249.6 1891.5,1263.0 1891.0,1266.9 1890.5,1268.7 1890.0,1270.6 1889.5,1272.4 1889.0,1271.1 1888.5,1269.8 1888.0,1268.5 1887.5,1267.2 1887.0,1275.4 1886.5,1289.4 1886.0,1299.2 1885.5,1305.8 1885.0,1330.9 1884.5,1354.1 1884.0,1357.2 1883.5,1360.3 1883.0,1360.5 1882.5,1360.4 1882.0,1360.4 1881.5,1360.3 1881.0,1360.3 1880.5,1360.2 1880.0,1357.4 1879.5,1354.7 1879.0,1346.0 1878.5,1334.3 1878.0,1339.8 1877.5,1340.7 1877.0,1341.1 1876.5,1341.5 1876.0,1347.7 1875.5,1352.7 1875.0,1352.9 1874.5,1353.1 1874.0,1353.1 1873.5,1352.4 1873.0,1351.7 1872.5,1351.1 1872.0,1350.3 1871.5,1349.3 1871.0,1348.3 1870.5,1347.3 1870.0,1346.5 1869.5,1346.0 1869.0,1345.5 1868.5,1339.1 1868.0,1332.3 1867.5,1331.3 1867.0,1339.3 1866.5,1347.3 1866.0,1351.0 1865.5,1353.7 1865.0,1356.2 1864.5,1358.1 1864.0,1359.9 1863.5,1361.7 1863.0,1362.7 1862.5,1362.3 1862.0,1362.0 1861.5,1361.7 1861.0,1358.1 1860.5,1353.8 1860.0,1353.7 1859.5,1353.6 1859.0,1353.4 1858.5,1353.3 1858.0,1352.3 1857.5,1346.8 1857.0,1341.3 1856.5,1339.1 1856.0,1339.2 1855.5,1339.3 1855.0,1339.4 1854.5,1339.4 1854.0,1339.4 1853.5,1339.1 1853.0,1338.8 1852.5,1338.6 1852.0,1332.3 1851.5,1322.3 1851.0,1312.8 1850.5,1312.4 1850.0,1312.0 1849.5,1311.6 1849.0,1270.1 1848.5,1252.6 1848.0,1252.6 1847.5,1252.6 1847.0,1262.3 1846.5,1287.2 1846.0,1287.4 1845.5,1287.7 1845.0,1287.9 1844.5,1288.2 1844.0,1288.4 1843.5,1329.4 1843.0,1343.8 1842.5,1344.1 1842.0,1344.5 1841.5,1344.8 1841.0,1344.3 1840.5,1343.6 1840.0,1342.9 1839.5,1342.2 1839.0,1339.5 1838.5,1329.2 1838.0,1322.5 1837.5,1321.2 1837.0,1319.9 1836.5,1318.5 1836.0,1313.4 1835.5,1305.4 1835.0,1291.0 1834.5,1271.6 1834.0,1271.4 1833.5,1271.6 1833.0,1275.5 1832.5,1283.4 1832.0,1283.6 1831.5,1283.7 1831.0,1283.9 1830.5,1289.5 1830.0,1291.1 1829.5,1291.3 1829.0,1291.4 1828.5,1291.5 1828.0,1292.5 1827.5,1297.7 1827.0,1303.0 1826.5,1308.5 1826.0,1314.1 1825.5,1323.2 1825.0,1335.4 1824.5,1338.8 1824.0,1339.3 1823.5,1339.8 1823.0,1340.3 1822.5,1340.8 1822.0,1341.3 1821.5,1341.8 1821.0,1342.2 1820.5,1342.4 1820.0,1342.0 1819.5,1341.6 1819.0,1341.2 1818.5,1332.6 1818.0,1320.4 1817.5,1315.5 1817.0,1314.8 1816.5,1314.0 1816.0,1312.9 1815.5,1311.8 1815.0,1310.7 1814.5,1309.6 1814.0,1305.7 1813.5,1298.5 1813.0,1300.5 1812.5,1304.7 1812.0,1305.2 1811.5,1305.7 1811.0,1305.5 1810.5,1305.2 1810.0,1304.8 1809.5,1304.5 1809.0,1289.8 1808.5,1285.0 1808.0,1284.6 1807.5,1284.1 1807.0,1283.7 1806.5,1283.0 1806.0,1278.7 1805.5,1279.2 1805.0,1291.7 1804.5,1291.8 1804.0,1292.0 1803.5,1292.2 1803.0,1292.6 1802.5,1294.6 1802.0,1296.6 1801.5,1309.0 1801.0,1324.4 1800.5,1330.8 1800.0,1331.8 1799.5,1332.8 1799.0,1333.8 1798.5,1336.1 1798.0,1344.1 1797.5,1345.4 1797.0,1346.0 1796.5,1346.4 1796.0,1346.3 1795.5,1346.3 1795.0,1346.2 1794.5,1346.2 1794.0,1343.0 1793.5,1339.7 1793.0,1331.3 1792.5,1315.5 1792.0,1313.3 1791.5,1313.1 1791.0,1312.9 1790.5,1314.2 1790.0,1316.0 1789.5,1317.3 1789.0,1317.2 1788.5,1317.0 1788.0,1316.9 1787.5,1316.8 1787.0,1316.4 1786.5,1314.4 1786.0,1312.3 1785.5,1310.5 1785.0,1316.8 1784.5,1317.1 1784.0,1317.4 1783.5,1317.8 1783.0,1324.1 1782.5,1337.2 1782.0,1337.3 1781.5,1337.4 1781.0,1337.6 1780.5,1337.7 1780.0,1337.8 1779.5,1343.2 1779.0,1353.3 1778.5,1369.5 1778.0,1370.2 1777.5,1370.9 1777.0,1371.5 1776.5,1371.4 1776.0,1370.6 1775.5,1368.1 1775.0,1304.6 1774.5,1282.3 1774.0,1274.1 1773.5,1274.3 1773.0,1274.8 1772.5,1275.4 1772.0,1281.5 1771.5,1288.0 1771.0,1288.4 1770.5,1288.8 1770.0,1289.2 1769.5,1289.6 1769.0,1293.3 1768.5,1298.3 1768.0,1299.0 1767.5,1299.3 1767.0,1299.6 1766.5,1299.9 1766.0,1300.2 1765.5,1300.5 1765.0,1300.9 1764.5,1301.4 1764.0,1301.9 1763.5,1302.4 1763.0,1302.2 1762.5,1301.7 1762.0,1301.2 1761.5,1300.2 1761.0,1299.3 1760.5,1298.3 1760.0,1317.8 1759.5,1324.7 1759.0,1325.2 1758.5,1325.6 1758.0,1325.8 1757.5,1325.6 1757.0,1325.3 1756.5,1325.1 1756.0,1310.3 1755.5,1291.5 1755.0,1290.7 1754.5,1290.0 1754.0,1288.3 1753.5,1286.3 1753.0,1284.3 1752.5,1282.3 1752.0,1282.1 1751.5,1282.1 1751.0,1292.9 1750.5,1327.0 1750.0,1329.5 1749.5,1331.5 1749.0,1331.9 1748.5,1332.3 1748.0,1332.7 1747.5,1332.3 1747.0,1332.0 1746.5,1331.6 1746.0,1322.6 1745.5,1315.5 1745.0,1315.7 1744.5,1315.9 1744.0,1315.9 1743.5,1315.4 1743.0,1314.9 1742.5,1314.4 1742.0,1311.4 1741.5,1303.9 1741.0,1296.4 1740.5,1294.4 1740.0,1293.7 1739.5,1293.1 1739.0,1292.5 1738.5,1291.9 1738.0,1293.7 1737.5,1295.9 1737.0,1296.9 1736.5,1297.9 1736.0,1297.9 1735.5,1297.8 1735.0,1297.6 1734.5,1297.4 1734.0,1296.4 1733.5,1295.4 1733.0,1294.3 1732.5,1313.0 1732.0,1326.4 1731.5,1326.6 1731.0,1326.8 1730.5,1329.1 1730.0,1336.5 1729.5,1336.9 1729.0,1337.3 1728.5,1337.7 1728.0,1337.7 1727.5,1337.6 1727.0,1337.4 1726.5,1337.3 1726.0,1333.2 1725.5,1320.5 1725.0,1320.4 1724.5,1320.3 1724.0,1320.1 1723.5,1320.0 1723.0,1319.9 1722.5,1320.0 1722.0,1320.2 1721.5,1320.4 1721.0,1320.5 1720.5,1320.3 1720.0,1320.1 1719.5,1319.9 1719.0,1318.3 1718.5,1316.0 1718.0,1316.9 1717.5,1335.2 1717.0,1350.0 1716.5,1358.4 1716.0,1358.9 1715.5,1359.5 1715.0,1360.0 1714.5,1359.7 1714.0,1359.4 1713.5,1359.1 1713.0,1355.1 1712.5,1349.3 1712.0,1343.6 1711.5,1341.2 1711.0,1345.5 1710.5,1352.1 1710.0,1360.6 1709.5,1363.3 1709.0,1363.9 1708.5,1364.5 1708.0,1365.0 1707.5,1365.6 1707.0,1366.2 1706.5,1366.6 1706.0,1366.3 1705.5,1365.9 1705.0,1365.6 1704.5,1357.2 1704.0,1352.1 1703.5,1351.4 1703.0,1350.8 1702.5,1350.1 1702.0,1338.2 1701.5,1332.5 1701.0,1332.3 1700.5,1332.0 1700.0,1331.8 1699.5,1331.5 1699.0,1331.4 1698.5,1331.2 1698.0,1331.1 1697.5,1331.0 1697.0,1330.9 1696.5,1330.4 1696.0,1329.4 1695.5,1328.4 1695.0,1308.2 1694.5,1290.1 1694.0,1280.4 1693.5,1270.6 1693.0,1279.4 1692.5,1289.6 1692.0,1296.2 1691.5,1296.4 1691.0,1296.6 1690.5,1297.4 1690.0,1299.6 1689.5,1301.4 1689.0,1301.9 1688.5,1302.4 1688.0,1302.5 1687.5,1302.3 1687.0,1302.1 1686.5,1302.0 1686.0,1292.8 1685.5,1282.0 1685.0,1278.4 1684.5,1274.8 1684.0,1271.2 1683.5,1267.6 1683.0,1265.7 1682.5,1265.9 1682.0,1279.9 1681.5,1283.1 1681.0,1284.4 1680.5,1285.3 1680.0,1285.5 1679.5,1285.6 1679.0,1285.8 1678.5,1284.7 1678.0,1282.1 1677.5,1279.4 1677.0,1276.8 1676.5,1263.9 1676.0,1206.4 1675.5,1206.4 1675.0,1206.4 1674.5,1206.4 1674.0,1206.4 1673.5,1207.9 1673.0,1209.5 1672.5,1211.3 1672.0,1213.2 1671.5,1215.1 1671.0,1216.9 1670.5,1218.8 1670.0,1221.7 1669.5,1225.0 1669.0,1236.9 1668.5,1281.9 1668.0,1285.9 1667.5,1286.5 1667.0,1287.2 1666.5,1287.8 1666.0,1287.6 1665.5,1287.4 1665.0,1287.2 1664.5,1297.2 1664.0,1303.4 1663.5,1305.2 1663.0,1306.8 1662.5,1308.3 1662.0,1311.6 1661.5,1330.6 1661.0,1334.2 1660.5,1334.6 1660.0,1334.9 1659.5,1335.2 1659.0,1335.1 1658.5,1335.0 1658.0,1334.9 1657.5,1334.8 1657.0,1334.6 1656.5,1334.3 1656.0,1334.0 1655.5,1333.7 1655.0,1333.3 1654.5,1327.2 1654.0,1321.0 1653.5,1314.8 1653.0,1309.2 1652.5,1306.3 1652.0,1303.5 1651.5,1300.7 1651.0,1295.8 1650.5,1286.4 1650.0,1277.6 1649.5,1270.5 1649.0,1258.7 1648.5,1241.6 1648.0,1241.2 1647.5,1248.1 1647.0,1248.5 1646.5,1249.0 1646.0,1249.3 1645.5,1248.7 1645.0,1248.0 1644.5,1247.3 1644.0,1242.6 1643.5,1222.1 1643.0,1211.3 1642.5,1207.7 1642.0,1207.7 1641.5,1207.7 1641.0,1207.7 1640.5,1207.7 1640.0,1208.5 1639.5,1210.0 1639.0,1211.5 1638.5,1222.1 1638.0,1232.3 1637.5,1237.9 1637.0,1243.0 1636.5,1243.3 1636.0,1243.7 1635.5,1244.0 1635.0,1244.3 1634.5,1244.3 1634.0,1244.4 1633.5,1244.5 1633.0,1244.6 1632.5,1244.6 1632.0,1244.4 1631.5,1244.2 1631.0,1244.0 1630.5,1243.8 1630.0,1243.6 1629.5,1240.1 1629.0,1236.7 1628.5,1233.2 1628.0,1236.2 1627.5,1238.8 1627.0,1239.4 1626.5,1240.0 1626.0,1240.3 1625.5,1239.9 1625.0,1239.5 1624.5,1239.1 1624.0,1204.6 1623.5,1204.7 1623.0,1204.8 1622.5,1205.0 1622.0,1223.1 1621.5,1337.9 1621.0,1338.1 1620.5,1338.3 1620.0,1342.7 1619.5,1358.9 1619.0,1371.8 1618.5,1371.7 1618.0,1371.5 1617.5,1371.4 1617.0,1371.3 1616.5,1371.2 1616.0,1371.4 1615.5,1371.8 1615.0,1372.2 1614.5,1372.6 1614.0,1373.1 1613.5,1376.6 1613.0,1380.4 1612.5,1384.1 1612.0,1387.4 1611.5,1387.4 1611.0,1387.4 1610.5,1387.3 1610.0,1387.3 1609.5,1387.2 1609.0,1387.2 1608.5,1385.6 1608.0,1383.2 1607.5,1380.9 1607.0,1378.6 1606.5,1377.6 1606.0,1377.0 1605.5,1376.3 1605.0,1370.5 1604.5,1370.5 1604.0,1354.6 1603.5,1320.2 1603.0,1307.6 1602.5,1323.8 1602.0,1324.3 1601.5,1324.8 1601.0,1353.8 1600.5,1382.2 1600.0,1387.4 1599.5,1387.4 1599.0,1387.4 1598.5,1387.4 1598.0,1387.4 1597.5,1387.4 1597.0,1384.9 1596.5,1382.1 1596.0,1377.4 1595.5,1368.4 1595.0,1365.0 1594.5,1366.6 1594.0,1368.1 1593.5,1369.3 1593.0,1369.7 1592.5,1370.1 1592.0,1370.5 1591.5,1370.6 1591.0,1370.0 1590.5,1369.4 1590.0,1339.4 1589.5,1300.6 1589.0,1276.4 1588.5,1257.8 1588.0,1251.8 1587.5,1246.8 1587.0,1243.0 1586.5,1241.2 1586.0,1239.5 1585.5,1253.8 1585.0,1270.0 1584.5,1281.7 1584.0,1285.7 1583.5,1289.7 1583.0,1291.9 1582.5,1293.1 1582.0,1295.1 1581.5,1303.1 1581.0,1304.9 1580.5,1305.4 1580.0,1306.4 1579.5,1308.6 1579.0,1310.9 1578.5,1324.4 1578.0,1335.3 1577.5,1335.3 1577.0,1335.3 1576.5,1335.3 1576.0,1335.3 1575.5,1335.3 1575.0,1335.2 1574.5,1323.2 1574.0,1320.1 1573.5,1320.3 1573.0,1320.7 1572.5,1322.2 1572.0,1323.7 1571.5,1324.6 1571.0,1324.9 1570.5,1325.2 1570.0,1325.6 1569.5,1325.3 1569.0,1324.9 1568.5,1324.5 1568.0,1307.6 1567.5,1282.6 1567.0,1274.9 1566.5,1277.9 1566.0,1281.1 1565.5,1288.1 1565.0,1290.0 1564.5,1290.3 1564.0,1290.6 1563.5,1290.6 1563.0,1290.3 1562.5,1290.0 1562.0,1283.0 1561.5,1265.6 1561.0,1265.7 1560.5,1265.8 1560.0,1265.9 1559.5,1265.9 1559.0,1266.0 1558.5,1266.2 1558.0,1266.4 1557.5,1266.5 1557.0,1268.9 1556.5,1290.4 1556.0,1304.9 1555.5,1311.0 1555.0,1311.2 1554.5,1311.4 1554.0,1319.3 1553.5,1335.9 1553.0,1337.3 1552.5,1337.4 1552.0,1337.5 1551.5,1337.5 1551.0,1337.6 1550.5,1337.7 1550.0,1337.9 1549.5,1355.4 1549.0,1360.9 1548.5,1361.7 1548.0,1362.5 1547.5,1362.5 1547.0,1362.0 1546.5,1360.8 1546.0,1350.8 1545.5,1345.9 1545.0,1345.4 1544.5,1344.9 1544.0,1342.2 1543.5,1339.4 1543.0,1337.0 1542.5,1334.9 1542.0,1332.8 1541.5,1331.3 1541.0,1331.0 1540.5,1330.6 1540.0,1330.3 1539.5,1328.8 1539.0,1326.0 1538.5,1323.3 1538.0,1320.3 1537.5,1317.3 1537.0,1307.1 1536.5,1287.1 1536.0,1302.1 1535.5,1305.6 1535.0,1306.2 1534.5,1306.7 1534.0,1318.1 1533.5,1332.4 1533.0,1334.6 1532.5,1336.9 1532.0,1341.9 1531.5,1345.7 1531.0,1346.2 1530.5,1346.7 1530.0,1352.0 1529.5,1358.8 1529.0,1361.5 1528.5,1364.1 1528.0,1365.6 1527.5,1365.6 1527.0,1365.5 1526.5,1365.5 1526.0,1365.4 1525.5,1364.5 1525.0,1361.5 1524.5,1358.5 1524.0,1352.8 1523.5,1346.0 1523.0,1346.0 1522.5,1346.6 1522.0,1347.2 1521.5,1347.7 1521.0,1348.3 1520.5,1348.8 1520.0,1349.3 1519.5,1349.7 1519.0,1349.5 1518.5,1349.2 1518.0,1349.0 1517.5,1348.8 1517.0,1341.9 1516.5,1334.8 1516.0,1335.3 1515.5,1335.8 1515.0,1336.5 1514.5,1337.2 1514.0,1337.6 1513.5,1336.6 1513.0,1335.6 1512.5,1334.6 1512.0,1337.8 1511.5,1347.5 1511.0,1348.0 1510.5,1348.5 1510.0,1349.0 1509.5,1349.5 1509.0,1350.0 1508.5,1374.2 1508.0,1383.1 1507.5,1383.7 1507.0,1384.4 1506.5,1384.4 1506.0,1384.0 1505.5,1383.6 1505.0,1376.8 1504.5,1351.3 1504.0,1342.5 1503.5,1340.0 1503.0,1339.9 1502.5,1339.8 1502.0,1339.8 1501.5,1339.4 1501.0,1339.0 1500.5,1338.6 1500.0,1331.7 1499.5,1324.9 1499.0,1324.6 1498.5,1324.3 1498.0,1324.0 1497.5,1323.8 1497.0,1322.6 1496.5,1321.4 1496.0,1303.0 1495.5,1281.9 1495.0,1291.0 1494.5,1293.3 1494.0,1293.2 1493.5,1293.1 1493.0,1293.1 1492.5,1293.0 1492.0,1293.9 1491.5,1295.4 1491.0,1297.0 1490.5,1300.2 1490.0,1303.5 1489.5,1309.5 1489.0,1317.4 1488.5,1320.8 1488.0,1326.1 1487.5,1339.8 1487.0,1340.1 1486.5,1340.4 1486.0,1340.7 1485.5,1340.7 1485.0,1340.6 1484.5,1340.4 1484.0,1336.7 1483.5,1328.9 1483.0,1304.1 1482.5,1270.9 1482.0,1245.9 1481.5,1224.5 1481.0,1212.8 1480.5,1212.8 1480.0,1212.8 1479.5,1212.8 1479.0,1212.8 1478.5,1212.8 1478.0,1233.7 1477.5,1245.0 1477.0,1245.2 1476.5,1245.4 1476.0,1245.3 1475.5,1245.0 1475.0,1244.7 1474.5,1244.3 1474.0,1207.7 1473.5,1205.4 1473.0,1205.6 1472.5,1206.9 1472.0,1209.7 1471.5,1217.7 1471.0,1227.8 1470.5,1234.6 1470.0,1242.4 1469.5,1252.8 1469.0,1258.4 1468.5,1258.7 1468.0,1258.9 1467.5,1259.1 1467.0,1259.3 1466.5,1259.5 1466.0,1262.2 1465.5,1266.9 1465.0,1268.1 1464.5,1268.2 1464.0,1268.4 1463.5,1268.6 1463.0,1268.7 1462.5,1268.9 1462.0,1269.1 1461.5,1269.8 1461.0,1275.1 1460.5,1275.2 1460.0,1275.4 1459.5,1275.6 1459.0,1277.4 1458.5,1279.9 1458.0,1281.8 1457.5,1283.3 1457.0,1286.1 1456.5,1300.1 1456.0,1305.5 1455.5,1309.1 1455.0,1312.5 1454.5,1315.9 1454.0,1316.4 1453.5,1316.7 1453.0,1317.0 1452.5,1317.2 1452.0,1316.5 1451.5,1315.7 1451.0,1315.5 1450.5,1315.6 1450.0,1315.8 1449.5,1315.9 1449.0,1319.7 1448.5,1337.6 1448.0,1343.8 1447.5,1344.1 1447.0,1344.4 1446.5,1344.7 1446.0,1344.8 1445.5,1344.5 1445.0,1344.2 1444.5,1343.9 1444.0,1343.6 1443.5,1327.8 1443.0,1322.0 1442.5,1327.9 1442.0,1327.8 1441.5,1327.8 1441.0,1327.7 1440.5,1327.6 1440.0,1321.7 1439.5,1298.7 1439.0,1303.7 1438.5,1312.6 1438.0,1312.7 1437.5,1312.8 1437.0,1319.4 1436.5,1337.6 1436.0,1348.3 1435.5,1353.2 1435.0,1354.2 1434.5,1355.2 1434.0,1357.8 1433.5,1360.5 1433.0,1360.9 1432.5,1361.4 1432.0,1361.8 1431.5,1361.4 1431.0,1361.0 1430.5,1360.6 1430.0,1358.6 1429.5,1352.1 1429.0,1354.9 1428.5,1356.5 1428.0,1357.5 1427.5,1358.6 1427.0,1358.7 1426.5,1358.2 1426.0,1357.7 1425.5,1357.3 1425.0,1352.9 1424.5,1348.3 1424.0,1347.6 1423.5,1346.8 1423.0,1339.7 1422.5,1298.3 1422.0,1277.4 1421.5,1293.1 1421.0,1308.6 1420.5,1323.7 1420.0,1324.7 1419.5,1325.7 1419.0,1326.6 1418.5,1327.1 1418.0,1327.7 1417.5,1328.3 1417.0,1328.8 1416.5,1328.4 1416.0,1328.0 1415.5,1327.7 1415.0,1326.0 1414.5,1324.0 1414.0,1322.0 1413.5,1320.0 1413.0,1317.6 1412.5,1315.1 1412.0,1309.1 1411.5,1296.9 1411.0,1309.1 1410.5,1357.9 1410.0,1360.8 1409.5,1363.1 1409.0,1363.0 1408.5,1363.0 1408.0,1363.0 1407.5,1362.9 1407.0,1362.9 1406.5,1362.8 1406.0,1351.8 1405.5,1317.1 1405.0,1309.9 1404.5,1302.7 1404.0,1300.9 1403.5,1299.3 1403.0,1297.6 1402.5,1302.5 1402.0,1308.1 1401.5,1309.1 1401.0,1309.3 1400.5,1309.4 1400.0,1309.6 1399.5,1317.1 1399.0,1319.5 1398.5,1319.8 1398.0,1320.1 1397.5,1320.5 1397.0,1322.9 1396.5,1325.7 1396.0,1329.0 1395.5,1333.6 1395.0,1336.9 1394.5,1338.9 1394.0,1340.9 1393.5,1340.7 1393.0,1340.3 1392.5,1339.9 1392.0,1338.2 1391.5,1335.7 1391.0,1333.0 1390.5,1327.3 1390.0,1338.8 1389.5,1370.2 1389.0,1370.8 1388.5,1371.5 1388.0,1371.3 1387.5,1371.0 1387.0,1370.8 1386.5,1369.9 1386.0,1362.7 1385.5,1355.4 1385.0,1328.6 1384.5,1283.3 1384.0,1257.3 1383.5,1253.7 1383.0,1252.4 1382.5,1252.1 1382.0,1252.5 1381.5,1258.3 1381.0,1264.0 1380.5,1281.8 1380.0,1303.0 1379.5,1304.7 1379.0,1306.3 1378.5,1307.6 1378.0,1307.2 1377.5,1306.9 1377.0,1306.5 1376.5,1305.4 1376.0,1304.3 1375.5,1303.1 1375.0,1301.9 1374.5,1301.6 1374.0,1301.2 1373.5,1300.9 1373.0,1295.3 1372.5,1284.0 1372.0,1283.9 1371.5,1283.7 1371.0,1283.6 1370.5,1283.5 1370.0,1283.4 1369.5,1290.6 1369.0,1315.4 1368.5,1315.8 1368.0,1317.2 1367.5,1324.7 1367.0,1326.1 1366.5,1326.6 1366.0,1326.8 1365.5,1326.6 1365.0,1326.3 1364.5,1325.5 1364.0,1324.5 1363.5,1323.8 1363.0,1324.1 1362.5,1324.4 1362.0,1324.8 1361.5,1325.3 1361.0,1326.3 1360.5,1327.3 1360.0,1343.7 1359.5,1354.6 1359.0,1354.8 1358.5,1355.0 1358.0,1356.4 1357.5,1363.5 1357.0,1363.9 1356.5,1364.3 1356.0,1364.7 1355.5,1364.1 1355.0,1363.4 1354.5,1357.6 1354.0,1335.1 1353.5,1333.7 1353.0,1333.3 1352.5,1333.0 1352.0,1332.7 1351.5,1333.1 1351.0,1333.4 1350.5,1333.7 1350.0,1334.5 1349.5,1336.7 1349.0,1340.9 1348.5,1350.8 1348.0,1351.5 1347.5,1352.3 1347.0,1353.1 1346.5,1353.5 1346.0,1353.8 1345.5,1354.2 1345.0,1354.5 1344.5,1354.9 1344.0,1355.3 1343.5,1355.7 1343.0,1358.5 1342.5,1360.4 1342.0,1360.9 1341.5,1361.4 1341.0,1360.9 1340.5,1360.2 1340.0,1352.5 1339.5,1325.0 1339.0,1300.0 1338.5,1277.9 1338.0,1269.1 1337.5,1266.9 1337.0,1269.1 1336.5,1272.5 1336.0,1272.9 1335.5,1273.2 1335.0,1273.5 1334.5,1273.5 1334.0,1273.1 1333.5,1272.7 1333.0,1270.0 1332.5,1264.1 1332.0,1263.8 1331.5,1272.8 1331.0,1272.7 1330.5,1272.7 1330.0,1272.6 1329.5,1272.5 1329.0,1272.4 1328.5,1269.4 1328.0,1268.9 1327.5,1282.9 1327.0,1296.4 1326.5,1304.9 1326.0,1306.6 1325.5,1306.8 1325.0,1307.0 1324.5,1307.2 1324.0,1307.4 1323.5,1307.2 1323.0,1306.8 1322.5,1306.4 1322.0,1306.0 1321.5,1304.7 1321.0,1301.4 1320.5,1298.1 1320.0,1294.9 1319.5,1287.0 1319.0,1281.6 1318.5,1285.7 1318.0,1292.4 1317.5,1313.9 1317.0,1317.2 1316.5,1317.7 1316.0,1318.3 1315.5,1318.3 1315.0,1317.6 1314.5,1317.0 1314.0,1312.8 1313.5,1304.3 1313.0,1298.9 1312.5,1297.9 1312.0,1296.8 1311.5,1295.7 1311.0,1294.2 1310.5,1292.7 1310.0,1288.7 1309.5,1277.0 1309.0,1274.9 1308.5,1276.5 1308.0,1276.6 1307.5,1276.6 1307.0,1276.5 1306.5,1276.4 1306.0,1276.4 1305.5,1276.3 1305.0,1276.3 1304.5,1266.0 1304.0,1255.6 1303.5,1253.1 1303.0,1250.9 1302.5,1248.7 1302.0,1245.7 1301.5,1235.2 1301.0,1234.7 1300.5,1236.3 1300.0,1237.9 1299.5,1239.5 1299.0,1241.2 1298.5,1247.6 1298.0,1252.6 1297.5,1252.6 1297.0,1252.6 1296.5,1252.6 1296.0,1252.6 1295.5,1252.6 1295.0,1252.5 1294.5,1233.0 1294.0,1224.8 1293.5,1221.0 1293.0,1217.1 1292.5,1213.3 1292.0,1226.8 1291.5,1239.0 1291.0,1248.6 1290.5,1258.2 1290.0,1273.3 1289.5,1278.5 1289.0,1278.5 1288.5,1278.5 1288.0,1278.5 1287.5,1278.5 1287.0,1278.5 1286.5,1278.5 1286.0,1277.6 1285.5,1260.3 1285.0,1263.1 1284.5,1294.2 1284.0,1294.2 1283.5,1294.2 1283.0,1294.2 1282.5,1294.2 1282.0,1294.2 1281.5,1294.2 1281.0,1259.8 1280.5,1247.6 1280.0,1247.7 1279.5,1247.9 1279.0,1248.1 1278.5,1253.3 1278.0,1256.9 1277.5,1259.6 1277.0,1262.2 1276.5,1264.9 1276.0,1272.8 1275.5,1278.3 1275.0,1280.2 1274.5,1280.7 1274.0,1281.1 1273.5,1281.6 1273.0,1282.0 1272.5,1298.9 1272.0,1315.6 1271.5,1324.6 1271.0,1325.1 1270.5,1325.7 1270.0,1326.3 1269.5,1335.8 1269.0,1338.4 1268.5,1338.2 1268.0,1338.1 1267.5,1338.0 1267.0,1337.9 1266.5,1331.9 1266.0,1324.9 1265.5,1324.7 1265.0,1324.4 1264.5,1331.1 1264.0,1338.7 1263.5,1343.7 1263.0,1344.5 1262.5,1345.2 1262.0,1345.4 1261.5,1345.1 1261.0,1346.1 1260.5,1369.6 1260.0,1375.3 1259.5,1375.6 1259.0,1375.9 1258.5,1376.3 1258.0,1375.2 1257.5,1374.0 1257.0,1372.9 1256.5,1371.4 1256.0,1366.1 1255.5,1360.9 1255.0,1331.9 1254.5,1288.9 1254.0,1274.4 1253.5,1273.6 1253.0,1273.4 1252.5,1273.2 1252.0,1273.1 1251.5,1273.4 1251.0,1273.8 1250.5,1274.1 1250.0,1274.4 1249.5,1274.8 1249.0,1275.1 1248.5,1275.4 1248.0,1284.5 1247.5,1303.7 1247.0,1307.8 1246.5,1311.7 1246.0,1313.1 1245.5,1314.1 1245.0,1314.2 1244.5,1314.4 1244.0,1314.5 1243.5,1314.6 1243.0,1314.7 1242.5,1333.1 1242.0,1364.4 1241.5,1366.9 1241.0,1367.3 1240.5,1367.3 1240.0,1367.3 1239.5,1367.3 1239.0,1365.6 1238.5,1361.8 1238.0,1358.1 1237.5,1361.9 1237.0,1368.4 1236.5,1383.6 1236.0,1383.5 1235.5,1383.5 1235.0,1383.5 1234.5,1383.4 1234.0,1383.4 1233.5,1383.4 1233.0,1376.8 1232.5,1360.8 1232.0,1350.2 1231.5,1348.9 1231.0,1347.7 1230.5,1344.5 1230.0,1340.7 1229.5,1337.6 1229.0,1334.8 1228.5,1335.4 1228.0,1336.2 1227.5,1337.1 1227.0,1337.8 1226.5,1337.3 1226.0,1336.8 1225.5,1335.6 1225.0,1333.8 1224.5,1332.1 1224.0,1313.1 1223.5,1293.8 1223.0,1285.7 1222.5,1275.9 1222.0,1248.4 1221.5,1244.0 1221.0,1243.8 1220.5,1239.0 1220.0,1222.8 1219.5,1206.6 1219.0,1190.4 1218.5,1182.2 1218.0,1182.8 1217.5,1183.3 1217.0,1183.9 1216.5,1226.1 1216.0,1241.9 1215.5,1242.5 1215.0,1243.2 1214.5,1243.9 1214.0,1244.2 1213.5,1244.1 1213.0,1244.0 1212.5,1243.9 1212.0,1243.8 1211.5,1243.7 1211.0,1243.6 1210.5,1243.6 1210.0,1243.6 1209.5,1243.6 1209.0,1243.6 1208.5,1243.6 1208.0,1243.6 1207.5,1243.6 1207.0,1266.7 1206.5,1277.8 1206.0,1278.1 1205.5,1282.5 1205.0,1287.8 1204.5,1289.4 1204.0,1290.9 1203.5,1292.4 1203.0,1292.6 1202.5,1292.1 1202.0,1291.6 1201.5,1290.8 1201.0,1290.0 1200.5,1289.3 1200.0,1271.8 1199.5,1263.9 1199.0,1261.1 1198.5,1260.2 1198.0,1260.0 1197.5,1259.9 1197.0,1259.8 1196.5,1259.7 1196.0,1258.9 1195.5,1257.7 1195.0,1256.4 1194.5,1256.7 1194.0,1257.1 1193.5,1257.4 1193.0,1260.5 1192.5,1278.5 1192.0,1282.1 1191.5,1283.6 1191.0,1291.4 1190.5,1312.8 1190.0,1313.0 1189.5,1313.2 1189.0,1313.3 1188.5,1313.5 1188.0,1313.5 1187.5,1313.5 1187.0,1313.5 1186.5,1313.5 1186.0,1313.6 1185.5,1317.1 1185.0,1318.1 1184.5,1318.2 1184.0,1318.3 1183.5,1318.5 1183.0,1319.4 1182.5,1324.4 1182.0,1327.6 1181.5,1327.8 1181.0,1328.0 1180.5,1328.1 1180.0,1331.5 1179.5,1337.9 1179.0,1342.7 1178.5,1346.2 1178.0,1346.2 1177.5,1346.2 1177.0,1346.2 1176.5,1346.2 1176.0,1346.2 1175.5,1346.0 1175.0,1340.9 1174.5,1340.4 1174.0,1339.9 1173.5,1339.4 1173.0,1339.1 1172.5,1338.9 1172.0,1338.8 1171.5,1338.7 1171.0,1338.6 1170.5,1338.2 1170.0,1337.1 1169.5,1336.1 1169.0,1327.3 1168.5,1288.8 1168.0,1287.6 1167.5,1289.5 1167.0,1295.9 1166.5,1302.9 1166.0,1307.8 1165.5,1308.3 1165.0,1308.8 1164.5,1309.0 1164.0,1309.0 1163.5,1309.0 1163.0,1309.0 1162.5,1329.6 1162.0,1339.6 1161.5,1341.4 1161.0,1343.3 1160.5,1345.1 1160.0,1345.4 1159.5,1345.2 1159.0,1345.1 1158.5,1344.9 1158.0,1342.1 1157.5,1336.2 1157.0,1331.3 1156.5,1331.0 1156.0,1330.6 1155.5,1330.3 1155.0,1326.4 1154.5,1319.2 1154.0,1308.1 1153.5,1292.4 1153.0,1278.5 1152.5,1270.4 1152.0,1270.1 1151.5,1269.7 1151.0,1269.4 1150.5,1284.6 1150.0,1306.1 1149.5,1307.2 1149.0,1308.4 1148.5,1309.6 1148.0,1312.1 1147.5,1316.6 1147.0,1321.1 1146.5,1321.9 1146.0,1322.1 1145.5,1322.3 1145.0,1321.2 1144.5,1321.3 1144.0,1321.5 1143.5,1321.7 1143.0,1325.5 1142.5,1333.3 1142.0,1333.3 1141.5,1333.3 1141.0,1333.3 1140.5,1333.3 1140.0,1333.3 1139.5,1333.3 1139.0,1331.9 1138.5,1325.0 1138.0,1318.6 1137.5,1314.2 1137.0,1309.8 1136.5,1305.0 1136.0,1295.3 1135.5,1285.6 1135.0,1273.7 1134.5,1261.8 1134.0,1243.1 1133.5,1227.5 1133.0,1227.1 1132.5,1226.7 1132.0,1226.4 1131.5,1226.0 1131.0,1225.1 1130.5,1215.1 1130.0,1212.3 1129.5,1211.6 1129.0,1211.0 1128.5,1210.3 1128.0,1214.0 1127.5,1218.8 1127.0,1224.1 1126.5,1229.5 1126.0,1234.8 1125.5,1254.1 1125.0,1276.9 1124.5,1277.3 1124.0,1277.7 1123.5,1278.0 1123.0,1278.4 1122.5,1278.1 1122.0,1277.6 1121.5,1277.2 1121.0,1269.9 1120.5,1247.2 1120.0,1224.5 1119.5,1213.5 1119.0,1214.9 1118.5,1221.6 1118.0,1230.6 1117.5,1239.6 1117.0,1248.1 1116.5,1256.6 1116.0,1265.1 1115.5,1273.6 1115.0,1282.1 1114.5,1287.4 1114.0,1292.7 1113.5,1320.4 1113.0,1347.1 1112.5,1361.6 1112.0,1363.8 1111.5,1364.2 1111.0,1364.7 1110.5,1364.4 1110.0,1364.1 1109.5,1363.7 1109.0,1351.4 1108.5,1330.1 1108.0,1329.8 1107.5,1329.6 1107.0,1331.8 1106.5,1335.5 1106.0,1342.8 1105.5,1347.4 1105.0,1347.4 1104.5,1347.4 1104.0,1347.4 1103.5,1347.4 1103.0,1347.4 1102.5,1347.4 1102.0,1265.6 1101.5,1251.3 1101.0,1251.3 1100.5,1251.3 1100.0,1251.3 1099.5,1251.3 1099.0,1251.3 1098.5,1252.0 1098.0,1252.7 1097.5,1253.2 1097.0,1253.3 1096.5,1253.4 1096.0,1253.5 1095.5,1253.6 1095.0,1253.7 1094.5,1253.8 1094.0,1297.4 1093.5,1326.6 1093.0,1327.1 1092.5,1328.3 1092.0,1333.8 1091.5,1339.3 1091.0,1356.1 1090.5,1374.5 1090.0,1374.9 1089.5,1375.3 1089.0,1375.6 1088.5,1375.4 1088.0,1375.2 1087.5,1375.0 1087.0,1365.6 1086.5,1355.5 1086.0,1352.4 1085.5,1349.4 1085.0,1349.2 1084.5,1349.1 1084.0,1349.0 1083.5,1348.9 1083.0,1348.7 1082.5,1349.0 1082.0,1349.4 1081.5,1349.7 1081.0,1349.6 1080.5,1349.5 1080.0,1349.4 1079.5,1348.5 1079.0,1346.8 1078.5,1345.0 1078.0,1332.9 1077.5,1327.9 1077.0,1327.4 1076.5,1326.9 1076.0,1326.4 1075.5,1325.9 1075.0,1325.4 1074.5,1324.9 1074.0,1324.4 1073.5,1323.9 1073.0,1330.7 1072.5,1337.3 1072.0,1337.5 1071.5,1337.8 1071.0,1340.7 1070.5,1343.4 1070.0,1345.4 1069.5,1347.4 1069.0,1350.8 1068.5,1352.4 1068.0,1353.0 1067.5,1353.6 1067.0,1353.7 1066.5,1353.3 1066.0,1353.0 1065.5,1352.7 1065.0,1346.3 1064.5,1334.2 1064.0,1320.7 1063.5,1312.6 1063.0,1312.1 1062.5,1311.6 1062.0,1297.1 1061.5,1280.6 1061.0,1265.8 1060.5,1255.1 1060.0,1254.9 1059.5,1254.7 1059.0,1254.5 1058.5,1254.3 1058.0,1254.1 1057.5,1253.9 1057.0,1250.8 1056.5,1245.8 1056.0,1241.5 1055.5,1249.7 1055.0,1258.0 1054.5,1262.4 1054.0,1262.9 1053.5,1263.4 1053.0,1263.9 1052.5,1325.6 1052.0,1338.2 1051.5,1338.6 1051.0,1339.1 1050.5,1339.5 1050.0,1339.5 1049.5,1339.0 1049.0,1338.5 1048.5,1338.0 1048.0,1327.5 1047.5,1315.4 1047.0,1308.9 1046.5,1302.4 1046.0,1307.0 1045.5,1311.9 1045.0,1314.3 1044.5,1314.9 1044.0,1315.6 1043.5,1316.3 1043.0,1316.8 1042.5,1317.0 1042.0,1317.3 1041.5,1317.6 1041.0,1317.5 1040.5,1317.3 1040.0,1317.0 1039.5,1316.7 1039.0,1298.0 1038.5,1288.4 1038.0,1298.2 1037.5,1298.8 1037.0,1299.5 1036.5,1300.2 1036.0,1300.6 1035.5,1300.6 1035.0,1300.6 1034.5,1300.6 1034.0,1300.6 1033.5,1301.8 1033.0,1308.0 1032.5,1314.3 1032.0,1334.1 1031.5,1339.2 1031.0,1340.0 1030.5,1340.8 1030.0,1344.9 1029.5,1347.7 1029.0,1348.2 1028.5,1348.7 1028.0,1354.3 1027.5,1356.6 1027.0,1357.0 1026.5,1357.3 1026.0,1357.6 1025.5,1357.6 1025.0,1357.4 1024.5,1357.2 1024.0,1357.1 1023.5,1348.6 1023.0,1341.9 1022.5,1347.4 1022.0,1348.5 1021.5,1349.0 1021.0,1349.5 1020.5,1349.5 1020.0,1349.1 1019.5,1348.7 1019.0,1348.2 1018.5,1347.7 1018.0,1331.6 1017.5,1298.1 1017.0,1298.1 1016.5,1298.1 1016.0,1298.1 1015.5,1298.1 1015.0,1298.1 1014.5,1301.2 1014.0,1304.3 1013.5,1307.5 1013.0,1316.9 1012.5,1326.9 1012.0,1347.4 1011.5,1356.6 1011.0,1356.9 1010.5,1357.3 1010.0,1357.6 1009.5,1357.3 1009.0,1356.8 1008.5,1356.3 1008.0,1355.8 1007.5,1354.9 1007.0,1353.9 1006.5,1353.1 1006.0,1352.8 1005.5,1352.4 1005.0,1352.1 1004.5,1349.1 1004.0,1343.4 1003.5,1337.6 1003.0,1331.4 1002.5,1325.2 1002.0,1321.2 1001.5,1321.4 1001.0,1321.6 1000.5,1323.3 1000.0,1328.8 999.5,1334.2 999.0,1345.3 998.5,1359.7 998.0,1360.1 997.5,1360.5 997.0,1360.9 996.5,1360.7 996.0,1360.5 995.5,1360.4 995.0,1357.9 994.5,1348.9 994.0,1332.6 993.5,1316.0 993.0,1295.3 992.5,1276.4 992.0,1272.4 991.5,1268.4 991.0,1300.0 990.5,1342.4 990.0,1342.5 989.5,1342.7 989.0,1342.9 988.5,1343.5 988.0,1344.7 987.5,1346.0 987.0,1346.4 986.5,1346.8 986.0,1347.1 985.5,1347.4 985.0,1347.0 984.5,1346.6 984.0,1346.2 983.5,1322.4 983.0,1297.4 982.5,1303.9 982.0,1313.9 981.5,1321.4 981.0,1328.3 980.5,1330.5 980.0,1332.7 979.5,1334.8 979.0,1337.0 978.5,1339.3 978.0,1341.5 977.5,1342.3 977.0,1342.3 976.5,1342.3 976.0,1342.3 975.5,1342.3 975.0,1338.7 974.5,1332.5 974.0,1328.7 973.5,1325.0 973.0,1323.4 972.5,1322.9 972.0,1322.4 971.5,1321.9 971.0,1312.8 970.5,1301.8 970.0,1292.6 969.5,1288.6 969.0,1284.6 968.5,1281.6 968.0,1279.1 967.5,1276.6 967.0,1305.2 966.5,1349.7 966.0,1353.6 965.5,1356.5 965.0,1356.8 964.5,1357.1 964.0,1357.4 963.5,1357.7 963.0,1357.2 962.5,1356.7 962.0,1315.9 961.5,1269.8 961.0,1269.7 960.5,1269.6 960.0,1269.5 959.5,1269.4 959.0,1269.3 958.5,1271.0 958.0,1281.0 957.5,1282.7 957.0,1283.3 956.5,1284.0 956.0,1284.6 955.5,1283.9 955.0,1283.2 954.5,1282.6 954.0,1277.5 953.5,1255.5 953.0,1253.5 952.5,1253.1 952.0,1252.7 951.5,1252.3 951.0,1251.9 950.5,1251.5 950.0,1251.5 949.5,1251.9 949.0,1252.2 948.5,1253.3 948.0,1257.6 947.5,1260.4 947.0,1260.6 946.5,1260.9 946.0,1261.1 945.5,1261.4 945.0,1264.9 944.5,1277.9 944.0,1280.2 943.5,1282.2 943.0,1284.2 942.5,1286.0 942.0,1286.5 941.5,1287.0 941.0,1287.5 940.5,1288.0 940.0,1288.5 939.5,1289.0 939.0,1290.5 938.5,1292.5 938.0,1296.8 937.5,1313.3 937.0,1319.3 936.5,1323.8 936.0,1327.3 935.5,1328.6 935.0,1329.8 934.5,1331.1 934.0,1332.3 933.5,1333.4 933.0,1334.1 932.5,1334.7 932.0,1335.3 931.5,1335.9 931.0,1336.5 930.5,1336.0 930.0,1335.5 929.5,1335.0 929.0,1332.1 928.5,1320.1 928.0,1308.1 927.5,1303.5 927.0,1303.0 926.5,1303.4 926.0,1314.4 925.5,1317.9 925.0,1319.4 924.5,1320.9 924.0,1322.4 923.5,1322.9 923.0,1323.4 922.5,1323.9 922.0,1324.3 921.5,1324.2 921.0,1324.0 920.5,1323.8 920.0,1323.3 919.5,1321.8 919.0,1320.3 918.5,1318.8 918.0,1315.1 917.5,1308.1 917.0,1301.1 916.5,1299.4 916.0,1298.8 915.5,1298.1 915.0,1297.4 914.5,1289.2 914.0,1280.9 913.5,1272.6 913.0,1264.4 912.5,1256.1 912.0,1247.8 911.5,1239.5 911.0,1231.3 910.5,1223.0 910.0,1214.7 909.5,1206.5 909.0,1198.2 908.5,1189.9 908.0,1196.7 907.5,1211.0 907.0,1218.5 906.5,1225.0 906.0,1278.8 905.5,1352.7 905.0,1353.1 904.5,1353.4 904.0,1353.5 903.5,1353.4 903.0,1353.3 902.5,1353.2 902.0,1348.1 901.5,1342.5 901.0,1342.4 900.5,1342.2 900.0,1342.1 899.5,1342.0 899.0,1341.8 898.5,1341.7 898.0,1339.1 897.5,1336.4 897.0,1326.5 896.5,1305.7 896.0,1305.3 895.5,1304.9 895.0,1304.5 894.5,1304.1 894.0,1301.5 893.5,1296.5 893.0,1295.0 892.5,1295.1 892.0,1295.2 891.5,1295.3 891.0,1295.5 890.5,1295.9 890.0,1296.5 889.5,1297.2 889.0,1297.9 888.5,1298.2 888.0,1298.4 887.5,1298.5 887.0,1298.7 886.5,1301.7 886.0,1305.2 885.5,1307.8 885.0,1308.1 884.5,1308.5 884.0,1308.8 883.5,1308.8 883.0,1308.3 882.5,1307.8 882.0,1307.3 881.5,1306.7 881.0,1306.0 880.5,1305.3 880.0,1304.7 879.5,1302.8 879.0,1300.6 878.5,1298.3 878.0,1295.8 877.5,1293.3 877.0,1291.5 876.5,1290.3 876.0,1317.6 875.5,1340.6 875.0,1341.0 874.5,1341.4 874.0,1341.6 873.5,1341.2 873.0,1340.8 872.5,1340.4 872.0,1320.4 871.5,1299.4 871.0,1299.7 870.5,1300.1 870.0,1300.4 869.5,1302.3 869.0,1309.3 868.5,1313.4 868.0,1317.4 867.5,1324.1 867.0,1335.2 866.5,1342.0 866.0,1345.7 865.5,1353.6 865.0,1362.3 864.5,1362.8 864.0,1363.3 863.5,1363.8 863.0,1363.4 862.5,1363.0 862.0,1362.5 861.5,1353.9 861.0,1329.2 860.5,1311.5 860.0,1311.3 859.5,1311.2 859.0,1311.0 858.5,1309.9 858.0,1307.7 857.5,1305.4 857.0,1303.4 856.5,1301.4 856.0,1299.4 855.5,1297.4 855.0,1295.4 854.5,1293.4 854.0,1291.4 853.5,1290.5 853.0,1294.5 852.5,1295.3 852.0,1295.8 851.5,1296.7 851.0,1298.5 850.5,1300.2 850.0,1328.7 849.5,1347.8 849.0,1348.6 848.5,1349.3 848.0,1359.1 847.5,1363.2 847.0,1363.8 846.5,1364.5 846.0,1364.5 845.5,1364.0 845.0,1363.5 844.5,1363.1 844.0,1361.6 843.5,1359.0 843.0,1356.5 842.5,1354.8 842.0,1354.6 841.5,1354.3 841.0,1354.1 840.5,1353.9 840.0,1351.1 839.5,1347.5 839.0,1342.0 838.5,1336.3 838.0,1339.6 837.5,1341.4 837.0,1342.1 836.5,1342.7 836.0,1346.3 835.5,1350.8 835.0,1351.3 834.5,1351.8 834.0,1354.1 833.5,1356.2 833.0,1357.3 832.5,1358.3 832.0,1364.7 831.5,1371.5 831.0,1372.0 830.5,1372.6 830.0,1372.5 829.5,1371.9 829.0,1371.3 828.5,1370.7 828.0,1364.4 827.5,1364.1 827.0,1364.9 826.5,1365.6 826.0,1366.1 825.5,1366.6 825.0,1367.1 824.5,1367.7 824.0,1367.3 823.5,1366.9 823.0,1364.7 822.5,1360.1 822.0,1357.0 821.5,1356.8 821.0,1356.7 820.5,1356.5 820.0,1356.5 819.5,1356.7 819.0,1356.8 818.5,1357.0 818.0,1357.4 817.5,1357.9 817.0,1358.2 816.5,1357.2 816.0,1356.2 815.5,1355.2 815.0,1346.3 814.5,1314.5 814.0,1303.9 813.5,1315.5 813.0,1315.8 812.5,1316.2 812.0,1316.6 811.5,1316.4 811.0,1316.1 810.5,1315.7 810.0,1315.4 809.5,1290.9 809.0,1284.8 808.5,1286.0 808.0,1287.1 807.5,1288.3 807.0,1296.8 806.5,1300.7 806.0,1300.8 805.5,1301.0 805.0,1301.1 804.5,1301.2 804.0,1303.1 803.5,1307.4 803.0,1312.7 802.5,1316.2 802.0,1316.7 801.5,1317.2 801.0,1317.7 800.5,1317.2 800.0,1316.8 799.5,1316.4 799.0,1315.5 798.5,1313.0 798.0,1310.5 797.5,1309.5 797.0,1309.3 796.5,1309.2 796.0,1309.0 795.5,1306.1 795.0,1302.4 794.5,1298.7 794.0,1295.1 793.5,1282.5 793.0,1286.8 792.5,1299.6 792.0,1301.8 791.5,1302.3 791.0,1302.9 790.5,1303.4 790.0,1303.8 789.5,1303.4 789.0,1303.1 788.5,1302.8 788.0,1299.7 787.5,1292.7 787.0,1285.7 786.5,1283.6 786.0,1282.5 785.5,1281.3 785.0,1308.0 784.5,1336.4 784.0,1338.7 783.5,1341.0 783.0,1343.0 782.5,1343.5 782.0,1343.9 781.5,1344.3 781.0,1344.8 780.5,1344.6 780.0,1344.2 779.5,1343.8 779.0,1340.7 778.5,1334.5 778.0,1320.2 777.5,1294.3 777.0,1268.5 776.5,1252.4 776.0,1255.7 775.5,1259.1 775.0,1262.4 774.5,1284.8 774.0,1305.0 773.5,1316.4 773.0,1320.5 772.5,1322.2 772.0,1322.7 771.5,1323.3 771.0,1323.6 770.5,1323.2 770.0,1322.8 769.5,1317.8 769.0,1297.8 768.5,1296.5 768.0,1296.3 767.5,1296.0 767.0,1295.7 766.5,1293.8 766.0,1288.5 765.5,1283.1 765.0,1273.4 764.5,1263.7 764.0,1263.9 763.5,1264.4 763.0,1264.9 762.5,1266.7 762.0,1277.1 761.5,1287.0 761.0,1296.2 760.5,1298.4 760.0,1298.8 759.5,1299.2 759.0,1309.1 758.5,1316.9 758.0,1317.4 757.5,1317.9 757.0,1318.4 756.5,1318.9 756.0,1319.4 755.5,1320.0 755.0,1320.6 754.5,1321.2 754.0,1321.4 753.5,1321.1 753.0,1320.9 752.5,1320.6 752.0,1316.5 751.5,1312.2 751.0,1312.4 750.5,1312.6 750.0,1312.8 749.5,1317.1 749.0,1323.6 748.5,1333.1 748.0,1335.6 747.5,1336.9 747.0,1337.5 746.5,1338.0 746.0,1338.6 745.5,1338.5 745.0,1338.3 744.5,1338.1 744.0,1337.8 743.5,1337.5 743.0,1337.2 742.5,1336.8 742.0,1335.3 741.5,1323.8 741.0,1313.5 740.5,1327.5 740.0,1333.0 739.5,1335.8 739.0,1336.1 738.5,1336.2 738.0,1336.4 737.5,1337.5 737.0,1345.0 736.5,1346.5 736.0,1346.9 735.5,1347.2 735.0,1353.2 734.5,1359.1 734.0,1359.4 733.5,1359.7 733.0,1359.9 732.5,1360.2 732.0,1360.7 731.5,1361.2 731.0,1361.7 730.5,1362.2 730.0,1362.7 729.5,1362.4 729.0,1361.9 728.5,1352.2 728.0,1300.2 727.5,1293.7 727.0,1292.5 726.5,1291.3 726.0,1290.4 725.5,1289.4 725.0,1288.5 724.5,1282.7 724.0,1280.1 723.5,1289.1 723.0,1296.1 722.5,1303.0 722.0,1314.8 721.5,1317.2 721.0,1317.7 720.5,1318.3 720.0,1318.4 719.5,1318.0 719.0,1317.6 718.5,1314.0 718.0,1295.4 717.5,1283.1 717.0,1280.9 716.5,1278.6 716.0,1244.7 715.5,1204.0 715.0,1191.0 714.5,1188.5 714.0,1186.0 713.5,1183.5 713.0,1181.0 712.5,1178.5 712.0,1176.0 711.5,1173.5 711.0,1171.0 710.5,1168.7 710.0,1167.3 709.5,1166.0 709.0,1164.7 708.5,1163.3 708.0,1162.0 707.5,1160.7 707.0,1220.4 706.5,1243.9 706.0,1244.4 705.5,1244.9 705.0,1245.4 704.5,1245.9 704.0,1246.2 703.5,1246.2 703.0,1246.2 702.5,1246.2 702.0,1268.0 701.5,1291.7 701.0,1291.7 700.5,1291.7 700.0,1291.7 699.5,1291.7 699.0,1291.4 698.5,1290.3 698.0,1289.1 697.5,1287.9 697.0,1285.5 696.5,1280.7 696.0,1276.0 695.5,1274.9 695.0,1274.8 694.5,1274.7 694.0,1274.5 693.5,1274.4 693.0,1272.4 692.5,1269.4 692.0,1269.9 691.5,1300.9 691.0,1307.2 690.5,1308.2 690.0,1309.2 689.5,1310.2 689.0,1311.2 688.5,1311.3 688.0,1311.0 687.5,1310.6 687.0,1310.3 686.5,1308.0 686.0,1305.3 685.5,1302.7 685.0,1300.0 684.5,1297.5 684.0,1287.2 683.5,1283.9 683.0,1283.8 682.5,1283.7 682.0,1283.6 681.5,1283.5 681.0,1283.4 680.5,1279.0 680.0,1263.7 679.5,1248.3 679.0,1233.0 678.5,1224.2 678.0,1224.0 677.5,1223.7 677.0,1223.5 676.5,1223.2 676.0,1226.7 675.5,1238.4 675.0,1250.2 674.5,1253.4 674.0,1253.6 673.5,1253.9 673.0,1254.1 672.5,1254.4 672.0,1254.6 671.5,1254.9 671.0,1255.3 670.5,1259.1 670.0,1263.0 669.5,1266.8 669.0,1270.6 668.5,1283.1 668.0,1299.3 667.5,1305.3 667.0,1305.7 666.5,1306.0 666.0,1306.3 665.5,1306.1 665.0,1305.7 664.5,1305.3 664.0,1294.9 663.5,1272.8 663.0,1250.8 662.5,1242.0 662.0,1254.5 661.5,1267.0 661.0,1283.6 660.5,1292.2 660.0,1293.2 659.5,1294.2 659.0,1295.2 658.5,1298.3 658.0,1301.4 657.5,1303.3 657.0,1305.2 656.5,1307.0 656.0,1308.9 655.5,1310.9 655.0,1313.1 654.5,1315.4 654.0,1317.5 653.5,1319.5 653.0,1321.2 652.5,1321.2 652.0,1321.2 651.5,1321.2 651.0,1321.2 650.5,1321.1 650.0,1319.6 649.5,1318.1 649.0,1316.6 648.5,1316.5 648.0,1322.5 647.5,1328.5 647.0,1332.2 646.5,1334.4 646.0,1336.6 645.5,1337.1 645.0,1337.7 644.5,1338.3 644.0,1338.9 643.5,1339.4 643.0,1340.0 642.5,1340.6 642.0,1341.1 641.5,1341.6 641.0,1340.4 640.5,1339.2 640.0,1338.1 639.5,1336.3 639.0,1332.3 638.5,1328.3 638.0,1321.4 637.5,1313.2 637.0,1305.7 636.5,1305.3 636.0,1304.9 635.5,1304.3 635.0,1296.5 634.5,1288.7 634.0,1316.7 633.5,1326.0 633.0,1326.5 632.5,1327.0 632.0,1327.5 631.5,1327.4 631.0,1327.1 630.5,1325.6 630.0,1321.0 629.5,1316.5 629.0,1314.5 628.5,1319.3 628.0,1319.5 627.5,1319.6 627.0,1319.8 626.5,1319.6 626.0,1319.1 625.5,1318.5 625.0,1316.0 624.5,1313.5 624.0,1311.0 623.5,1308.4 623.0,1305.0 622.5,1301.7 622.0,1298.4 621.5,1288.5 621.0,1266.9 620.5,1270.6 620.0,1274.4 619.5,1276.5 619.0,1277.0 618.5,1277.5 618.0,1278.0 617.5,1278.0 617.0,1277.7 616.5,1277.3 616.0,1277.0 615.5,1283.7 615.0,1292.2 614.5,1299.4 614.0,1302.1 613.5,1304.9 613.0,1305.7 612.5,1305.6 612.0,1305.4 611.5,1305.3 611.0,1305.2 610.5,1303.9 610.0,1301.5 609.5,1299.2 609.0,1296.9 608.5,1294.1 608.0,1291.1 607.5,1287.0 607.0,1275.5 606.5,1264.0 606.0,1258.7 605.5,1258.2 605.0,1257.7 604.5,1257.2 604.0,1256.7 603.5,1253.4 603.0,1246.4 602.5,1239.4 602.0,1236.3 601.5,1233.8 601.0,1257.3 600.5,1337.2 600.0,1337.7 599.5,1338.2 599.0,1338.4 598.5,1338.2 598.0,1338.1 597.5,1337.9 597.0,1334.9 596.5,1330.3 596.0,1325.6 595.5,1320.9 595.0,1298.4 594.5,1270.6 594.0,1276.3 593.5,1282.8 593.0,1283.8 592.5,1284.3 592.0,1284.8 591.5,1285.2 591.0,1284.4 590.5,1283.5 590.0,1282.7 589.5,1275.3 589.0,1246.3 588.5,1254.5 588.0,1264.7 587.5,1274.9 587.0,1285.2 586.5,1296.7 586.0,1299.3 585.5,1300.1 585.0,1300.6 584.5,1300.2 584.0,1299.9 583.5,1299.6 583.0,1284.0 582.5,1252.6 582.0,1262.6 581.5,1272.6 581.0,1277.8 580.5,1279.2 580.0,1280.7 579.5,1282.2 579.0,1286.8 578.5,1303.7 578.0,1318.0 577.5,1318.6 577.0,1319.1 576.5,1319.7 576.0,1320.2 575.5,1320.7 575.0,1323.2 574.5,1331.1 574.0,1339.0 573.5,1346.1 573.0,1349.3 572.5,1352.6 572.0,1354.4 571.5,1355.2 571.0,1356.0 570.5,1356.9 570.0,1356.4 569.5,1355.6 569.0,1354.7 568.5,1353.9 568.0,1337.7 567.5,1320.2 567.0,1308.4 566.5,1306.7 566.0,1305.0 565.5,1303.4 565.0,1300.9 564.5,1297.5 564.0,1294.2 563.5,1290.9 563.0,1294.6 562.5,1302.0 562.0,1309.3 561.5,1316.6 561.0,1336.0 560.5,1346.4 560.0,1346.9 559.5,1347.4 559.0,1347.9 558.5,1348.4 558.0,1348.6 557.5,1348.2 557.0,1347.9 556.5,1347.6 556.0,1341.4 555.5,1330.6 555.0,1319.9 554.5,1312.1 554.0,1304.4 553.5,1297.3 553.0,1291.0 552.5,1284.8 552.0,1284.1 551.5,1284.3 551.0,1284.5 550.5,1284.8 550.0,1293.8 549.5,1302.8 549.0,1309.1 548.5,1312.1 548.0,1315.1 547.5,1317.2 547.0,1319.2 546.5,1320.5 546.0,1320.3 545.5,1320.1 545.0,1320.0 544.5,1318.5 544.0,1315.8 543.5,1313.0 543.0,1307.7 542.5,1302.2 542.0,1293.5 541.5,1279.0 541.0,1264.5 540.5,1261.2 540.0,1260.9 539.5,1260.5 539.0,1260.1 538.5,1259.7 538.0,1258.8 537.5,1257.5 537.0,1256.5 536.5,1257.5 536.0,1258.5 535.5,1259.5 535.0,1260.5 534.5,1261.5 534.0,1261.9 533.5,1262.3 533.0,1262.7 532.5,1263.0 532.0,1263.4 531.5,1261.6 531.0,1259.3 530.5,1257.6 530.0,1257.4 529.5,1257.1 529.0,1256.9 528.5,1256.6 528.0,1255.9 527.5,1252.9 527.0,1249.9 526.5,1243.8 526.0,1235.5 525.5,1227.1 525.0,1218.8 524.5,1215.6 524.0,1214.1 523.5,1214.8 523.0,1225.8 522.5,1236.8 522.0,1247.8 521.5,1257.8 521.0,1265.8 520.5,1273.8 520.0,1286.8 519.5,1301.3 519.0,1313.8 518.5,1318.8 518.0,1323.8 517.5,1326.1 517.0,1326.7 516.5,1327.4 516.0,1328.1 515.5,1328.0 515.0,1327.8 514.5,1325.8 514.0,1318.3 513.5,1310.8 513.0,1303.3 512.5,1297.4 512.0,1293.9 511.5,1290.4 511.0,1284.0 510.5,1277.0 510.0,1270.0 509.5,1263.0 509.0,1262.5 508.5,1262.2 508.0,1261.8 507.5,1262.5 507.0,1270.0 506.5,1277.5 506.0,1296.6 505.5,1317.4 505.0,1319.9 504.5,1322.4 504.0,1333.1 503.5,1341.2 503.0,1341.7 502.5,1342.2 502.0,1342.7 501.5,1343.2 501.0,1343.3 500.5,1342.5 500.0,1341.7 499.5,1340.9 499.0,1340.1 498.5,1339.3 498.0,1338.5 497.5,1333.1 497.0,1327.1 496.5,1323.0 496.0,1322.9 495.5,1322.8 495.0,1322.7 494.5,1322.5 494.0,1321.9 493.5,1319.1 493.0,1316.4 492.5,1315.1 492.0,1314.6 491.5,1314.1 491.0,1313.6 490.5,1313.1 490.0,1309.3 489.5,1302.3 489.0,1295.4 488.5,1290.9 488.0,1297.3 487.5,1301.5 487.0,1302.1 486.5,1302.7 486.0,1303.3 485.5,1303.9 485.0,1304.5 484.5,1305.1 484.0,1305.9 483.5,1306.7 483.0,1307.5 482.5,1308.3 482.0,1309.1 481.5,1309.9 481.0,1310.2 480.5,1310.0 480.0,1309.8 479.5,1309.7 479.0,1304.5 478.5,1297.3 478.0,1290.1 477.5,1283.0 477.0,1285.0 476.5,1288.3 476.0,1291.6 475.5,1295.2 475.0,1306.7 474.5,1318.2 474.0,1326.9 473.5,1332.4 473.0,1337.9 472.5,1343.4 472.0,1345.7 471.5,1346.1 471.0,1346.5 470.5,1346.9 470.0,1347.2 469.5,1347.1 469.0,1346.4 468.5,1345.8 468.0,1345.1 467.5,1323.7 467.0,1290.7 466.5,1260.1 466.0,1258.1 465.5,1256.1 465.0,1260.9 464.5,1272.2 464.0,1283.4 463.5,1284.2 463.0,1284.5 462.5,1284.7 462.0,1285.0 461.5,1285.2 461.0,1283.0 460.5,1280.2 460.0,1278.2 459.5,1278.2 459.0,1278.2 458.5,1278.2 458.0,1278.2 457.5,1280.3 457.0,1296.8 456.5,1313.3 456.0,1327.0 455.5,1338.5 455.0,1350.0 454.5,1350.6 454.0,1350.3 453.5,1350.0 453.0,1349.6 452.5,1349.2 452.0,1347.8 451.5,1346.4 451.0,1345.1 450.5,1343.7 450.0,1342.3 449.5,1313.8 449.0,1285.3 448.5,1271.2 448.0,1275.8 447.5,1280.4 447.0,1285.0 446.5,1289.6 446.0,1294.2 445.5,1298.7 445.0,1299.5 444.5,1300.2 444.0,1301.0 443.5,1301.7 443.0,1302.5 442.5,1310.0 442.0,1318.2 441.5,1323.7 441.0,1323.6 440.5,1323.5 440.0,1323.4 439.5,1323.3 439.0,1323.2 438.5,1323.1 438.0,1318.3 437.5,1313.1 437.0,1307.9 436.5,1302.7 436.0,1297.5 435.5,1292.3 435.0,1291.3 434.5,1294.3 434.0,1297.3 433.5,1300.3 433.0,1303.3 432.5,1306.3 432.0,1309.9 431.5,1318.9 431.0,1327.9 430.5,1332.4 430.0,1333.1 429.5,1333.7 429.0,1334.4 428.5,1346.7 428.0,1364.2 427.5,1379.6 427.0,1380.6 426.5,1381.6 426.0,1382.6 425.5,1382.8 425.0,1380.8 424.5,1378.8 424.0,1376.8 423.5,1365.4 423.0,1341.9 422.5,1318.4 422.0,1320.6 421.5,1326.6 421.0,1330.8 420.5,1331.1 420.0,1331.3 419.5,1331.6 419.0,1331.8 418.5,1332.6 418.0,1335.6 417.5,1338.6 417.0,1341.6 416.5,1343.8 416.0,1344.3 415.5,1344.8 415.0,1345.3 414.5,1344.4 414.0,1342.0 413.5,1339.6 413.0,1337.2 412.5,1334.9 412.0,1333.2 411.5,1333.0 411.0,1332.7 410.5,1332.5 410.0,1332.2 409.5,1332.3 409.0,1333.3 408.5,1334.3 408.0,1335.3 407.5,1336.3 407.0,1337.3 406.5,1338.8 406.0,1340.3 405.5,1341.8 405.0,1343.3 404.5,1344.8 404.0,1345.1 403.5,1345.3 403.0,1345.5 402.5,1345.7 402.0,1345.9 401.5,1346.1 401.0,1346.5 400.5,1347.2 400.0,1347.9 399.5,1348.5 399.0,1349.1 398.5,1349.6 398.0,1350.1 397.5,1350.6 397.0,1346.1 396.5,1340.8 396.0,1337.2 395.5,1337.4 395.0,1337.6 394.5,1337.7 394.0,1337.6 393.5,1337.3 393.0,1336.9 392.5,1336.5 392.0,1336.1 391.5,1327.2 391.0,1302.9 390.5,1309.9 390.0,1316.9 389.5,1320.8 389.0,1321.5 388.5,1322.2 388.0,1322.8 387.5,1322.2 387.0,1320.9 386.5,1319.6 386.0,1318.2 385.5,1312.4 385.0,1305.4 384.5,1298.4 384.0,1291.4 383.5,1286.8 383.0,1282.3 382.5,1278.8 382.0,1276.9 381.5,1275.1 381.0,1273.2 380.5,1271.3 380.0,1269.5 379.5,1267.6 379.0,1265.8 378.5,1263.9 378.0,1266.1 377.5,1274.1 377.0,1282.1 376.5,1282.9 376.0,1282.4 375.5,1281.9 375.0,1281.4 374.5,1280.9 374.0,1280.4 373.5,1280.9 373.0,1282.6 372.5,1284.4 372.0,1284.5 371.5,1284.4 371.0,1284.3 370.5,1284.1 370.0,1284.0 369.5,1283.6 369.0,1283.1 368.5,1282.6 368.0,1282.1 367.5,1281.6 367.0,1281.1 366.5,1289.8 366.0,1315.5 365.5,1316.8 365.0,1318.1 364.5,1319.5 364.0,1320.5 363.5,1320.3 363.0,1320.2 362.5,1320.1 362.0,1319.9 361.5,1319.8 361.0,1319.6 360.5,1319.5 360.0,1319.3 359.5,1318.6 359.0,1315.8 358.5,1313.1 358.0,1310.3 357.5,1307.6 357.0,1305.0 356.5,1303.7 356.0,1302.5 355.5,1301.2 355.0,1300.0 354.5,1298.7 354.0,1299.0 353.5,1299.2 353.0,1299.5 352.5,1299.7 352.0,1300.0 351.5,1299.8 351.0,1299.5 350.5,1299.3 350.0,1299.0 349.5,1298.8 349.0,1288.3 348.5,1273.8 348.0,1259.6 347.5,1246.9 347.0,1234.3 346.5,1221.6 346.0,1212.4 345.5,1210.9 345.0,1209.4 344.5,1207.9 344.0,1206.4 343.5,1205.0 343.0,1204.2 342.5,1203.4 342.0,1202.6 341.5,1201.8 341.0,1201.0 340.5,1200.2 340.0,1200.4 339.5,1200.9 339.0,1201.4 338.5,1201.9 338.0,1202.4 337.5,1202.6 337.0,1202.5 336.5,1200.7 336.0,1196.0 335.5,1191.2 335.0,1186.5 334.5,1181.7 334.0,1177.2 333.5,1172.7 333.0,1168.2 332.5,1163.7 332.0,1154.7 331.5,1143.7 331.0,1140.5 330.5,1144.1 330.0,1147.7 329.5,1151.3 329.0,1154.8 328.5,1158.4 328.0,1162.0 327.5,1165.6 327.0,1169.2 326.5,1172.8 326.0,1202.6 325.5,1256.5 325.0,1320.5 324.5,1331.5 324.0,1342.5 323.5,1351.6 323.0,1358.1 322.5,1364.6 322.0,1365.4 321.5,1365.4 321.0,1365.4 320.5,1365.4 320.0,1363.2 319.5,1354.7 319.0,1346.1 318.5,1337.6 318.0,1329.1 317.5,1330.6 317.0,1333.3 316.5,1335.9 316.0,1338.6 315.5,1340.3 315.0,1342.1 314.5,1343.8 314.0,1345.6 313.5,1347.3 313.0,1348.8 312.5,1350.3 312.0,1351.3 311.5,1351.5 311.0,1351.7 310.5,1351.8 310.0,1350.2 309.5,1346.8 309.0,1343.4 308.5,1340.1 308.0,1336.7 307.5,1337.8 307.0,1346.2 306.5,1354.5 306.0,1362.8 305.5,1368.0 305.0,1370.5 304.5,1373.0 304.0,1375.5 303.5,1378.0 303.0,1378.5 302.5,1378.9 302.0,1379.2 301.5,1377.1 301.0,1369.7 300.5,1362.4 300.0,1355.1 299.5,1355.5 299.0,1355.8 298.5,1356.1 298.0,1355.9 297.5,1352.8 297.0,1349.6 296.5,1346.4 296.0,1344.2 295.5,1344.1 295.0,1344.0 294.5,1343.9 294.0,1343.7 293.5,1343.6 293.0,1321.9 292.5,1289.4 292.0,1277.9 291.5,1279.6 291.0,1281.3 290.5,1282.9 290.0,1287.8 289.5,1293.5 289.0,1299.3 288.5,1303.6 288.0,1305.9 287.5,1308.1 287.0,1308.6 286.5,1305.9 286.0,1303.1 285.5,1301.0 285.0,1299.1 284.5,1297.2 284.0,1220.2 283.5,1216.5 283.0,1216.4 282.5,1216.2 282.0,1216.1 281.5,1215.9 281.0,1215.8 280.5,1215.7 280.0,1212.5 279.5,1194.6 279.0,1176.6 278.5,1168.7 278.0,1168.4 277.5,1168.1 277.0,1167.8 276.5,1167.5 276.0,1167.2 275.5,1166.9 275.0,1165.5 274.5,1163.4 274.0,1161.3 273.5,1159.3 273.0,1157.2 272.5,1155.2 272.0,1153.1 271.5,1151.8 271.0,1152.5 270.5,1153.2 270.0,1188.8 269.5,1220.3 269.0,1258.0 268.5,1299.5 268.0,1325.5 267.5,1328.6 267.0,1328.9 266.5,1329.3 266.0,1334.1 265.5,1337.8 265.0,1337.8 264.5,1337.8 264.0,1332.8 263.5,1308.3 263.0,1306.3 262.5,1306.2 262.0,1306.1 261.5,1306.0 261.0,1305.9 260.5,1300.5 260.0,1281.7 259.5,1276.9 259.0,1276.9 258.5,1276.9 258.0,1276.9 257.5,1276.9 257.0,1276.9 256.5,1276.9 256.0,1276.9 255.5,1276.9 255.0,1276.9 254.5,1290.8 254.0,1319.4 253.5,1331.0 253.0,1335.0 252.5,1338.5 252.0,1338.7 251.5,1339.0 251.0,1339.2 250.5,1339.5 250.0,1339.7 249.5,1339.2 249.0,1338.7 248.5,1338.2 248.0,1337.7 247.5,1337.2 247.0,1336.7 246.5,1336.2 246.0,1335.4 245.5,1333.7 245.0,1332.1 244.5,1330.4 244.0,1333.6 243.5,1342.6 243.0,1351.6 242.5,1354.7 242.0,1357.0 241.5,1359.3 241.0,1361.5 240.5,1361.3 240.0,1361.0 239.5,1357.1 239.0,1349.2 238.5,1341.4 238.0,1333.6 237.5,1332.7 237.0,1335.7 236.5,1338.7 236.0,1341.7 235.5,1343.1 235.0,1344.1 234.5,1345.1 234.0,1346.1 233.5,1347.1 233.0,1348.1 232.5,1347.2 232.0,1343.2 231.5,1339.2 231.0,1335.2"/><path d="M247.0 1303.2V1322.1M256.0 1226.6V1261.3M272.0 1125.2V1145.0M283.0 1101.1V1153.9M297.5 1314.0V1327.4M307.0 1305.2V1329.3M328.5 956.2V1099.6M341.5 1155.9V1195.0M387.5 1180.8V1289.8M436.0 1250.4V1271.6M453.0 1274.3V1318.7M534.5 1228.6V1242.5M551.0 1259.6V1271.6M558.5 1291.3V1304.2M577.5 1259.1V1269.6M602.0 1195.3V1220.4M627.5 1281.4V1301.0M681.0 1200.8V1211.2M687.5 1249.5V1277.4M695.5 1240.1V1251.6M701.0 1175.9V1212.4M755.0 1293.3V1310.9M771.0 1241.7V1277.9M799.0 1261.9V1287.1M837.5 1303.8V1319.9M852.5 1208.0V1250.3M865.5 1275.7V1293.4M875.5 1247.7V1268.5M913.0 1172.0V1206.6M956.0 1167.8V1238.8M1022.5 1294.4V1321.9M1034.0 1253.7V1288.2M1061.0 1210.8V1237.0M1071.0 1297.5V1308.6M1095.0 1226.5V1241.4M1105.5 1296.4V1320.5M1120.5 1169.7V1199.6M1131.0 1181.1V1193.0M1164.5 1251.2V1270.7M1185.5 1247.6V1308.1M1219.5 1091.2V1154.4M1228.0 1273.0V1328.8M1267.0 1294.4V1306.2M1293.5 1187.8V1201.5M1304.0 1205.1V1228.0M1335.0 1207.1V1240.3M1351.0 1285.8V1326.0M1422.0 1151.1V1243.9M1462.5 1233.2V1255.7M1476.0 1115.6V1197.1M1493.0 1238.2V1273.5M1524.5 1312.0V1322.0M1547.5 1317.2V1329.0M1553.0 1272.4V1293.4M1563.0 1193.7V1235.7M1577.0 1267.7V1294.4M1624.0 1059.4V1152.6M1641.0 1142.7V1202.6M1671.5 1129.8V1161.9M1713.0 1314.0V1326.6M1726.0 1288.8V1309.8M1750.5 1183.9V1241.3M1774.0 1234.1V1269.1M1803.5 1188.8V1265.3M1845.0 1213.9V1241.4M1873.5 1307.5V1332.6M1939.0 1260.1V1294.1M1946.0 1287.1V1308.0M1959.5 1325.5V1353.7M1983.5 1248.0V1271.4M1998.0 1166.5V1201.8M2023.5 1319.5V1332.0" stroke="#fff" stroke-width="1" fill="none"/><path d="M368.0 1224.2V1252.7M372.5 1204.3V1266.4M378.0 1206.9V1241.4M464.5 1204.7V1238.8M485.5 1259.0V1280.1M493.5 1277.9V1296.6M515.0 1258.8V1275.2M587.0 1168.4V1207.7M638.5 1247.3V1291.2M674.5 1153.7V1213.8M721.5 1255.6V1272.2M730.5 1259.6V1278.1M745.0 1303.5V1322.4M819.0 1272.5V1341.4M883.5 1263.4V1291.2M894.0 1240.6V1271.8M940.0 1251.2V1276.9M951.0 1159.6V1239.0M960.5 1203.9V1241.3M1013.5 1268.4V1278.7M1079.5 1296.5V1320.7M1285.5 1158.7V1222.6M1315.0 1241.6V1286.8M1364.0 1258.3V1315.7M1382.0 1168.0V1210.8M1401.5 1228.4V1284.7M1428.5 1319.0V1334.9M1446.0 1275.5V1300.7M1504.0 1310.1V1326.6M1618.5 1222.2V1323.0M1676.0 1030.2V1181.5M1694.0 1224.9V1258.2M1720.0 1292.4V1307.8M1734.5 1251.9V1276.4M1783.0 1257.3V1303.7M1856.5 1318.6V1331.0" stroke="#fff" stroke-width="1.5" fill="none"/><path d="M354.5 1254.1V1278.2M400.0 1305.9V1324.8M412.0 1288.0V1326.4M444.5 1213.9V1253.4M500.5 1292.9V1311.2M525.0 1185.8V1202.7M566.5 1253.3V1281.0M596.5 1194.1V1246.5M617.5 1227.1V1251.8M650.0 1288.2V1303.9M663.0 1159.3V1226.7M705.5 1112.5V1140.2M803.5 1236.6V1279.4M928.0 1256.7V1281.9M991.5 1201.1V1261.5M1007.0 1308.1V1327.1M1141.0 1275.5V1311.4M1151.0 1242.5V1262.7M1169.0 1233.7V1256.8M1180.0 1294.4V1314.1M1208.0 1199.2V1220.8M1281.0 1099.0V1229.1M1323.5 1264.2V1281.6M1343.5 1323.3V1344.0M1440.0 1254.0V1281.6M1512.0 1293.1V1315.9M1543.0 1311.3V1324.5M1585.5 1199.3V1216.0M1594.0 1335.1V1350.0M1832.5 1227.1V1258.1M1863.0 1322.3V1337.7M1881.5 1280.7V1327.5M1892.0 1181.3V1221.7M1926.5 1313.6V1337.0M1954.5 1287.7V1321.1M2010.5 1230.5V1268.1" stroke="#fff" stroke-width="2" fill="none"/></g>
<text class="t" transform="translate(231.0 1568.3) scale(.977 1)" text-anchor="middle">0</text>
<text class="t" transform="translate(414.4 1568.3) scale(.977 1)" text-anchor="middle">0.2</text>
<text class="t" transform="translate(597.8 1568.3) scale(.977 1)" text-anchor="middle">0.4</text>
<text class="t" transform="translate(781.2 1568.3) scale(.977 1)" text-anchor="middle">0.6</text>
<text class="t" transform="translate(964.6 1568.3) scale(.977 1)" text-anchor="middle">0.8</text>
<text class="t" transform="translate(1148.0 1568.3) scale(.977 1)" text-anchor="middle">1</text>
<text class="t" transform="translate(1331.4 1568.3) scale(.977 1)" text-anchor="middle">1.2</text>
<text class="t" transform="translate(1514.8 1568.3) scale(.977 1)" text-anchor="middle">1.4</text>
<text class="t" transform="translate(1698.2 1568.3) scale(.977 1)" text-anchor="middle">1.6</text>
<text class="t" transform="translate(1881.6 1568.3) scale(.977 1)" text-anchor="middle">1.8</text>
<text class="t" transform="translate(2063.0 1568.3) scale(.977 1)" text-anchor="middle">2</text>
<text class="t" transform="translate(205 1508.8) scale(.977 1)" text-anchor="end">0</text>
<text class="t" transform="translate(205 1220.6) scale(.977 1)" text-anchor="end">0.5</text>
<text class="t" transform="translate(205 932.4) scale(.977 1)" text-anchor="end">1</text>
<text class="t" transform="translate(205 644.2) scale(.977 1)" text-anchor="end">1.5</text>
<text class="t" transform="translate(205 356.0) scale(.977 1)" text-anchor="end">2</text>
<text class="t" transform="translate(205 67.8) scale(.977 1)" text-anchor="end">2.5</text>
<text x="1933" y="1666.5" style="font-size:64px;fill:#333">×</text>
<text class="t" transform="translate(1976 1658.3) scale(.977 1)">10</text>
<text x="2039" y="1634" style="font-size:44px;fill:#404040">4</text>
<text class="l" x="1148" y="1667.5" text-anchor="middle" style="letter-spacing:0.45px">Epoch [30 s]</text>
<text class="l" transform="translate(90 765.5) rotate(-90)" text-anchor="middle" style="fill:#222;stroke:#222">[m]</text>
<rect x="1697" y="91" width="321" height="152" fill="#fff" stroke="#262626" stroke-width="4" shape-rendering="crispEdges"/>
<circle cx="1798.3" cy="133" r="4.6" fill="#f00"/>
<path d="M1714 202H1883" stroke="#00f" stroke-width="4" shape-rendering="crispEdges"/>
<text transform="translate(1895.3 154) scale(1 1.045)" style="font-size:50.3px;fill:#000">HPE</text>
<text transform="translate(1895.3 222.8) scale(1 1.045)" style="font-size:50.3px;fill:#000">HPL</text>
</svg></body></html>
